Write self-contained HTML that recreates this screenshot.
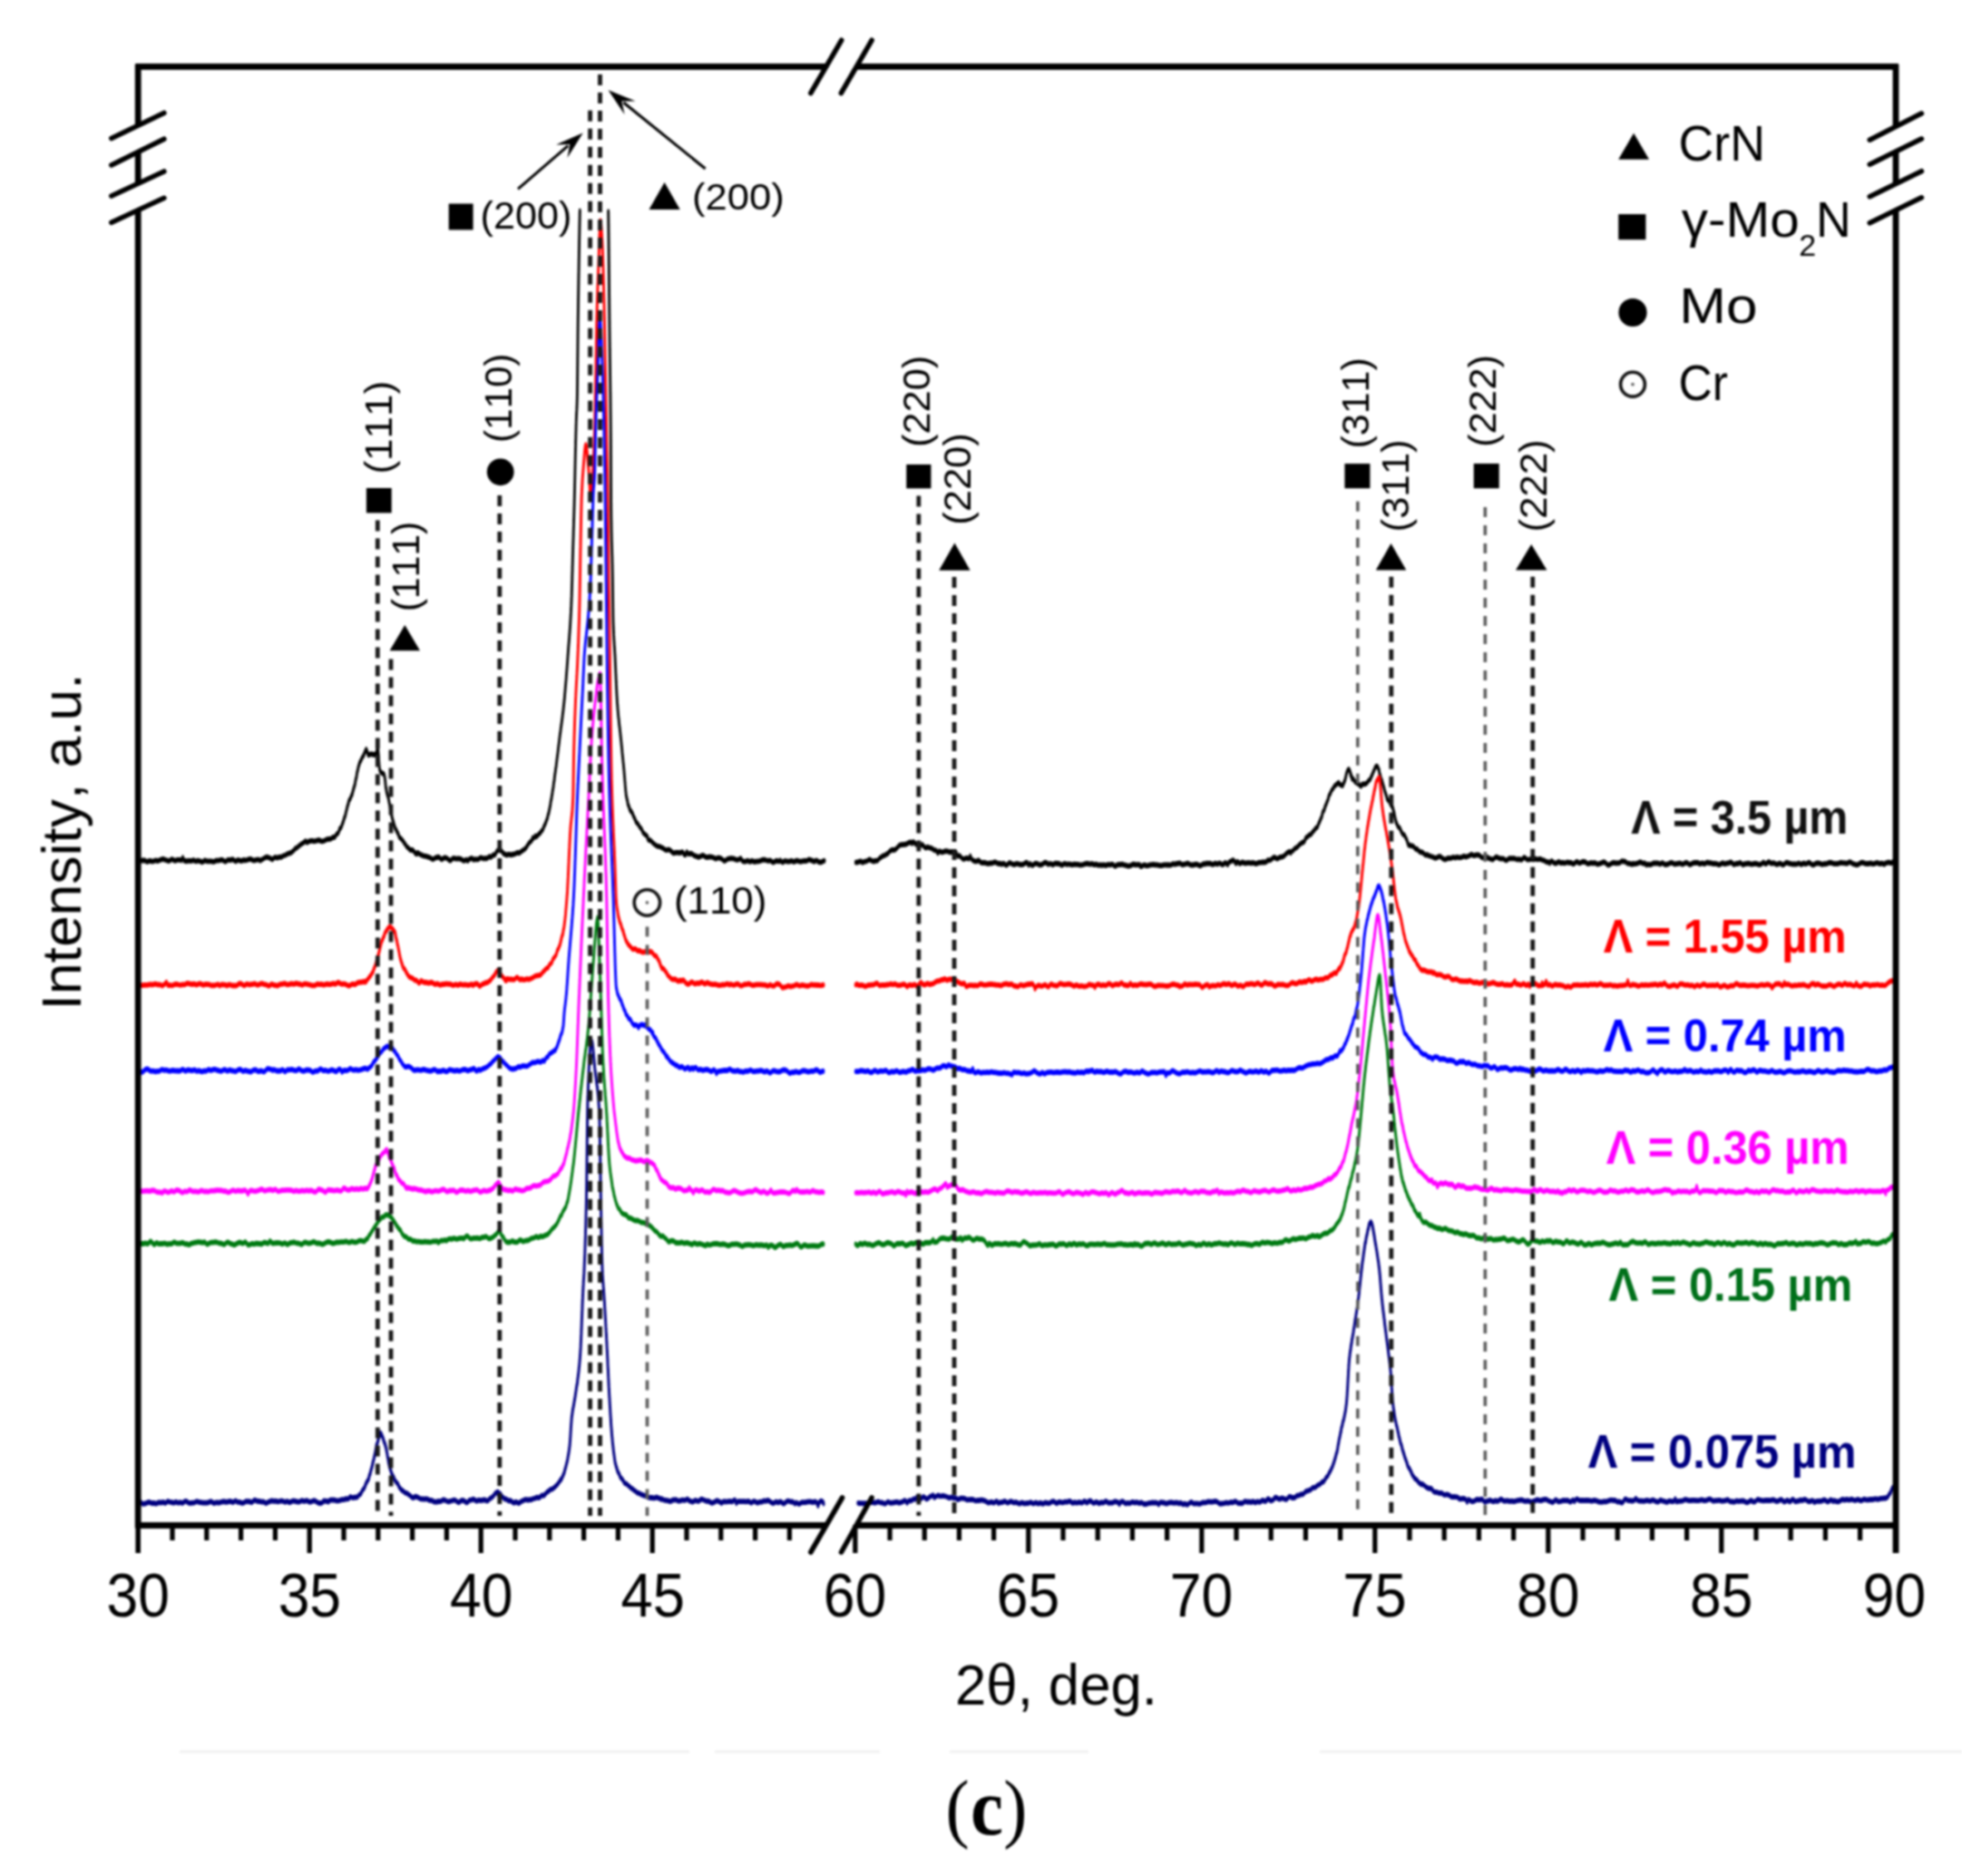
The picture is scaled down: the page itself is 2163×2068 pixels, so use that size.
<!DOCTYPE html>
<html><head><meta charset="utf-8"><title>XRD patterns</title><style>html,body{margin:0;padding:0;background:#fff;width:2163px;height:2068px;overflow:hidden}</style></head><body><svg width="2163" height="2068" viewBox="0 0 2163 2068" style="display:block;font-kerning:none;filter:blur(0.8px)">
<rect width="2163" height="2068" fill="#ffffff"/>
<g stroke="#f1f1f1" stroke-width="3">
<line x1="198" y1="1931" x2="760" y2="1931"/>
<line x1="788" y1="1931" x2="970" y2="1931"/>
<line x1="1047" y1="1931" x2="1200" y2="1931"/>
<line x1="1455" y1="1931" x2="2163" y2="1931"/>
</g>
<path transform="scale(0.48 1)" d="M316.7 949.6L319.8 949.6 322.9 949.0 326.0 948.5 329.2 948.4 332.3 948.5 335.4 949.4 338.5 950.0 341.7 949.1 344.8 948.8 347.9 949.4 351.0 949.6 354.2 949.0 357.3 948.5 360.4 948.9 363.5 949.0 366.7 948.2 369.8 947.6 372.9 947.1 375.0 946.9 376.0 947.2 379.2 947.8 382.3 948.2 385.4 948.8 388.5 949.1 391.7 948.1 394.8 947.1 397.9 947.8 401.0 948.8 404.2 948.5 407.3 947.8 410.4 947.8 413.5 947.9 416.7 948.5 419.8 945.4 422.9 948.8 426.0 949.0 429.2 949.4 432.3 948.9 435.4 948.8 438.5 949.1 441.7 948.7 444.8 948.2 447.9 949.1 451.0 949.4 454.2 948.7 457.3 949.1 458.3 949.2 460.4 949.3 463.5 950.4 466.7 949.8 469.8 948.5 472.9 948.8 476.0 949.3 479.2 949.3 482.3 949.3 485.4 949.3 488.5 949.8 491.7 949.9 494.8 949.0 497.9 948.6 501.0 948.6 504.2 948.4 507.3 947.9 510.4 947.9 513.5 948.7 516.7 949.7 519.8 949.3 522.9 947.9 526.0 947.9 529.2 948.3 532.3 947.3 535.4 947.5 538.5 948.7 541.7 949.5 541.7 949.3 544.8 948.4 547.9 948.0 551.0 948.6 554.1 949.1 557.3 948.4 560.4 948.0 563.5 948.3 566.6 948.1 569.8 947.5 572.9 947.1 576.0 946.8 579.1 947.9 582.2 948.5 585.4 948.4 588.5 947.9 591.6 947.7 594.7 947.7 597.8 948.8 601.0 947.6 604.1 947.0 604.2 946.5 607.2 946.1 610.3 945.1 613.4 944.7 616.5 945.3 619.6 945.7 622.7 946.8 625.9 947.3 629.0 945.8 632.0 945.0 635.1 945.5 638.2 945.5 641.3 944.9 644.4 944.7 645.8 945.0 647.4 944.5 650.4 943.4 653.4 943.0 656.2 942.5 659.0 941.6 661.8 941.0 664.5 940.5 667.2 940.3 669.9 939.5 672.5 938.3 675.2 937.2 677.1 936.2 677.9 935.3 680.4 934.8 682.8 934.3 685.1 933.1 687.4 932.3 689.6 931.4 691.9 930.5 694.3 929.8 696.8 929.2 699.4 928.0 702.4 927.1 704.2 928.3 705.5 928.8 708.6 927.7 711.7 927.1 714.8 926.8 717.9 926.9 721.1 927.4 724.2 927.2 727.3 926.7 730.4 926.3 733.3 925.9 733.6 926.4 736.7 927.2 739.8 927.4 742.9 927.2 746.0 926.5 749.1 925.6 752.1 925.2 755.2 925.0 758.2 924.8 761.2 924.4 762.5 923.8 764.1 923.0 766.7 923.0 769.1 922.8 771.2 921.1 773.2 919.5 775.0 919.1 776.9 918.2 778.6 916.0 779.2 915.4 780.2 913.3 781.7 913.1 783.0 912.4 784.3 911.2 785.4 909.6 786.5 908.1 787.6 906.8 788.6 905.3 789.6 903.7 790.6 902.0 791.5 900.8 792.3 900.2 792.5 899.8 793.3 898.3 794.1 896.8 794.8 895.2 795.5 893.8 796.2 892.5 796.9 891.0 797.6 889.5 798.4 888.2 799.2 887.1 800.0 885.8 800.1 885.4 801.1 883.4 802.2 881.9 803.5 881.3 804.7 880.2 806.0 878.5 807.2 877.2 808.3 876.0 809.0 875.9 809.3 874.4 810.2 872.9 811.1 871.4 812.0 869.7 812.8 868.4 813.6 867.3 814.4 866.0 815.1 864.9 815.8 863.0 816.6 860.6 817.2 859.0 817.7 858.4 817.9 857.9 818.6 856.6 819.1 855.1 819.7 853.1 820.2 851.5 820.8 850.5 821.5 849.3 822.1 847.9 822.2 847.6 823.0 845.8 823.9 844.2 824.8 843.0 825.8 841.4 826.8 839.9 828.0 839.1 829.2 838.2 829.3 837.8 830.9 836.1 832.6 834.6 834.3 833.3 834.4 833.4 835.5 832.5 836.4 831.1 837.3 829.9 838.2 828.9 839.3 827.6 841.0 826.0 841.3 826.1 842.6 827.5 843.4 829.1 844.2 829.8 845.2 831.4 845.8 832.3 848.1 832.0 851.0 831.3 854.0 831.2 854.2 831.7 856.5 831.6 858.4 831.8 860.7 832.2 861.0 831.3 862.6 831.2 863.5 831.0 864.4 830.4 865.2 828.6 866.1 826.6 867.7 825.4 867.8 826.4 868.4 827.6 868.8 829.0 869.0 830.5 869.3 832.1 869.5 833.7 869.7 835.2 869.9 836.5 870.1 838.0 870.4 839.5 870.6 841.0 870.8 842.5 871.0 843.9 871.3 845.3 871.7 846.8 872.1 847.8 872.4 849.0 873.6 850.6 875.3 851.3 877.6 852.4 880.0 852.7 881.7 853.2 883.0 855.2 883.3 856.0 883.8 857.0 884.2 858.3 884.6 860.2 884.9 861.6 885.2 863.2 885.5 864.7 885.8 866.2 886.1 867.8 886.6 869.0 886.7 868.9 887.1 870.2 887.7 872.2 888.5 874.1 889.3 875.4 890.1 876.7 890.9 877.9 891.7 879.2 892.1 879.9 892.4 880.6 893.0 882.3 893.6 884.0 894.2 885.4 894.7 886.5 895.3 887.8 895.8 889.5 896.4 891.4 896.9 892.8 897.5 894.0 898.0 895.2 898.6 896.5 899.2 898.3 899.9 900.0 900.0 900.0 900.6 901.1 901.3 902.6 902.1 904.0 902.9 905.1 903.7 906.6 904.6 908.3 905.0 909.0 905.7 909.9 906.8 911.7 908.0 913.3 909.2 914.2 910.4 915.2 911.7 916.8 913.1 918.0 914.5 919.2 916.0 921.3 917.5 923.1 919.1 923.7 920.9 924.3 922.7 925.4 924.2 926.4 924.6 926.3 926.6 927.7 928.6 929.5 930.7 930.6 932.8 932.3 935.0 933.8 937.2 934.4 939.4 935.6 941.8 936.9 944.2 937.0 946.7 936.9 949.2 937.6 951.9 939.3 954.6 941.2 957.5 941.3 957.5 940.1 960.4 940.2 963.3 941.2 966.3 942.1 969.2 942.7 972.2 943.3 975.2 943.7 978.2 943.9 981.2 944.3 984.2 944.8 987.3 945.3 990.3 946.3 993.4 947.2 996.5 946.9 999.6 945.7 1002.7 945.2 1005.4 945.4 1005.8 944.7 1009.0 945.1 1012.1 946.8 1015.2 947.3 1018.3 946.2 1021.4 945.4 1024.6 945.7 1027.7 946.5 1030.8 947.9 1033.9 948.8 1037.0 947.7 1040.2 946.2 1043.3 946.1 1046.4 946.7 1049.5 946.7 1052.7 946.5 1055.8 946.6 1058.9 947.0 1062.0 948.1 1065.2 948.8 1068.3 948.3 1071.4 947.6 1074.5 949.1 1077.1 947.4 1077.7 947.0 1080.8 946.6 1083.9 945.9 1087.0 947.8 1090.1 947.2 1093.3 947.3 1096.4 947.4 1099.5 947.0 1102.6 945.7 1105.7 945.5 1108.8 946.3 1111.9 946.3 1115.0 946.1 1118.1 946.3 1121.1 945.4 1124.2 944.1 1125.0 944.3 1127.2 945.0 1129.9 943.9 1132.5 942.5 1134.9 942.5 1137.2 942.2 1137.5 941.8 1139.3 940.1 1141.0 938.3 1142.7 937.5 1144.7 937.3 1146.3 937.3 1147.5 936.9 1149.7 937.4 1151.6 938.0 1153.4 938.8 1155.5 940.4 1156.2 941.1 1158.4 941.2 1161.3 942.2 1164.3 942.5 1167.4 941.8 1170.5 941.9 1172.9 942.3 1173.6 942.4 1176.7 942.0 1179.8 941.6 1182.8 941.3 1185.8 940.5 1188.7 939.9 1191.6 940.3 1194.4 939.9 1196.5 938.8 1197.3 938.6 1199.9 937.7 1202.2 936.9 1204.4 936.3 1206.4 935.5 1208.4 934.4 1210.3 932.9 1212.1 931.5 1214.0 930.2 1215.9 928.9 1217.9 928.1 1219.9 927.1 1222.0 926.1 1223.3 923.5 1224.3 924.2 1226.8 923.5 1229.3 921.5 1231.9 922.5 1234.5 921.1 1237.0 919.7 1239.4 918.7 1241.5 918.0 1242.1 917.2 1243.4 916.0 1245.2 915.7 1246.7 914.7 1248.1 912.6 1249.4 911.0 1250.7 909.8 1251.9 908.6 1253.0 907.5 1254.1 905.9 1255.1 904.6 1256.1 903.4 1257.1 902.0 1257.3 901.6 1258.0 900.2 1258.8 898.3 1259.5 897.3 1260.2 896.5 1260.9 895.0 1261.5 893.3 1262.2 891.9 1262.8 890.4 1263.3 889.2 1263.9 887.8 1264.5 885.7 1265.0 883.8 1265.6 882.4 1266.1 881.1 1266.7 880.1 1266.7 880.2 1267.2 878.2 1267.7 876.6 1268.2 875.5 1268.7 874.0 1269.1 872.2 1269.6 870.8 1270.1 869.6 1270.5 868.1 1271.0 867.2 1271.4 864.8 1271.8 863.3 1272.2 862.0 1272.7 861.0 1273.1 859.6 1273.5 857.7 1273.9 855.8 1274.4 854.2 1274.7 853.1 1275.2 851.8 1275.6 850.3 1276.0 848.7 1276.2 847.7 1276.4 847.2 1276.9 846.0 1277.3 844.8 1277.7 843.4 1278.1 841.5 1278.5 839.8 1278.9 838.2 1279.3 836.7 1279.7 835.2 1280.1 833.8 1280.5 832.3 1280.9 831.0 1281.3 829.5 1281.6 828.1 1282.0 826.8 1282.4 824.8 1282.8 823.3 1283.2 821.9 1283.6 820.4 1284.0 819.1 1284.4 817.5 1284.7 815.9 1285.1 814.4 1285.5 812.8 1285.8 811.7 1285.9 811.4 1286.3 809.7 1286.7 808.5 1287.1 807.2 1287.5 805.7 1287.9 804.0 1288.3 802.5 1288.7 801.0 1289.2 799.5 1289.6 798.2 1290.0 796.6 1290.4 795.1 1290.8 793.7 1291.2 792.3 1291.6 790.8 1292.0 789.3 1292.3 787.8 1292.7 786.1 1293.1 784.8 1293.4 783.5 1293.8 782.0 1294.1 780.4 1294.5 778.8 1294.8 777.4 1295.1 776.0 1295.2 775.7 1295.5 774.4 1295.8 772.7 1296.1 771.5 1296.4 770.3 1296.7 768.7 1297.0 767.0 1297.2 765.3 1297.5 764.0 1297.8 762.3 1298.1 760.6 1298.4 759.2 1298.6 757.6 1298.9 756.2 1299.1 754.9 1299.4 753.6 1299.6 752.1 1299.9 750.6 1300.2 749.4 1300.4 747.8 1300.7 746.0 1300.9 744.4 1301.1 742.8 1301.4 741.4 1301.6 740.0 1301.9 738.6 1302.1 737.1 1302.4 735.6 1302.6 734.1 1302.8 732.5 1303.1 731.2 1303.3 729.8 1303.5 728.2 1303.8 726.6 1304.0 725.1 1304.2 723.5 1304.5 721.9 1304.6 721.1 1304.7 720.6 1304.9 719.1 1305.2 717.5 1305.4 715.8 1305.6 714.4 1305.9 712.9 1306.1 711.2 1306.4 709.8 1306.6 708.5 1306.9 707.2 1307.1 705.8 1307.4 704.1 1307.6 702.7 1307.8 701.0 1308.1 699.3 1308.3 697.9 1308.5 696.8 1308.7 695.4 1308.9 694.0 1309.2 692.3 1309.4 690.9 1309.6 689.3 1309.8 687.7 1310.0 686.1 1310.1 684.7 1310.3 683.4 1310.5 681.8 1310.7 680.3 1310.9 678.7 1311.0 677.2 1311.2 675.9 1311.4 674.3 1311.5 672.7 1311.7 671.2 1311.8 669.7 1312.0 668.1 1312.1 667.1 1312.1 666.6 1312.2 665.0 1312.4 663.6 1312.5 662.2 1312.6 660.5 1312.7 659.1 1312.9 657.5 1313.0 656.1 1313.1 654.5 1313.1 653.3 1313.2 651.7 1313.4 650.1 1313.4 648.7 1313.5 647.0 1313.6 645.6 1313.7 644.2 1313.8 642.5 1313.9 641.1 1314.0 639.7 1314.1 638.2 1314.1 636.7 1314.2 634.9 1314.3 633.5 1314.4 632.0 1314.5 630.5 1314.6 629.1 1314.7 627.7 1314.7 626.2 1314.8 624.6 1314.9 623.1 1315.0 621.6 1315.1 620.0 1315.2 618.5 1315.2 617.0 1315.3 615.6 1315.4 614.0 1315.5 612.5 1315.6 611.1 1315.7 609.7 1315.8 607.9 1315.9 606.5 1315.9 605.2 1316.0 603.8 1316.0 603.4 1316.1 602.0 1316.2 600.6 1316.3 598.9 1316.4 597.6 1316.5 596.3 1316.6 594.6 1316.7 593.2 1316.8 591.5 1316.9 590.3 1317.0 588.6 1317.0 587.2 1317.1 585.5 1317.2 584.3 1317.3 582.8 1317.4 581.4 1317.5 579.6 1317.6 578.4 1317.7 576.7 1317.8 575.3 1317.9 573.5 1318.0 572.3 1318.1 570.6 1318.2 569.1 1318.2 567.8 1318.4 566.1 1318.4 564.7 1318.5 563.3 1318.6 561.7 1318.7 560.2 1318.8 558.5 1318.9 557.0 1319.0 555.6 1319.0 554.1 1319.1 552.5 1319.2 551.0 1319.3 549.5 1319.4 547.9 1319.4 546.8 1319.5 545.2 1319.6 543.6 1319.7 541.9 1319.7 540.8 1319.8 540.1 1319.8 539.3 1319.9 537.6 1320.0 536.2 1320.0 534.7 1320.1 532.9 1320.2 531.5 1320.2 530.1 1320.3 528.7 1320.4 527.2 1320.4 525.7 1320.5 524.3 1320.6 522.8 1320.6 521.3 1320.7 519.8 1320.7 518.3 1320.8 516.8 1320.9 515.2 1320.9 513.7 1321.0 512.3 1321.1 510.4 1321.1 509.0 1321.2 507.6 1321.3 506.1 1321.3 504.6 1321.4 503.3 1321.5 501.4 1321.5 500.1 1321.6 498.8 1321.7 497.5 1321.7 497.1 1321.8 495.4 1321.8 494.1 1321.9 492.5 1322.0 491.4 1322.1 489.7 1322.1 488.0 1322.2 487.1 1322.3 485.2 1322.4 483.6 1322.5 482.0 1322.5 480.6 1322.6 479.0 1322.7 477.5 1322.8 476.1 1322.9 474.5 1323.0 473.1 1323.0 471.7 1323.1 470.3 1323.2 468.6 1323.3 466.9 1323.4 465.8 1323.5 464.3 1323.5 464.1 1323.6 462.7 1323.7 461.3 1323.9 459.6 1324.0 458.3 1324.2 456.6 1324.3 455.3 1324.5 453.7 1324.7 452.0 1324.8 450.5 1325.0 449.0 1325.1 447.6 1325.2 446.2 1325.3 444.8 1325.4 443.3 1325.5 441.8 1325.6 439.9 1325.6 439.9 1325.7 438.7 1325.7 437.2 1325.8 435.6 1325.9 433.8 1325.9 432.4 1326.0 431.1 1326.0 429.7 1326.0 428.1 1326.1 426.5 1326.1 424.9 1326.2 423.2 1326.2 422.3 1326.2 420.5 1326.3 418.7 1326.3 417.7 1326.3 415.8 1326.4 414.8 1326.4 412.8 1326.4 411.8 1326.5 409.8 1326.5 408.8 1326.5 406.8 1326.5 405.7 1326.6 403.6 1326.6 402.5 1326.6 400.4 1326.7 399.3 1326.7 398.3 1326.7 396.1 1326.7 395.0 1326.8 392.8 1326.8 391.8 1326.8 390.7 1326.9 388.6 1326.9 387.4 1326.9 386.3 1327.0 384.1 1327.0 383.1 1327.0 380.9 1327.0 379.8 1327.1 378.8 1327.1 376.6 1327.1 375.6 1327.2 373.5 1327.2 372.4 1327.2 370.4 1327.2 369.4 1327.3 367.4 1327.3 366.4 1327.4 364.5 1327.4 363.5 1327.4 361.7 1327.4 360.8 1327.5 358.9 1327.5 357.2 1327.5 356.3 1327.6 354.6 1327.6 353.0 1327.7 351.5 1327.7 350.0 1327.7 350.0 1327.7 348.6 1327.8 347.1 1327.8 345.7 1327.9 344.2 1327.9 342.8 1328.0 340.8 1328.0 339.3 1328.1 337.9 1328.1 336.5 1328.1 335.1 1328.2 333.7 1328.2 332.3 1328.3 330.2 1328.3 328.9 1328.4 327.6 1328.4 326.2 1328.5 324.9 1328.5 322.9 1328.6 321.5 1328.6 320.2 1328.7 318.3 1328.7 317.0 1328.7 315.7 1328.8 314.3 1328.9 312.4 1328.9 311.1 1328.9 309.8 1329.0 307.9 1329.0 306.7 1329.1 304.8 1329.1 303.5 1329.2 302.3 1329.2 300.4 1329.3 299.2 1329.4 297.3 1329.4 296.1 1329.5 294.3 1329.5 293.1 1329.6 291.3 1329.6 290.1 1329.7 288.4 1329.7 287.2 1329.8 285.4 1329.8 284.3 1329.9 282.6 1329.9 281.0 1330.0 279.8 1330.0 278.0 1330.1 276.9 1330.1 275.2 1330.2 273.6 1330.3 271.9 1330.3 270.8 1330.4 269.1 1330.4 267.5 1330.5 265.8 1330.5 264.8 1330.6 263.2 1330.7 261.6 1330.7 260.1 1330.8 258.5 1330.9 256.9 1330.9 255.3 1331.0 254.3 1331.0 252.8 1331.1 251.4 1331.1 249.8 1331.2 248.3 1331.3 246.9 1331.3 245.3 1331.4 243.4 1331.5 242.0 1331.5 240.5 1331.6 239.1 1331.7 237.6 1331.7 236.2 1331.8 234.8 1331.9 233.0 1331.9 233.0 1331.9 232.5M1397.3 233.1L1397.3 233.1 1397.3 234.1 1397.4 235.4 1397.4 237.5 1397.5 238.9 1397.5 240.3 1397.6 241.7 1397.6 243.3 1397.6 244.8 1397.7 246.5 1397.7 248.1 1397.7 248.9 1397.8 250.6 1397.8 252.4 1397.9 254.2 1397.9 255.1 1397.9 256.9 1398.0 257.8 1398.0 259.7 1398.0 261.6 1398.1 262.6 1398.1 264.6 1398.1 265.6 1398.2 267.6 1398.2 268.6 1398.2 270.6 1398.2 271.7 1398.3 273.7 1398.3 274.8 1398.3 275.9 1398.4 278.0 1398.4 279.0 1398.4 281.2 1398.5 282.3 1398.5 283.3 1398.5 285.5 1398.5 286.6 1398.6 288.8 1398.6 289.9 1398.6 291.1 1398.7 293.3 1398.7 294.4 1398.7 295.6 1398.7 297.8 1398.8 299.0 1398.8 300.1 1398.8 302.3 1398.9 303.4 1398.9 304.6 1398.9 306.9 1398.9 308.0 1399.0 309.1 1399.0 311.4 1399.0 312.5 1399.0 313.6 1399.1 314.8 1399.1 317.1 1399.1 318.2 1399.1 319.4 1399.2 321.6 1399.2 322.7 1399.2 323.8 1399.3 326.1 1399.3 327.2 1399.3 328.4 1399.4 330.6 1399.4 331.7 1399.4 332.8 1399.4 335.0 1399.5 336.2 1399.5 338.4 1399.5 339.4 1399.5 340.6 1399.6 342.7 1399.6 343.8 1399.6 344.8 1399.7 346.9 1399.7 348.0 1399.7 350.1 1399.7 351.1 1399.8 353.2 1399.8 354.2 1399.9 356.2 1399.9 357.2 1399.9 359.2 1399.9 360.1 1400.0 362.0 1400.0 363.0 1400.0 363.0 1400.0 364.9 1400.1 365.9 1400.1 367.7 1400.1 369.4 1400.2 370.3 1400.2 372.1 1400.2 373.8 1400.3 375.5 1400.3 376.4 1400.4 378.1 1400.4 379.8 1400.4 381.4 1400.5 382.9 1400.5 383.7 1400.5 385.3 1400.6 386.9 1400.6 388.5 1400.7 390.1 1400.7 391.7 1400.7 393.3 1400.8 394.8 1400.8 396.2 1400.9 397.8 1400.9 399.3 1401.0 400.8 1401.0 402.2 1401.0 403.8 1401.1 405.3 1401.1 406.8 1401.2 408.3 1401.2 409.8 1401.2 411.4 1401.3 412.9 1401.3 414.5 1401.4 415.3 1401.4 416.9 1401.4 418.4 1401.5 420.0 1401.5 421.6 1401.6 423.2 1401.6 424.9 1401.6 426.6 1401.7 427.4 1401.7 429.1 1401.7 430.8 1401.8 432.6 1401.8 433.5 1401.9 435.3 1401.9 437.1 1401.9 438.0 1402.0 439.9 1402.0 440.9 1402.0 442.7 1402.1 444.6 1402.1 445.6 1402.1 447.6 1402.1 448.6 1402.2 450.7 1402.2 451.7 1402.2 453.8 1402.3 454.9 1402.3 455.9 1402.3 458.1 1402.4 459.2 1402.4 460.4 1402.4 462.7 1402.4 463.8 1402.5 465.0 1402.5 467.4 1402.5 468.6 1402.5 469.8 1402.6 471.0 1402.6 473.5 1402.6 474.8 1402.6 476.1 1402.7 477.4 1402.7 478.7 1402.7 480.0 1402.7 480.0 1402.7 481.4 1402.7 482.9 1402.8 484.5 1402.8 486.2 1402.8 488.0 1402.8 489.9 1402.9 491.9 1402.9 494.0 1402.9 496.2 1402.9 498.4 1402.9 500.6 1403.0 502.9 1403.0 505.3 1403.0 507.7 1403.0 510.1 1403.0 512.5 1403.1 515.0 1403.1 517.4 1403.1 519.9 1403.1 522.3 1403.1 524.8 1403.2 527.2 1403.2 529.6 1403.2 531.9 1403.2 534.3 1403.2 536.6 1403.3 538.8 1403.3 541.0 1403.3 543.1 1403.3 545.1 1403.4 547.1 1403.4 549.0 1403.4 550.7 1403.4 552.4 1403.4 553.9 1403.5 555.4 1403.5 558.0 1403.5 559.1 1403.5 560.0 1403.5 560.0 1403.6 561.7 1403.6 563.4 1403.7 565.0 1403.7 566.5 1403.7 568.0 1403.8 569.5 1403.8 571.0 1403.9 572.4 1403.9 573.7 1404.0 575.1 1404.0 576.4 1404.1 578.3 1404.1 579.5 1404.2 581.2 1404.2 582.4 1404.3 584.0 1404.3 585.5 1404.4 587.0 1404.5 588.5 1404.5 589.9 1404.6 591.7 1404.7 593.0 1404.7 594.6 1404.8 596.2 1404.9 597.7 1405.0 599.3 1405.1 600.7 1405.2 602.0 1405.3 603.7 1405.4 605.0 1405.5 606.6 1405.5 607.9 1405.6 609.6 1405.7 611.0 1405.8 612.3 1405.9 613.7 1406.0 615.3 1406.1 617.2 1406.1 618.6 1406.2 620.3 1406.3 621.6 1406.4 622.9 1406.4 624.8 1406.5 626.3 1406.5 627.3 1406.6 629.0 1406.7 630.7 1406.7 630.6 1406.7 632.3 1406.8 633.5 1406.8 634.8 1406.9 636.9 1406.9 638.3 1407.0 639.8 1407.0 641.2 1407.0 642.8 1407.1 644.3 1407.1 645.8 1407.2 647.4 1407.2 649.0 1407.2 650.6 1407.3 651.4 1407.3 653.0 1407.4 654.7 1407.4 656.3 1407.4 657.9 1407.5 659.5 1407.5 661.0 1407.6 662.6 1407.6 663.4 1407.6 665.0 1407.7 666.5 1407.7 668.0 1407.7 669.5 1407.8 670.9 1407.9 673.0 1407.9 674.4 1407.9 675.7 1408.0 676.9 1408.0 678.6 1408.1 680.2 1408.2 681.7 1408.2 683.1 1408.3 684.6 1408.3 685.0 1408.4 686.0 1408.5 687.5 1408.6 688.9 1408.7 690.5 1408.8 692.0 1409.0 693.4 1409.1 695.0 1409.2 696.4 1409.4 697.9 1409.5 699.3 1409.7 700.8 1409.8 702.2 1410.0 703.9 1410.2 705.4 1410.4 706.9 1410.6 708.3 1410.8 710.0 1411.0 711.7 1411.2 713.1 1411.5 714.5 1411.6 715.9 1411.8 717.3 1412.0 719.0 1412.2 720.5 1412.3 721.5 1412.4 722.0 1412.5 723.2 1412.7 724.9 1412.8 726.4 1413.0 728.0 1413.1 729.5 1413.2 730.9 1413.4 732.5 1413.5 734.0 1413.7 735.4 1413.8 736.7 1414.0 738.2 1414.1 739.7 1414.2 741.4 1414.4 743.0 1414.5 744.4 1414.7 746.0 1414.8 747.6 1415.0 749.1 1415.1 750.5 1415.2 751.7 1415.4 753.3 1415.5 754.8 1415.7 756.2 1415.8 758.0 1416.0 759.4 1416.1 760.7 1416.3 762.3 1416.4 763.7 1416.6 765.3 1416.8 766.8 1417.0 768.4 1417.1 769.7 1417.3 771.2 1417.5 772.8 1417.7 774.4 1417.9 775.7 1417.9 775.6 1418.2 776.8 1418.4 778.5 1418.7 780.4 1418.9 782.0 1419.2 783.4 1419.5 784.7 1419.7 786.2 1420.0 788.0 1420.3 789.6 1420.6 790.8 1421.0 792.0 1421.3 793.5 1421.6 795.4 1422.0 797.3 1422.3 798.7 1422.6 800.0 1423.0 801.2 1423.4 802.6 1423.7 804.2 1424.0 805.5 1424.4 807.0 1424.7 808.7 1425.0 810.3 1425.4 811.8 1425.4 811.9 1425.7 812.9 1426.0 814.3 1426.3 815.8 1426.6 817.0 1426.9 818.6 1427.2 820.1 1427.5 821.7 1427.9 823.1 1428.2 824.5 1428.5 826.2 1428.8 827.9 1429.1 829.8 1429.4 831.2 1429.7 832.4 1430.0 833.8 1430.4 835.6 1430.7 837.0 1431.0 838.5 1431.3 840.1 1431.6 841.4 1431.9 842.6 1432.2 844.1 1432.5 845.9 1432.8 847.3 1432.9 847.7 1433.1 848.6 1433.4 850.4 1433.6 851.9 1433.9 853.4 1434.2 854.9 1434.4 856.4 1434.7 857.7 1434.9 859.3 1435.2 861.2 1435.4 862.2 1435.7 863.5 1435.9 865.2 1436.2 867.0 1436.5 868.4 1436.7 869.8 1437.0 871.5 1437.4 873.0 1437.7 874.5 1438.0 876.2 1438.5 877.6 1438.8 878.0 1439.0 878.5 1439.6 880.1 1440.3 881.2 1441.0 882.7 1441.8 885.2 1442.6 887.0 1443.6 888.1 1444.6 889.1 1445.7 891.0 1446.8 892.8 1447.9 893.7 1448.0 893.1 1449.1 893.9 1450.4 895.0 1451.7 895.9 1453.1 897.3 1454.6 899.3 1456.1 900.7 1457.7 902.1 1459.3 904.1 1460.9 906.2 1461.2 906.3 1462.5 906.8 1464.1 907.9 1465.7 908.7 1467.4 910.0 1469.0 911.5 1470.7 912.3 1472.4 913.2 1474.1 914.6 1475.8 916.6 1477.6 918.3 1479.5 919.0 1481.4 919.8 1483.3 920.6 1485.4 921.2 1487.5 922.8 1487.6 924.5 1489.8 926.2 1492.1 926.2 1494.4 926.5 1496.7 927.7 1499.0 928.8 1501.4 930.0 1503.8 930.9 1506.2 931.8 1508.8 932.6 1511.4 932.9 1514.0 933.1 1516.7 933.5 1519.5 934.2 1522.3 934.9 1525.3 935.7 1525.4 935.9 1528.3 936.8 1531.3 937.2 1534.3 936.7 1537.4 936.7 1540.4 937.7 1543.5 939.3 1546.6 940.5 1549.6 940.1 1552.7 939.9 1555.8 939.9 1558.9 939.8 1562.0 940.3 1565.1 939.4 1568.2 939.3 1571.3 942.0 1574.4 942.4 1577.5 939.1 1580.5 941.1 1581.9 941.4 1583.6 941.2 1586.7 940.8 1589.8 941.4 1592.8 942.6 1595.9 943.4 1599.0 943.9 1602.0 944.5 1605.1 944.9 1608.2 944.2 1611.3 943.4 1614.4 942.8 1617.5 943.5 1620.6 944.9 1623.7 944.9 1625.0 945.0 1626.8 944.9 1629.9 944.4 1633.0 944.7 1636.1 944.9 1639.2 945.5 1642.3 946.4 1645.4 946.5 1648.5 945.7 1651.6 945.6 1654.7 946.2 1657.9 946.9 1661.0 948.2 1664.1 949.1 1667.2 948.3 1670.3 947.2 1673.5 946.7 1676.6 946.3 1679.7 946.1 1682.8 946.3 1685.9 946.7 1689.0 947.4 1692.2 947.9 1695.3 947.6 1698.4 947.1 1701.5 946.1 1704.6 948.8 1707.8 949.5 1708.3 949.8 1710.9 949.7 1714.0 949.3 1717.1 948.7 1720.3 949.5 1723.4 949.9 1726.5 948.8 1729.6 949.3 1732.7 950.1 1735.9 949.6 1739.0 949.6 1742.1 949.4 1745.2 949.2 1748.4 948.4 1751.5 948.0 1754.6 947.7 1757.7 948.0 1760.9 948.5 1764.0 949.0 1767.1 948.7 1770.2 948.7 1773.4 950.2 1776.5 950.6 1779.6 949.7 1782.7 948.9 1785.9 949.0 1789.0 949.5 1791.7 948.9 1792.1 948.2 1795.2 950.0 1798.4 950.7 1801.5 949.1 1804.6 949.2 1807.7 949.6 1810.9 949.6 1814.0 949.6 1817.1 948.8 1820.2 949.3 1823.4 950.1 1826.5 949.4 1829.6 948.7 1832.7 949.0 1835.9 949.5 1839.0 949.8 1842.1 949.4 1845.2 949.1 1848.4 948.9 1851.5 949.2 1854.6 948.5 1857.7 947.4 1860.9 948.0 1864.0 948.4 1867.1 949.1 1870.2 949.8 1873.4 948.7 1876.5 948.7 1879.6 950.0 1882.7 950.4 1885.9 950.5 1889.0 949.8 1892.1 948.8 1893.8 948.9M1965.2 950.6L1968.3 950.7 1971.5 950.1 1974.6 949.6 1977.7 949.5 1980.8 950.8 1984.0 950.1 1987.1 949.7 1990.2 949.3 1993.3 948.5 1996.4 947.5 1999.5 947.9 2002.6 948.9 2005.7 949.5 2007.7 949.5 2008.9 949.0 2011.9 948.8 2014.8 948.8 2017.7 947.6 2020.5 946.0 2023.1 945.1 2025.8 944.3 2028.4 943.3 2030.9 943.1 2033.5 942.5 2036.0 941.6 2038.6 941.1 2041.1 939.7 2043.7 938.3 2046.4 937.4 2049.2 936.7 2050.2 936.8 2052.0 937.0 2054.8 936.9 2057.5 936.0 2060.3 934.7 2063.0 933.2 2065.7 931.9 2068.5 931.4 2071.3 931.2 2074.1 931.1 2076.9 930.9 2079.8 930.8 2082.7 930.2 2085.7 929.4 2088.7 928.7 2091.8 928.4 2094.9 930.0 2095.4 928.5 2098.0 928.0 2101.0 929.4 2103.9 930.8 2106.6 930.4 2109.5 930.1 2112.4 930.0 2112.5 930.3 2115.4 931.7 2118.4 931.0 2121.5 932.8 2124.5 934.4 2127.6 934.6 2129.8 933.6 2130.6 933.7 2133.6 934.4 2136.5 934.7 2139.4 935.1 2142.2 935.9 2145.1 937.0 2148.1 937.3 2151.0 937.6 2151.1 938.0 2154.1 940.5 2157.1 938.2 2160.2 938.8 2163.2 939.5 2166.3 939.2 2169.4 938.5 2172.5 938.2 2175.6 938.4 2178.6 938.7 2181.7 939.6 2184.7 938.9 2187.7 939.4 2188.3 940.3 2190.6 941.6 2193.4 941.8 2196.1 939.8 2198.9 943.5 2201.6 943.6 2204.2 943.2 2204.5 943.5 2207.5 945.0 2210.4 946.5 2213.4 947.1 2216.4 946.5 2219.4 945.9 2222.4 946.1 2225.4 946.8 2228.5 943.7 2231.5 947.1 2234.6 948.3 2237.6 949.3 2240.7 949.4 2243.8 949.3 2246.7 948.7 2246.9 948.2 2250.0 949.3 2253.1 950.9 2256.2 951.1 2259.3 950.9 2262.4 951.2 2265.5 951.5 2268.6 952.0 2271.7 951.8 2274.8 951.4 2277.9 951.6 2281.0 951.0 2284.1 950.4 2287.2 950.6 2290.4 951.6 2293.5 952.0 2296.6 951.9 2299.7 952.3 2299.8 952.8 2302.9 952.1 2306.0 951.9 2309.1 953.3 2312.2 953.7 2315.4 952.3 2318.5 951.0 2321.6 951.5 2324.7 952.5 2327.9 953.0 2331.0 952.9 2334.1 952.2 2337.2 952.1 2340.4 952.6 2343.5 953.0 2346.6 953.1 2349.7 952.9 2352.9 951.9 2356.0 950.9 2359.1 951.0 2362.2 953.6 2365.4 952.0 2368.5 953.4 2371.6 953.9 2374.7 952.8 2377.9 951.9 2381.0 951.9 2384.1 952.5 2387.2 953.4 2390.3 953.4 2393.5 952.9 2396.6 951.8 2399.7 950.8 2402.8 951.0 2405.8 951.7 2406.0 952.5 2409.1 952.5 2412.2 952.0 2415.3 952.6 2418.5 953.3 2421.6 952.2 2424.7 951.7 2427.8 952.0 2431.0 952.0 2434.1 952.4 2437.2 953.5 2440.3 953.5 2443.5 952.2 2446.6 952.2 2449.7 952.8 2452.8 952.7 2456.0 952.6 2459.1 952.9 2462.2 953.3 2465.3 952.9 2468.5 952.7 2471.6 952.9 2474.7 952.9 2477.8 953.2 2481.0 953.6 2484.1 953.4 2487.2 953.1 2490.3 952.7 2493.5 952.1 2496.6 951.8 2499.7 952.1 2502.8 952.6 2506.0 952.3 2509.1 952.2 2512.2 953.1 2515.3 953.0 2518.5 952.7 2521.6 953.7 2524.7 953.7 2527.8 953.5 2531.0 953.9 2534.1 953.4 2537.2 953.6 2540.3 954.1 2543.5 953.2 2546.6 953.1 2549.7 953.4 2552.8 952.8 2556.0 952.9 2559.1 954.3 2562.2 954.8 2565.3 953.5 2568.5 953.2 2571.6 952.8 2574.7 953.2 2577.8 952.7 2581.0 953.3 2584.1 953.7 2587.2 954.1 2590.3 954.6 2593.5 954.6 2596.6 954.1 2599.7 953.4 2602.8 952.7 2606.0 953.0 2609.1 953.4 2612.2 953.2 2615.3 953.1 2618.3 953.4 2618.5 954.9 2621.6 955.2 2624.7 954.0 2627.8 953.5 2631.0 953.8 2634.1 954.3 2637.2 954.1 2640.3 953.5 2643.5 953.3 2646.6 953.1 2649.7 953.0 2652.8 953.3 2656.0 953.3 2659.1 953.5 2662.2 954.0 2665.3 954.1 2668.5 954.1 2671.6 953.7 2674.7 953.3 2677.8 953.4 2681.0 953.5 2684.1 953.4 2687.2 953.7 2690.3 953.3 2693.5 952.4 2696.6 952.3 2699.7 952.8 2702.8 951.8 2706.0 952.0 2709.1 951.3 2712.2 952.3 2715.3 953.3 2718.5 952.9 2721.6 952.6 2724.7 952.2 2727.8 951.6 2731.0 952.5 2734.1 953.4 2737.2 953.5 2740.3 953.5 2743.5 953.1 2746.6 952.7 2749.7 952.8 2752.8 953.7 2756.0 954.4 2759.1 953.8 2762.2 952.9 2765.3 952.2 2768.5 952.6 2771.6 951.5 2774.7 952.1 2777.8 951.6 2780.9 952.1 2784.1 952.9 2787.2 952.9 2790.3 951.7 2793.4 952.1 2796.6 952.6 2799.7 951.6 2802.8 951.6 2805.9 952.9 2809.1 953.1 2812.2 951.5 2815.3 951.1 2818.4 952.7 2820.0 953.2 2821.5 951.4 2823.8 950.0 2825.9 949.8 2828.0 949.2 2830.6 948.7 2830.8 948.2 2833.5 948.4 2835.7 949.8 2838.1 951.9 2839.6 951.7 2841.1 949.8 2844.2 950.5 2847.4 952.0 2850.5 951.3 2853.6 950.4 2856.7 951.1 2859.8 951.5 2863.0 951.4 2866.1 951.2 2869.2 951.2 2872.3 951.4 2875.0 951.5 2875.5 951.2 2878.6 951.1 2881.7 951.7 2884.8 952.2 2887.9 951.6 2890.9 950.9 2893.9 950.8 2897.0 950.7 2900.0 950.5 2903.0 950.4 2906.0 950.5 2909.1 949.8 2911.0 948.5 2912.1 948.1 2915.2 948.4 2918.2 948.0 2921.3 946.8 2924.4 945.3 2927.4 945.0 2930.5 946.1 2933.5 946.7 2936.5 945.9 2939.5 944.9 2942.5 944.8 2945.5 944.3 2947.3 944.1 2948.4 943.8 2951.3 942.5 2954.0 941.2 2956.7 940.0 2959.3 939.2 2961.9 938.8 2964.4 940.4 2966.9 938.5 2969.4 937.8 2971.9 936.6 2972.5 935.9 2974.4 935.3 2976.9 934.6 2979.3 933.9 2981.7 932.7 2984.1 931.2 2986.5 930.4 2988.8 929.6 2991.1 928.8 2993.4 928.5 2995.7 927.7 2997.7 925.9 2998.0 924.7 3000.2 923.2 3002.5 922.7 3004.8 921.7 3007.1 920.3 3009.3 920.2 3011.5 919.5 3013.7 918.0 3015.8 916.6 3017.8 915.6 3019.8 914.6 3021.7 913.0 3023.5 912.4 3025.2 912.0 3026.7 910.7 3026.9 910.1 3028.4 908.4 3029.7 906.7 3030.9 905.7 3032.1 904.4 3033.1 902.8 3034.2 901.8 3035.3 900.9 3036.3 899.2 3037.4 896.8 3038.5 895.0 3039.6 894.0 3040.7 893.4 3041.0 893.4 3041.9 892.0 3043.0 890.0 3044.1 888.4 3045.2 887.4 3046.3 886.1 3047.4 884.5 3048.4 883.4 3049.5 882.2 3050.6 880.6 3051.7 878.4 3052.8 876.7 3054.0 875.9 3055.2 874.9 3056.4 873.5 3057.8 871.9 3059.2 870.7 3060.9 869.8 3062.7 868.7 3062.7 868.3 3064.9 866.7 3067.0 865.7 3069.3 864.9 3071.9 863.5 3074.9 862.7 3075.0 863.8 3077.9 864.9 3080.9 865.6 3084.0 866.0 3084.4 865.3 3086.1 863.6 3087.3 862.0 3088.2 861.1 3089.0 860.2 3089.7 858.8 3090.5 857.2 3091.2 855.7 3091.9 854.0 3092.7 852.5 3093.5 851.2 3094.4 850.0 3095.7 848.7 3097.1 848.2 3098.1 848.0 3099.5 849.0 3100.6 850.3 3101.5 852.0 3102.4 854.8 3103.3 854.3 3104.3 856.4 3105.6 858.8 3106.0 858.2 3107.7 858.3 3109.8 860.1 3112.0 861.7 3114.4 862.5 3116.9 863.3 3119.5 863.9 3122.3 865.2 3125.3 866.8 3127.7 865.9 3128.4 864.5 3131.5 864.4 3134.3 864.3 3137.0 863.9 3139.6 863.0 3142.0 861.4 3144.3 860.0 3145.8 859.7 3146.6 859.4 3148.3 857.7 3149.6 856.1 3150.8 854.9 3152.0 853.7 3153.1 852.3 3154.2 850.8 3155.4 849.7 3156.6 848.4 3157.9 846.6 3159.6 845.1 3162.1 844.6 3162.1 844.6 3164.2 845.2 3165.4 846.6 3166.4 848.2 3167.3 848.3 3168.2 851.9 3169.0 853.2 3169.9 854.5 3170.9 856.2 3171.0 857.1 3171.9 858.4 3172.8 859.3 3173.7 860.0 3174.6 861.5 3175.5 863.4 3176.3 864.8 3177.2 866.1 3178.0 867.5 3178.9 868.8 3179.7 870.6 3180.6 872.2 3181.5 873.4 3182.4 874.8 3183.4 876.2 3184.4 877.7 3185.4 879.4 3185.5 880.6 3186.8 881.1 3188.2 882.3 3189.6 882.9 3191.2 883.5 3192.8 885.4 3194.4 887.1 3195.9 888.2 3197.3 889.2 3198.6 890.3 3199.7 892.1 3200.0 893.2 3200.7 894.3 3201.5 895.2 3202.2 896.6 3202.8 898.4 3203.5 899.9 3204.1 901.6 3204.7 902.8 3205.5 904.0 3206.2 906.0 3207.1 907.3 3207.3 907.0 3208.5 908.6 3209.9 910.2 3211.4 911.5 3213.1 912.0 3214.9 912.8 3216.7 914.8 3218.6 916.9 3220.5 918.7 3222.3 919.7 3224.0 920.2 3225.2 920.4 3225.6 920.5 3227.0 921.8 3228.2 923.1 3229.5 924.2 3230.7 925.3 3232.0 927.2 3233.4 929.6 3235.0 931.7 3236.0 931.8 3237.1 931.5 3239.6 932.2 3242.2 932.4 3244.9 932.6 3247.7 933.7 3250.5 935.6 3253.3 936.3 3254.2 935.6 3256.0 936.5 3258.6 938.1 3261.2 939.0 3263.7 939.3 3266.3 939.5 3268.9 940.3 3271.6 941.7 3274.4 942.6 3277.4 942.2 3279.4 942.4 3280.4 943.2 3283.5 943.4 3286.6 944.0 3289.7 944.5 3292.8 945.2 3295.9 945.8 3299.0 945.6 3302.1 944.9 3305.2 944.1 3308.3 944.2 3311.4 945.6 3314.5 946.7 3317.6 947.3 3320.8 947.3 3323.9 946.4 3327.0 946.0 3330.1 946.2 3333.2 945.8 3336.4 945.2 3339.5 945.2 3342.6 945.6 3344.4 945.4 3345.7 944.6 3348.9 945.1 3352.0 945.3 3355.1 945.2 3358.2 944.8 3361.3 943.9 3364.4 944.2 3367.5 944.7 3370.5 944.0 3373.6 943.5 3376.7 942.6 3379.8 941.8 3382.9 942.8 3386.0 943.1 3389.1 942.6 3391.2 942.7 3392.2 942.3 3395.4 942.3 3398.4 943.1 3401.3 944.4 3404.2 945.4 3407.1 945.3 3410.0 946.1 3413.0 946.5 3416.1 944.9 3416.7 944.9 3419.2 946.2 3422.3 946.6 3425.4 947.1 3428.6 947.5 3431.7 946.5 3434.8 945.0 3437.9 944.7 3441.1 945.7 3444.2 946.4 3447.3 946.5 3450.4 946.7 3453.6 946.6 3456.7 948.0 3459.8 948.5 3462.9 947.5 3466.1 946.3 3469.2 946.1 3472.3 946.4 3475.4 946.2 3478.6 946.3 3481.7 947.0 3484.8 947.5 3487.9 947.2 3491.1 947.3 3494.2 947.9 3497.3 946.8 3500.4 945.1 3503.6 945.8 3506.7 947.3 3509.8 947.7 3512.9 947.3 3516.0 946.8 3519.2 947.0 3522.3 947.4 3525.0 947.1 3525.4 946.6 3528.5 947.0 3531.7 947.5 3534.8 947.0 3537.9 946.9 3541.0 947.8 3544.1 948.2 3547.1 948.7 3550.2 949.6 3553.3 950.3 3556.4 950.2 3559.5 951.7 3562.6 949.1 3565.6 949.7 3568.7 951.1 3571.9 951.7 3575.0 951.5 3578.1 950.3 3581.2 949.8 3583.3 951.2 3584.3 951.4 3587.4 951.0 3590.6 951.2 3593.7 951.5 3596.8 951.0 3599.9 950.4 3603.1 951.0 3606.2 950.8 3609.3 951.1 3612.4 952.3 3615.6 952.1 3618.7 950.5 3621.8 949.8 3624.9 950.8 3628.1 951.5 3631.2 950.8 3634.3 950.0 3637.4 949.8 3640.6 950.1 3643.7 951.2 3646.8 952.2 3649.9 951.9 3653.1 951.2 3656.2 951.3 3659.3 951.5 3662.4 951.1 3665.6 951.7 3668.7 952.7 3671.8 952.4 3674.9 951.8 3678.1 951.3 3681.2 950.6 3684.3 950.2 3687.4 951.1 3690.6 952.8 3693.7 953.6 3696.8 953.1 3699.9 952.3 3703.1 951.4 3706.2 950.9 3709.3 951.3 3712.4 951.5 3715.6 951.4 3718.7 951.4 3721.8 950.5 3724.9 949.2 3728.1 949.6 3731.2 949.5 3734.3 950.4 3737.4 951.7 3740.6 951.8 3743.7 952.0 3746.8 952.8 3749.9 952.6 3750.0 952.0 3753.1 952.4 3756.2 952.2 3759.3 951.8 3762.4 951.4 3765.6 950.5 3768.7 950.5 3771.8 951.4 3774.9 951.8 3778.1 951.5 3781.2 953.5 3784.3 952.7 3787.4 953.2 3790.6 953.1 3793.7 952.6 3796.8 951.7 3799.9 951.4 3803.1 951.7 3806.2 951.4 3809.3 951.8 3812.4 952.6 3815.6 951.8 3818.7 951.2 3821.8 952.4 3824.9 953.2 3828.1 952.8 3831.2 952.5 3834.3 951.7 3837.4 951.1 3840.6 951.1 3843.7 952.1 3846.8 952.6 3849.9 952.2 3853.1 952.2 3856.2 951.6 3859.3 951.6 3862.4 952.6 3865.6 952.7 3868.7 951.7 3871.8 951.0 3874.9 951.2 3878.1 952.2 3881.2 953.2 3884.3 952.7 3887.4 951.6 3890.6 951.1 3893.7 950.8 3896.8 951.2 3899.9 951.0 3903.1 952.3 3906.2 952.0 3909.3 951.5 3912.4 951.8 3915.6 952.3 3918.7 951.1 3921.8 950.6 3924.9 951.3 3928.1 951.2 3931.2 951.6 3934.3 952.2 3937.4 952.0 3940.6 952.1 3943.7 952.3 3946.8 953.2 3949.9 953.2 3953.1 952.1 3956.2 951.4 3958.3 951.4 3959.3 952.2 3962.4 952.4 3965.6 951.7 3968.7 951.7 3971.8 951.1 3974.9 950.4 3978.1 951.2 3981.2 952.8 3984.3 952.8 3987.4 952.0 3990.6 952.0 3993.7 951.8 3996.8 950.9 3999.9 952.1 4003.1 953.4 4006.2 952.5 4009.3 952.1 4012.4 952.2 4015.6 951.7 4018.7 952.1 4021.8 952.7 4024.9 952.6 4028.1 952.2 4031.2 952.0 4034.3 952.1 4037.4 952.6 4040.6 953.2 4043.7 952.9 4046.8 952.0 4049.9 950.5 4053.1 951.9 4056.2 952.4 4059.3 951.0 4062.4 950.0 4065.6 950.9 4068.7 951.9 4071.8 951.4 4074.9 951.4 4078.1 952.4 4081.2 952.9 4084.3 952.4 4087.4 951.7 4090.6 952.1 4093.7 953.3 4096.8 953.2 4099.9 951.8 4103.1 950.8 4106.2 951.2 4109.3 951.9 4112.4 952.0 4115.6 952.5 4118.7 952.6 4121.8 952.5 4124.9 952.7 4128.1 952.3 4131.2 951.5 4134.3 952.3 4137.4 953.1 4140.6 951.8 4143.7 951.6 4146.8 952.5 4149.9 952.0 4153.1 951.0 4156.2 951.0 4159.3 952.3 4162.4 953.3 4165.6 953.3 4166.7 952.9 4168.7 952.4 4171.8 951.7 4174.9 951.5 4178.1 951.7 4181.2 952.1 4184.3 952.9 4187.4 952.6 4190.6 952.1 4193.7 952.4 4196.8 951.8 4199.9 951.1 4203.1 951.0 4206.2 951.0 4209.3 951.6 4212.4 952.1 4215.6 952.1 4218.7 952.2 4221.8 952.0 4224.9 951.4 4228.1 951.0 4231.2 951.2 4234.3 951.3 4237.4 951.4 4240.6 951.8 4243.7 951.5 4246.8 950.4 4249.9 950.3 4253.1 951.4 4256.2 952.3 4259.3 952.7 4262.4 953.1 4265.6 953.3 4268.7 952.7 4271.8 951.7 4274.9 950.9 4278.1 950.8 4281.2 951.4 4284.3 952.0 4287.4 952.1 4290.6 951.9 4293.7 952.0 4296.8 951.4 4299.9 952.3 4303.1 952.2 4306.2 952.0 4309.3 951.2 4312.4 951.1 4315.6 952.0 4318.7 952.2 4321.8 951.7 4324.9 952.2 4328.1 952.9 4329.2 952.0 4331.2 951.4 4334.2 951.2 4337.2 950.5 4340.2 950.9 4343.2 951.5 4346.1 950.9 4346.9 950.2" fill="none" stroke="#000000" stroke-width="5.8" stroke-linejoin="round" stroke-linecap="round"/>
<path transform="scale(0.50 1)" d="M304.0 1086.7L307.0 1086.6 310.0 1086.1 313.0 1086.1 316.0 1086.0 319.0 1085.8 322.0 1085.9 325.0 1085.8 328.0 1085.5 331.0 1085.1 334.0 1085.3 337.0 1085.5 340.0 1084.9 343.0 1084.7 346.0 1085.2 349.0 1085.5 352.0 1085.3 355.0 1086.0 358.0 1086.7 361.0 1085.6 364.0 1084.5 367.0 1082.7 370.0 1086.0 373.0 1085.9 376.0 1086.2 379.0 1086.3 382.0 1085.8 385.0 1085.2 388.0 1084.8 391.0 1085.0 394.0 1085.5 397.0 1085.9 400.0 1085.7 403.0 1085.3 406.0 1085.4 409.0 1085.1 412.0 1084.1 415.0 1084.0 418.0 1084.5 421.0 1084.8 424.0 1085.0 427.0 1084.7 430.0 1084.9 433.0 1085.6 436.0 1085.2 439.0 1084.3 442.0 1084.4 445.0 1085.1 448.0 1085.9 451.0 1085.4 454.0 1084.9 457.0 1085.1 460.0 1085.1 463.0 1085.7 466.0 1086.4 469.0 1086.2 472.0 1086.3 475.0 1086.0 478.0 1085.5 481.0 1085.0 484.0 1086.6 487.0 1085.8 490.0 1085.2 493.0 1085.6 496.0 1085.6 499.0 1085.8 500.0 1086.8 502.0 1086.3 505.0 1085.3 508.0 1085.6 511.0 1086.3 514.0 1086.5 517.0 1086.4 520.0 1086.7 523.0 1086.2 526.0 1084.7 529.0 1084.1 532.0 1084.4 535.0 1085.4 538.0 1086.4 541.0 1085.8 544.0 1084.6 547.0 1085.0 550.0 1085.6 553.0 1085.1 556.0 1085.0 559.0 1084.7 562.0 1084.3 565.0 1085.2 568.0 1085.9 571.0 1085.4 574.0 1084.5 577.0 1084.1 580.0 1084.6 583.0 1085.2 586.0 1085.4 589.0 1085.9 592.0 1086.9 595.0 1086.4 598.0 1084.9 601.0 1085.1 604.0 1086.0 607.0 1086.0 610.0 1086.5 613.0 1086.5 616.0 1085.3 619.0 1084.8 622.0 1084.8 625.0 1084.3 628.0 1084.1 631.0 1084.9 634.0 1085.5 637.0 1085.1 640.0 1084.7 643.0 1084.3 646.0 1084.6 649.0 1084.9 652.0 1083.9 655.0 1084.1 658.0 1084.8 661.0 1084.6 664.0 1085.5 667.0 1085.9 670.0 1084.6 673.0 1084.6 676.0 1084.6 679.0 1085.1 682.0 1085.4 685.0 1085.8 688.0 1086.3 691.0 1086.4 694.0 1086.4 697.0 1085.6 700.0 1084.6 703.0 1085.1 706.0 1085.1 709.0 1084.8 712.0 1085.6 715.0 1085.7 718.0 1085.1 721.0 1084.7 724.0 1085.0 727.0 1085.2 730.0 1085.0 733.0 1084.3 736.0 1084.2 739.0 1084.9 742.0 1084.1 745.0 1082.9 748.0 1083.4 751.0 1084.4 754.0 1084.8 757.0 1084.7 760.0 1084.6 763.0 1085.3 766.0 1086.1 769.0 1086.8 772.0 1086.2 775.0 1085.2 778.0 1084.8 781.0 1084.8 781.6 1085.3 784.0 1085.1 787.0 1083.7 790.0 1083.1 792.9 1082.9 795.9 1082.7 798.8 1082.6 801.7 1082.2 804.6 1081.9 804.6 1082.8 807.1 1082.2 809.1 1080.5 810.9 1079.4 812.6 1078.5 814.2 1077.1 815.8 1076.0 816.0 1076.4 817.4 1075.6 818.9 1074.0 820.3 1072.7 821.7 1072.1 823.0 1070.6 824.2 1068.4 825.4 1066.9 826.5 1065.7 827.6 1064.0 827.6 1064.0 828.6 1062.6 829.5 1060.9 830.3 1059.3 831.1 1057.7 831.9 1056.1 832.6 1055.0 833.3 1054.5 834.0 1052.6 834.8 1051.6 835.5 1050.0 836.2 1048.6 836.9 1047.3 837.6 1045.8 838.4 1044.0 839.2 1042.2 840.0 1040.7 840.9 1039.1 841.2 1037.6 841.9 1036.8 842.9 1036.7 843.9 1035.4 844.9 1033.7 845.9 1033.0 847.0 1031.8 848.1 1029.6 849.4 1027.9 850.8 1026.9 852.0 1026.4 852.6 1025.4 854.5 1023.9 856.5 1022.8 858.7 1021.4 861.5 1021.6 862.0 1022.7 864.2 1023.0 866.1 1024.0 867.7 1025.3 869.1 1026.5 870.0 1027.0 870.4 1027.1 871.3 1028.6 872.0 1030.4 872.6 1032.4 873.2 1033.9 873.8 1034.9 874.4 1036.0 875.0 1037.3 875.6 1039.0 875.7 1039.6 876.3 1040.9 877.0 1042.0 877.6 1043.4 878.2 1045.2 878.8 1046.7 879.4 1048.0 880.0 1049.6 880.6 1051.3 881.2 1052.8 881.8 1054.5 882.4 1055.9 883.0 1057.0 883.7 1058.4 884.5 1059.6 885.2 1060.8 886.1 1062.1 887.1 1063.6 887.2 1064.0 888.3 1065.5 889.6 1067.1 890.9 1067.8 892.3 1068.3 893.7 1069.7 895.2 1071.3 896.8 1072.7 898.5 1074.1 900.4 1075.8 902.5 1077.0 904.7 1077.2 905.6 1077.6 907.2 1078.0 909.8 1078.3 912.5 1079.8 915.2 1080.7 918.0 1080.6 920.8 1082.0 923.7 1083.7 926.6 1082.6 928.4 1081.0 929.6 1081.4 932.5 1082.3 935.5 1082.8 938.4 1083.0 941.4 1083.2 944.4 1083.7 947.4 1083.5 950.4 1082.9 953.3 1083.2 956.3 1084.2 959.3 1085.1 960.0 1085.0 962.3 1084.5 965.3 1084.5 968.3 1085.4 971.3 1085.9 974.3 1085.1 977.3 1085.0 980.3 1085.0 983.3 1084.4 986.3 1084.6 989.3 1084.8 992.3 1084.7 995.3 1085.4 998.3 1086.1 1001.3 1085.9 1004.3 1085.2 1007.3 1085.7 1010.3 1086.2 1013.3 1085.0 1016.3 1085.0 1019.3 1085.7 1022.3 1085.6 1025.3 1085.5 1028.3 1085.6 1031.3 1086.0 1034.3 1086.0 1037.3 1085.3 1040.3 1085.0 1043.3 1086.4 1046.3 1084.7 1049.3 1084.5 1052.3 1084.5 1055.3 1085.7 1056.8 1087.0 1058.3 1087.1 1061.3 1085.9 1064.2 1084.7 1067.1 1084.4 1069.9 1083.5 1072.6 1083.2 1075.3 1083.0 1078.0 1081.7 1080.0 1081.3 1080.6 1081.2 1082.8 1079.6 1084.7 1078.3 1086.4 1077.3 1088.0 1076.3 1089.7 1075.5 1091.4 1074.1 1093.3 1072.0 1095.5 1070.7 1098.0 1070.2 1098.3 1069.8 1100.6 1071.1 1102.2 1072.9 1103.8 1074.0 1105.5 1074.7 1106.0 1075.4 1107.5 1076.6 1109.5 1077.2 1111.6 1078.6 1114.0 1080.9 1116.6 1081.2 1116.8 1079.2 1119.8 1079.0 1122.8 1079.7 1125.8 1079.5 1128.8 1079.5 1131.8 1080.0 1134.8 1079.6 1137.8 1077.9 1140.8 1077.4 1143.8 1078.9 1146.8 1080.2 1148.6 1079.7 1149.8 1079.0 1152.8 1079.9 1155.8 1080.2 1158.8 1079.5 1161.7 1079.1 1164.7 1079.5 1167.6 1079.5 1170.5 1078.8 1173.3 1078.1 1176.2 1077.3 1179.1 1076.3 1181.9 1075.7 1184.7 1075.6 1185.2 1075.5 1187.5 1075.2 1190.1 1075.1 1192.6 1074.4 1195.0 1072.9 1197.3 1071.3 1199.5 1070.5 1201.6 1069.4 1203.7 1067.9 1205.8 1067.2 1207.8 1067.0 1209.7 1065.8 1210.6 1064.4 1211.7 1063.4 1213.5 1062.6 1215.2 1061.9 1216.8 1060.8 1218.4 1058.5 1219.9 1056.7 1221.3 1056.1 1222.7 1055.2 1224.0 1054.1 1225.3 1053.3 1226.5 1052.1 1227.7 1049.9 1228.8 1047.9 1228.9 1047.7 1230.0 1046.9 1231.1 1045.9 1232.2 1044.5 1233.2 1043.2 1234.2 1041.9 1235.1 1040.6 1236.0 1038.7 1236.9 1036.7 1237.7 1035.0 1238.4 1033.3 1239.1 1032.0 1239.8 1031.2 1240.5 1030.4 1241.1 1029.0 1241.7 1027.1 1242.3 1025.2 1242.9 1023.7 1243.2 1023.2 1243.4 1022.6 1243.9 1020.9 1244.3 1019.6 1244.7 1018.0 1245.1 1016.2 1245.4 1015.0 1245.8 1013.6 1246.1 1011.9 1246.4 1010.6 1246.7 1009.4 1247.0 1008.0 1247.3 1006.3 1247.5 1004.5 1247.8 1002.9 1248.1 1001.5 1248.3 999.9 1248.6 998.2 1248.8 996.9 1249.0 995.8 1249.3 994.4 1249.5 992.8 1249.8 991.1 1250.0 989.5 1250.2 988.0 1250.4 986.9 1250.4 986.7 1250.7 985.3 1250.9 983.6 1251.1 982.0 1251.2 980.7 1251.4 979.1 1251.6 977.6 1251.7 976.0 1251.9 974.4 1252.1 973.0 1252.2 971.5 1252.4 970.1 1252.5 968.4 1252.7 966.8 1252.8 965.6 1252.9 964.2 1253.1 962.6 1253.2 961.1 1253.4 959.6 1253.5 958.0 1253.6 956.4 1253.8 954.9 1253.9 953.6 1254.0 952.1 1254.2 950.5 1254.3 949.3 1254.4 947.6 1254.6 945.9 1254.7 944.3 1254.8 943.1 1255.0 941.6 1255.1 940.0 1255.3 938.4 1255.4 937.0 1255.5 935.6 1255.7 934.0 1255.8 932.4 1256.0 931.0 1256.1 929.6 1256.3 928.1 1256.4 926.7 1256.6 925.1 1256.7 923.6 1256.9 922.1 1257.0 920.4 1257.2 919.0 1257.4 917.6 1257.6 916.0 1257.8 914.6 1257.8 914.3 1258.0 913.1 1258.2 911.6 1258.4 910.1 1258.7 908.7 1259.0 907.2 1259.3 905.8 1259.6 904.6 1259.9 902.9 1260.3 901.2 1260.6 899.9 1260.9 898.6 1261.2 897.2 1261.5 895.6 1261.8 893.9 1262.0 892.5 1262.2 891.0 1262.4 889.3 1262.6 887.7 1262.8 885.9 1262.9 884.7 1263.1 883.3 1263.2 881.6 1263.4 880.1 1263.4 880.0 1263.5 878.8 1263.6 877.3 1263.7 875.6 1263.7 874.3 1263.8 872.9 1263.8 871.3 1263.9 869.7 1264.0 868.0 1264.0 866.8 1264.1 864.9 1264.1 863.5 1264.1 862.3 1264.2 860.4 1264.2 859.0 1264.3 857.7 1264.3 856.4 1264.4 854.3 1264.4 852.9 1264.5 851.6 1264.5 850.2 1264.5 848.8 1264.6 846.9 1264.6 845.6 1264.7 844.2 1264.7 842.3 1264.8 841.0 1264.8 839.8 1264.9 838.0 1264.9 836.9 1265.0 835.3 1265.0 833.6 1265.1 832.2 1265.2 831.0 1265.2 830.1 1265.2 829.3 1265.3 827.6 1265.4 826.0 1265.5 824.8 1265.5 823.3 1265.6 821.9 1265.7 820.4 1265.8 818.6 1265.9 817.1 1266.0 815.7 1266.0 814.4 1266.1 812.7 1266.2 811.4 1266.3 809.7 1266.4 808.3 1266.5 806.7 1266.6 805.3 1266.7 803.8 1266.8 802.2 1266.9 800.6 1267.0 799.1 1267.1 797.8 1267.2 796.3 1267.3 794.6 1267.4 793.3 1267.5 791.7 1267.6 790.3 1267.8 788.7 1267.9 787.3 1268.0 785.8 1268.1 784.4 1268.2 782.8 1268.3 781.2 1268.5 779.9 1268.6 778.4 1268.7 776.9 1268.8 775.7 1268.8 775.4 1268.9 773.9 1269.1 772.2 1269.2 770.8 1269.3 769.3 1269.5 767.8 1269.6 766.2 1269.8 764.7 1269.9 763.3 1270.1 761.7 1270.2 760.3 1270.4 758.7 1270.5 757.3 1270.7 755.9 1270.8 754.3 1271.0 752.5 1271.2 751.2 1271.3 749.9 1271.5 748.6 1271.7 746.9 1271.8 745.4 1272.0 743.9 1272.2 742.3 1272.3 740.9 1272.5 739.4 1272.7 737.7 1272.8 736.3 1273.0 735.0 1273.1 733.5 1273.3 731.9 1273.4 730.4 1273.5 728.8 1273.7 727.2 1273.8 725.7 1273.9 724.3 1274.1 722.6 1274.2 721.1 1274.2 721.2 1274.3 719.8 1274.4 718.3 1274.6 716.8 1274.7 715.2 1274.8 713.8 1274.9 712.3 1275.0 710.7 1275.2 709.1 1275.3 707.9 1275.4 706.4 1275.5 704.8 1275.6 703.4 1275.7 701.8 1275.8 700.3 1275.9 698.8 1276.0 697.2 1276.1 695.8 1276.2 694.3 1276.3 692.7 1276.4 691.2 1276.5 690.0 1276.6 688.5 1276.7 686.9 1276.8 685.5 1276.9 683.8 1277.0 682.5 1277.1 681.1 1277.2 679.3 1277.2 677.8 1277.3 676.4 1277.4 675.0 1277.5 673.4 1277.6 671.7 1277.6 670.2 1277.7 668.6 1277.8 667.4 1277.8 666.9 1277.9 665.6 1277.9 664.4 1278.0 662.5 1278.1 661.1 1278.1 659.6 1278.2 658.1 1278.2 657.0 1278.3 655.3 1278.3 653.6 1278.4 652.4 1278.4 650.6 1278.5 649.5 1278.5 647.6 1278.6 646.4 1278.6 644.6 1278.7 643.4 1278.7 641.5 1278.8 640.2 1278.8 638.9 1278.9 636.9 1278.9 635.7 1279.0 634.4 1279.0 632.5 1279.1 631.2 1279.1 629.9 1279.2 628.0 1279.2 626.7 1279.2 625.4 1279.3 623.5 1279.3 622.2 1279.4 620.8 1279.4 619.1 1279.5 617.8 1279.5 616.0 1279.6 614.8 1279.6 613.0 1279.7 611.8 1279.7 610.0 1279.8 608.9 1279.8 607.2 1279.9 605.6 1280.0 603.9 1280.0 602.9 1280.0 603.0 1280.1 601.5 1280.1 600.0 1280.2 598.4 1280.2 596.8 1280.3 595.2 1280.4 593.6 1280.4 592.1 1280.5 590.5 1280.5 588.9 1280.6 588.0 1280.6 586.4 1280.7 584.9 1280.8 583.3 1280.8 581.9 1280.9 580.3 1280.9 578.7 1281.0 577.3 1281.1 575.7 1281.1 574.2 1281.2 572.7 1281.2 571.3 1281.3 569.8 1281.4 568.4 1281.4 566.9 1281.5 565.1 1281.6 563.7 1281.6 562.3 1281.7 560.6 1281.8 559.4 1281.8 557.7 1281.9 556.5 1282.0 555.0 1282.1 553.4 1282.1 551.9 1282.2 550.3 1282.3 549.1 1282.4 547.6 1282.5 546.2 1282.6 545.1 1282.6 544.6 1282.8 543.0 1282.9 541.6 1283.0 540.1 1283.2 538.6 1283.3 537.2 1283.5 535.8 1283.6 534.1 1283.8 532.6 1284.0 531.1 1284.1 529.6 1284.3 528.1 1284.5 526.6 1284.7 525.2 1284.9 523.6 1285.2 522.0 1285.4 520.6 1285.6 519.1 1285.9 517.5 1286.0 516.6 1286.1 516.0 1286.4 514.4 1286.6 513.2 1286.8 511.9 1287.1 510.4 1287.3 508.9 1287.5 507.4 1287.8 505.9 1288.0 504.4 1288.3 502.6 1288.5 501.2 1288.8 499.6 1289.0 498.1 1289.3 496.5 1289.7 495.0 1290.0 493.4 1290.4 491.9 1291.0 490.7 1291.8 490.1 1292.4 490.5 1293.0 492.0 1293.4 493.5 1293.8 494.8 1294.1 496.1 1294.4 497.4 1294.7 498.7 1295.0 500.5 1295.2 502.2 1295.5 503.7 1295.8 505.3 1296.0 507.0 1296.3 508.5 1296.6 510.1 1296.9 511.8 1297.0 512.5 1297.1 513.2 1297.4 514.5 1297.7 515.8 1297.9 517.3 1298.1 518.7 1298.3 520.0 1298.5 521.7 1298.7 523.4 1298.9 524.9 1299.1 526.1 1299.3 527.8 1299.4 529.2 1299.6 530.7 1299.8 532.2 1300.0 533.5 1300.2 535.0 1300.4 536.6 1300.6 538.3 1300.8 540.1 1301.1 541.7 1301.3 543.1 1301.6 544.4 1301.9 545.5 1302.3 546.8 1303.0 546.9 1303.4 546.9 1303.8 545.9 1304.1 544.7 1304.4 543.2 1304.6 541.6 1304.8 539.9 1305.0 538.3 1305.2 536.8 1305.3 535.5 1305.5 534.1 1305.7 532.7 1305.8 530.9 1306.0 529.3 1306.1 528.0 1306.3 526.5 1306.4 524.9 1306.6 523.5 1306.8 522.0 1306.9 520.6 1307.0 519.9 1307.1 518.8 1307.3 517.4 1307.5 515.9 1307.6 514.5 1307.8 513.0 1307.9 511.5 1308.1 509.9 1308.3 508.3 1308.4 506.9 1308.6 505.5 1308.7 504.1 1308.8 502.6 1309.0 501.2 1309.1 499.7 1309.2 498.1 1309.4 496.7 1309.5 495.0 1309.6 493.6 1309.7 492.0 1309.9 490.4 1310.0 489.1 1310.1 487.5 1310.2 486.0 1310.3 484.3 1310.4 482.9 1310.5 481.4 1310.6 479.9 1310.6 480.0 1310.7 478.4 1310.8 477.1 1310.9 475.3 1311.0 473.9 1311.0 472.4 1311.1 470.8 1311.2 469.3 1311.3 468.1 1311.3 466.5 1311.4 464.8 1311.5 463.5 1311.6 461.8 1311.6 460.4 1311.7 459.0 1311.7 457.6 1311.8 455.7 1311.9 454.3 1311.9 452.9 1312.0 451.5 1312.1 450.3 1312.1 448.6 1312.2 447.1 1312.2 445.6 1312.3 444.1 1312.4 442.7 1312.4 441.2 1312.5 439.6 1312.5 438.0 1312.6 436.6 1312.7 435.2 1312.7 433.7 1312.8 432.1 1312.8 430.5 1312.9 429.0 1313.0 427.5 1313.0 425.9 1313.1 424.5 1313.1 423.1 1313.2 421.7 1313.3 420.1 1313.3 418.7 1313.4 416.8 1313.4 416.7 1313.5 415.2 1313.5 413.7 1313.6 412.3 1313.6 410.8 1313.7 409.2 1313.7 408.2 1313.8 406.6 1313.9 404.9 1313.9 403.3 1314.0 401.8 1314.0 400.7 1314.1 399.0 1314.1 397.4 1314.2 395.8 1314.2 394.7 1314.3 393.0 1314.4 391.3 1314.4 390.1 1314.5 388.4 1314.5 386.8 1314.6 385.1 1314.6 384.0 1314.7 382.4 1314.7 380.7 1314.8 379.6 1314.8 378.0 1314.9 376.4 1315.0 374.7 1315.0 373.6 1315.1 371.9 1315.1 370.4 1315.2 368.9 1315.2 367.3 1315.3 365.8 1315.4 364.3 1315.4 362.9 1315.5 361.4 1315.5 359.9 1315.6 358.5 1315.7 357.2 1315.7 355.4 1315.8 354.1 1315.9 352.5 1316.0 350.9 1316.0 350.0 1316.0 349.5 1316.1 348.0 1316.2 346.6 1316.3 345.2 1316.3 343.7 1316.4 341.9 1316.5 340.5 1316.6 339.0 1316.7 337.6 1316.8 335.9 1316.9 334.5 1317.0 333.0 1317.0 331.6 1317.1 329.9 1317.2 328.3 1317.3 327.1 1317.4 325.6 1317.5 324.0 1317.6 322.4 1317.7 321.1 1317.8 319.4 1317.9 317.9 1318.0 316.5 1318.1 314.9 1318.2 313.5 1318.3 312.1 1318.5 310.5 1318.6 309.1 1318.7 307.4 1318.8 306.1 1318.9 304.6 1319.0 303.3 1319.1 301.7 1319.2 299.9 1319.3 298.4 1319.5 296.9 1319.6 295.5 1319.7 294.1 1319.8 292.6 1319.9 291.1 1320.0 290.1 1320.0 289.5 1320.1 288.1 1320.3 286.4 1320.4 285.0 1320.5 283.6 1320.6 282.0 1320.7 280.4 1320.8 279.0 1320.9 277.4 1321.0 275.9 1321.0 274.7 1321.1 273.2 1321.2 271.7 1321.3 270.1 1321.4 268.4 1321.5 267.2 1321.6 265.9 1321.7 264.2 1321.8 262.6 1321.9 261.0 1322.0 259.6 1322.1 258.1 1322.3 256.5 1322.4 255.2 1322.5 253.7 1322.6 252.0 1322.7 250.7 1322.9 249.4 1323.1 247.7 1323.2 246.2 1323.5 244.8 1324.0 243.3 1324.0 243.4 1324.8 245.0 1325.1 246.5 1325.4 248.0 1325.6 249.5 1325.9 251.0 1326.1 252.5 1326.2 254.0 1326.4 255.5 1326.6 257.0 1326.8 258.4 1326.9 259.9 1327.1 261.2 1327.2 262.7 1327.4 264.2 1327.6 265.6 1327.7 267.2 1327.9 268.8 1328.0 270.0 1328.0 270.3 1328.2 271.9 1328.3 273.3 1328.4 274.7 1328.6 276.4 1328.7 277.9 1328.8 279.2 1328.9 280.8 1329.0 282.4 1329.1 283.8 1329.2 285.6 1329.3 287.0 1329.4 288.2 1329.5 289.7 1329.6 291.4 1329.7 292.8 1329.8 294.5 1329.9 295.9 1330.0 297.3 1330.1 299.0 1330.1 300.4 1330.2 301.8 1330.3 303.1 1330.4 304.6 1330.5 306.2 1330.5 307.7 1330.6 309.2 1330.7 310.7 1330.8 312.2 1330.9 313.8 1330.9 315.4 1331.0 317.0 1331.1 318.6 1331.2 319.7 1331.2 321.3 1331.3 322.9 1331.4 324.5 1331.5 325.7 1331.5 327.2 1331.6 328.9 1331.7 330.2 1331.8 331.8 1331.8 333.4 1331.9 334.7 1332.0 336.3 1332.0 336.7 1332.1 337.8 1332.1 339.1 1332.2 340.9 1332.3 342.3 1332.3 344.1 1332.4 345.5 1332.5 346.9 1332.5 348.2 1332.6 349.6 1332.7 351.6 1332.7 353.1 1332.8 354.7 1332.8 356.1 1332.9 357.6 1333.0 359.1 1333.0 360.2 1333.1 361.8 1333.1 363.3 1333.2 364.9 1333.2 366.5 1333.3 368.0 1333.4 369.6 1333.4 370.7 1333.5 372.4 1333.5 374.0 1333.6 375.6 1333.6 376.6 1333.7 378.4 1333.7 380.0 1333.8 381.6 1333.8 382.7 1333.9 384.4 1334.0 386.0 1334.0 387.6 1334.1 388.7 1334.1 390.4 1334.2 392.0 1334.2 393.6 1334.3 394.7 1334.3 396.3 1334.4 397.9 1334.5 399.6 1334.5 400.6 1334.6 402.2 1334.6 403.3 1334.6 403.9 1334.7 405.4 1334.7 407.0 1334.8 408.5 1334.8 409.6 1334.9 411.3 1335.0 412.9 1335.0 414.6 1335.1 416.2 1335.1 417.2 1335.2 418.9 1335.2 420.5 1335.3 422.1 1335.3 423.3 1335.4 424.9 1335.5 426.4 1335.5 428.0 1335.6 429.2 1335.6 430.8 1335.7 432.4 1335.7 434.1 1335.8 435.3 1335.8 436.9 1335.9 438.6 1335.9 439.8 1336.0 441.4 1336.1 443.0 1336.1 444.7 1336.2 445.8 1336.2 447.5 1336.3 449.2 1336.3 450.2 1336.4 451.8 1336.4 453.5 1336.5 454.6 1336.5 456.2 1336.6 458.0 1336.7 459.7 1336.7 460.8 1336.8 462.4 1336.8 464.1 1336.9 465.2 1336.9 466.8 1337.0 468.5 1337.0 470.1 1337.1 471.2 1337.1 472.9 1337.2 474.5 1337.3 476.1 1337.3 477.2 1337.4 478.9 1337.4 480.0 1337.4 480.4 1337.5 481.6 1337.5 483.2 1337.6 484.8 1337.6 486.4 1337.7 488.0 1337.8 489.4 1337.8 491.1 1337.9 492.0 1337.9 493.5 1338.0 495.1 1338.0 496.7 1338.1 498.2 1338.2 499.7 1338.2 501.3 1338.3 502.8 1338.3 504.3 1338.4 505.8 1338.5 507.3 1338.5 508.9 1338.6 510.4 1338.6 512.1 1338.7 513.7 1338.7 514.7 1338.8 516.3 1338.9 517.8 1338.9 519.4 1339.0 521.0 1339.0 522.1 1339.1 523.8 1339.1 525.5 1339.2 527.1 1339.2 528.3 1339.3 530.0 1339.3 531.1 1339.4 532.9 1339.4 534.1 1339.5 535.9 1339.5 537.1 1339.6 539.0 1339.6 540.3 1339.7 542.2 1339.7 543.5 1339.8 544.8 1339.8 545.5 1339.8 546.2 1339.9 548.2 1339.9 549.7 1340.0 551.1 1340.0 552.5 1340.0 554.0 1340.1 555.6 1340.1 557.2 1340.2 558.8 1340.2 560.4 1340.2 561.2 1340.3 562.8 1340.3 564.4 1340.3 566.1 1340.4 567.8 1340.4 568.7 1340.4 570.4 1340.5 572.1 1340.5 573.9 1340.5 574.8 1340.6 576.5 1340.6 578.4 1340.6 579.2 1340.7 581.0 1340.7 582.8 1340.7 583.7 1340.8 585.4 1340.8 587.2 1340.8 588.1 1340.9 589.9 1340.9 591.7 1341.0 593.5 1341.0 594.3 1341.0 596.1 1341.1 597.9 1341.1 598.8 1341.1 600.5 1341.2 602.2 1341.2 604.0 1341.2 604.8 1341.3 606.5 1341.3 608.2 1341.3 609.8 1341.4 610.6 1341.4 612.2 1341.4 613.8 1341.5 615.4 1341.5 616.9 1341.6 618.5 1341.6 620.0 1341.6 620.0 1341.6 621.5 1341.7 623.0 1341.7 624.5 1341.8 625.8 1341.8 627.3 1341.8 628.7 1341.9 630.2 1341.9 632.2 1342.0 633.6 1342.0 635.0 1342.1 636.4 1342.1 637.7 1342.1 639.0 1342.2 641.1 1342.2 642.5 1342.3 643.8 1342.3 645.1 1342.4 647.1 1342.4 648.5 1342.5 649.7 1342.5 651.7 1342.6 653.0 1342.6 654.3 1342.7 656.2 1342.7 657.5 1342.7 658.8 1342.8 660.1 1342.8 662.0 1342.9 663.3 1342.9 665.2 1343.0 666.5 1343.0 667.8 1343.1 669.7 1343.1 671.0 1343.2 672.3 1343.2 674.1 1343.3 675.5 1343.3 676.8 1343.4 678.7 1343.4 680.0 1343.4 681.3 1343.5 683.3 1343.5 684.6 1343.6 685.9 1343.6 687.2 1343.7 689.1 1343.7 690.5 1343.8 691.7 1343.8 693.2 1343.9 695.2 1343.9 696.6 1343.9 697.9 1344.0 699.3 1344.0 700.0 1344.0 700.6 1344.1 702.1 1344.1 704.2 1344.2 705.7 1344.2 707.1 1344.2 708.5 1344.3 710.0 1344.3 711.5 1344.4 713.0 1344.4 714.5 1344.4 716.0 1344.5 717.6 1344.5 719.1 1344.6 720.7 1344.6 722.3 1344.6 723.8 1344.7 724.6 1344.7 726.2 1344.7 727.8 1344.8 729.4 1344.8 731.0 1344.9 732.6 1344.9 734.2 1344.9 735.8 1345.0 736.6 1345.0 738.3 1345.0 740.0 1345.1 741.6 1345.1 743.2 1345.2 744.9 1345.2 745.7 1345.2 747.3 1345.3 749.0 1345.3 750.8 1345.3 752.5 1345.4 753.3 1345.4 754.9 1345.4 756.6 1345.5 758.2 1345.5 759.1 1345.5 760.8 1345.6 762.5 1345.6 764.1 1345.7 765.8 1345.7 766.7 1345.7 768.4 1345.8 770.0 1345.8 771.7 1345.8 773.4 1345.9 774.2 1345.9 775.9 1345.9 777.6 1346.0 779.2 1346.0 780.9 1346.0 781.7 1346.1 783.4 1346.1 785.1 1346.2 786.7 1346.2 788.4 1346.2 789.2 1346.3 790.8 1346.3 792.4 1346.3 794.0 1346.4 795.7 1346.4 797.4 1346.5 798.9 1346.5 799.6 1346.5 801.3 1346.6 802.9 1346.6 804.4 1346.6 805.9 1346.7 807.5 1346.7 809.1 1346.8 810.7 1346.8 812.2 1346.8 813.7 1346.9 815.1 1346.9 816.7 1347.0 818.1 1347.0 819.6 1347.0 821.0 1347.1 822.5 1347.1 823.9 1347.2 825.3 1347.2 826.6 1347.3 828.7 1347.3 830.1 1347.3 831.4 1347.4 832.8 1347.4 834.7 1347.5 836.0 1347.5 837.2 1347.6 839.1 1347.6 840.3 1347.7 842.2 1347.7 843.3 1347.8 845.0 1347.8 846.1 1347.9 847.8 1347.9 849.5 1348.0 851.0 1348.1 852.5 1348.1 854.0 1348.2 855.3 1348.2 856.7 1348.3 858.5 1348.4 859.7 1348.4 860.1 1348.5 861.3 1348.5 862.8 1348.6 864.2 1348.7 865.6 1348.8 867.1 1348.9 869.0 1349.0 870.4 1349.0 871.7 1349.1 873.3 1349.2 874.7 1349.3 876.4 1349.4 877.8 1349.5 879.3 1349.6 880.9 1349.7 882.4 1349.8 883.8 1349.9 885.2 1350.0 886.7 1350.1 888.3 1350.2 889.6 1350.3 891.2 1350.4 892.4 1350.5 894.1 1350.7 895.9 1350.8 897.3 1350.9 898.7 1351.0 900.2 1351.1 901.6 1351.3 903.1 1351.4 904.8 1351.5 906.1 1351.7 907.6 1351.8 909.0 1351.9 910.6 1352.1 912.1 1352.2 913.6 1352.3 915.1 1352.5 916.5 1352.6 918.0 1352.8 919.8 1352.9 921.3 1353.1 922.7 1353.2 924.1 1353.4 925.8 1353.5 927.2 1353.6 928.6 1353.8 930.1 1353.9 931.9 1354.1 933.3 1354.2 934.7 1354.4 936.2 1354.5 937.7 1354.6 939.1 1354.8 940.7 1354.9 942.3 1355.0 943.5 1355.2 945.2 1355.3 946.6 1355.4 948.2 1355.5 949.6 1355.6 950.6 1355.6 951.1 1355.8 952.8 1355.9 954.2 1356.0 955.7 1356.1 957.1 1356.2 958.7 1356.3 960.0 1356.4 961.4 1356.5 963.0 1356.6 964.6 1356.7 966.2 1356.8 967.7 1356.9 969.2 1357.0 970.7 1357.1 972.2 1357.2 973.7 1357.3 975.0 1357.4 976.9 1357.5 978.3 1357.6 979.7 1357.7 981.0 1357.8 982.7 1357.9 984.1 1358.0 985.6 1358.1 987.3 1358.3 988.8 1358.4 990.3 1358.6 991.5 1358.7 992.7 1358.9 994.3 1359.2 995.7 1359.2 995.9 1359.6 997.4 1359.9 998.9 1360.3 1000.6 1360.8 1002.1 1361.2 1003.3 1361.7 1004.6 1362.1 1006.0 1362.7 1007.9 1363.2 1009.8 1363.8 1010.9 1364.5 1012.2 1365.2 1013.7 1366.0 1015.4 1366.8 1016.8 1367.7 1017.7 1368.7 1018.7 1369.7 1020.6 1370.8 1022.6 1371.8 1023.9 1372.8 1025.2 1373.7 1026.1 1373.8 1026.0 1374.6 1027.8 1375.4 1029.5 1376.3 1030.6 1377.2 1032.1 1378.1 1033.6 1379.0 1035.0 1380.0 1036.5 1381.0 1037.5 1382.2 1038.3 1383.7 1039.8 1384.6 1040.6 1385.7 1041.2 1387.9 1042.6 1390.1 1043.7 1392.5 1045.1 1395.0 1046.3 1397.6 1046.1 1400.3 1045.8 1403.1 1046.8 1405.9 1048.2 1408.8 1048.2 1410.0 1047.6 1411.7 1048.5 1414.7 1049.3 1417.7 1049.6 1420.6 1049.5 1423.6 1049.0 1426.6 1049.1 1429.6 1049.5 1432.6 1049.2 1435.4 1048.9 1435.5 1049.1 1438.4 1050.2 1441.2 1052.1 1443.8 1053.7 1444.0 1053.6 1446.0 1053.6 1447.7 1054.4 1449.1 1055.8 1450.5 1057.1 1451.7 1058.2 1453.0 1059.2 1454.2 1060.6 1455.5 1062.8 1456.8 1064.5 1458.3 1066.3 1458.6 1066.8 1460.0 1067.7 1461.7 1067.5 1463.5 1068.1 1465.3 1069.3 1467.1 1070.6 1469.0 1071.9 1470.9 1073.4 1471.6 1074.5 1472.8 1075.3 1474.5 1076.1 1476.3 1077.0 1478.4 1078.1 1480.0 1078.9 1480.9 1079.2 1483.8 1079.6 1486.7 1079.5 1489.6 1079.5 1492.6 1080.8 1495.5 1081.8 1498.5 1080.9 1500.6 1080.6 1501.4 1081.4 1504.2 1080.9 1507.0 1080.3 1509.7 1082.0 1512.5 1083.8 1515.4 1084.6 1517.2 1085.0 1518.4 1084.8 1521.4 1083.7 1524.4 1082.5 1527.3 1082.9 1530.3 1084.2 1533.3 1084.5 1536.3 1083.7 1539.3 1083.8 1542.3 1084.0 1545.3 1082.8 1548.3 1082.6 1551.3 1083.9 1554.3 1084.6 1557.3 1083.7 1560.0 1083.0 1560.3 1083.5 1563.3 1084.1 1566.3 1084.7 1569.3 1085.0 1572.3 1085.2 1575.3 1085.2 1578.3 1085.0 1581.3 1085.7 1584.3 1086.2 1587.3 1086.1 1590.3 1085.8 1593.3 1085.4 1596.3 1085.6 1599.3 1085.3 1602.3 1084.6 1605.3 1084.6 1608.3 1085.8 1611.3 1084.8 1614.3 1085.5 1617.3 1086.0 1620.3 1085.6 1623.3 1084.9 1626.3 1084.5 1629.3 1085.4 1632.3 1086.6 1635.3 1086.6 1638.3 1086.0 1641.3 1085.1 1644.3 1085.1 1647.3 1084.8 1650.3 1084.3 1653.3 1084.8 1656.3 1085.6 1659.3 1086.1 1662.3 1086.2 1665.3 1085.6 1668.3 1085.3 1671.3 1085.3 1674.3 1085.3 1677.3 1085.3 1680.3 1085.6 1683.3 1085.7 1686.3 1085.8 1689.3 1086.1 1692.3 1087.0 1695.3 1086.5 1698.3 1085.4 1701.3 1086.5 1704.3 1086.9 1707.3 1086.9 1710.3 1085.2 1713.3 1084.4 1716.3 1084.7 1719.3 1085.4 1722.3 1087.3 1725.3 1088.9 1728.3 1088.4 1731.3 1088.1 1734.3 1087.7 1737.3 1086.7 1740.3 1087.1 1743.3 1087.7 1746.3 1087.1 1749.3 1086.8 1752.3 1086.3 1755.3 1085.3 1758.3 1085.5 1761.3 1086.6 1764.3 1086.7 1767.3 1086.0 1770.3 1085.9 1773.3 1086.3 1776.3 1086.6 1779.3 1087.0 1782.3 1086.9 1785.3 1086.2 1788.3 1085.3 1791.3 1085.5 1794.3 1085.9 1797.3 1085.7 1800.3 1086.0 1803.3 1086.0 1806.3 1086.0 1809.3 1086.5 1812.3 1086.1 1815.3 1085.6 1816.0 1085.8M1886.4 1085.6L1889.4 1084.7 1892.4 1086.0 1895.4 1086.1 1898.4 1086.0 1901.4 1086.0 1904.4 1086.6 1907.4 1087.4 1910.4 1087.1 1913.4 1086.1 1916.4 1086.0 1919.4 1085.9 1922.4 1085.7 1925.4 1085.6 1928.4 1085.1 1931.4 1084.1 1934.4 1084.0 1937.4 1085.7 1940.4 1086.5 1943.4 1085.9 1946.4 1085.9 1949.4 1086.0 1952.4 1085.8 1955.4 1085.5 1958.4 1085.5 1961.4 1085.1 1964.4 1084.5 1967.4 1085.3 1970.4 1085.1 1973.4 1084.5 1976.4 1085.6 1979.4 1086.2 1982.4 1086.2 1985.4 1086.1 1988.4 1085.5 1991.4 1085.0 1994.4 1085.2 1997.4 1086.3 2000.0 1087.9 2000.4 1087.7 2003.4 1086.1 2006.4 1085.6 2009.4 1086.2 2012.4 1086.2 2015.4 1085.3 2018.4 1085.6 2021.4 1087.1 2024.4 1086.5 2027.4 1084.4 2030.4 1082.7 2033.4 1084.5 2036.4 1085.5 2039.4 1085.7 2042.4 1084.7 2045.4 1084.1 2048.4 1084.9 2051.2 1085.4 2051.4 1085.0 2054.3 1084.6 2057.2 1084.4 2060.0 1083.5 2062.7 1082.4 2065.4 1081.8 2068.0 1081.3 2070.8 1081.4 2073.6 1080.8 2076.5 1079.8 2079.4 1080.2 2080.0 1080.1 2082.4 1078.9 2085.4 1079.8 2088.4 1080.6 2091.4 1079.7 2094.4 1079.3 2097.4 1079.6 2100.4 1079.5 2103.3 1078.9 2104.0 1079.0 2106.3 1080.4 2109.2 1081.6 2112.1 1082.4 2114.9 1083.2 2117.7 1084.0 2120.5 1084.5 2123.4 1084.3 2126.3 1083.9 2128.0 1085.1 2129.3 1087.2 2132.2 1087.5 2135.2 1086.4 2138.2 1086.2 2141.2 1086.1 2144.1 1086.2 2147.1 1086.7 2150.1 1086.1 2153.1 1086.4 2156.1 1086.6 2159.1 1085.4 2160.0 1084.9 2162.1 1084.7 2165.1 1084.9 2168.1 1085.6 2171.1 1085.8 2174.1 1085.7 2177.1 1085.5 2180.1 1085.2 2183.1 1085.0 2186.1 1084.8 2189.1 1085.1 2192.1 1085.5 2195.1 1085.5 2198.1 1085.9 2201.1 1085.8 2204.1 1086.0 2207.1 1086.7 2210.1 1085.8 2213.1 1084.9 2216.1 1084.7 2219.1 1084.3 2222.1 1085.0 2225.1 1085.3 2228.1 1084.9 2231.1 1084.8 2234.1 1086.4 2237.1 1087.0 2240.1 1087.0 2243.1 1087.6 2246.1 1087.3 2249.1 1085.7 2252.1 1085.7 2255.1 1086.5 2258.1 1086.4 2261.1 1085.9 2264.1 1085.4 2267.1 1084.9 2270.1 1085.0 2273.1 1084.7 2276.1 1084.5 2279.1 1085.8 2282.1 1090.1 2285.1 1087.6 2288.1 1086.5 2291.1 1086.2 2294.1 1086.8 2297.1 1087.1 2300.1 1086.5 2303.1 1085.6 2306.1 1085.9 2309.1 1087.5 2312.1 1087.9 2315.1 1085.7 2318.1 1084.6 2321.1 1085.8 2324.1 1086.2 2327.1 1086.4 2330.1 1086.9 2333.1 1086.0 2336.1 1084.4 2339.1 1084.2 2342.1 1084.9 2345.1 1085.3 2348.1 1085.3 2351.1 1085.1 2354.1 1084.8 2357.1 1084.7 2360.1 1085.1 2363.1 1085.7 2366.1 1086.7 2369.1 1087.0 2372.1 1086.0 2375.1 1086.0 2378.1 1087.1 2381.1 1087.1 2384.1 1086.7 2387.1 1087.1 2390.1 1087.5 2393.1 1087.4 2396.1 1087.0 2399.1 1086.4 2400.0 1085.4 2402.1 1085.2 2405.1 1085.7 2408.1 1086.0 2411.1 1086.1 2414.1 1088.6 2417.1 1085.9 2420.1 1085.1 2423.1 1085.0 2426.1 1086.2 2429.1 1086.3 2432.1 1085.7 2435.1 1086.1 2438.1 1086.4 2441.1 1085.5 2444.1 1084.3 2447.1 1084.3 2450.1 1085.7 2453.1 1086.6 2456.1 1085.8 2459.1 1085.1 2462.1 1084.9 2465.1 1085.4 2468.1 1085.3 2471.1 1083.7 2474.1 1083.6 2477.1 1085.5 2480.1 1086.0 2483.1 1085.9 2486.1 1086.7 2489.1 1086.2 2492.1 1083.9 2495.1 1085.5 2498.1 1086.4 2501.1 1085.8 2504.1 1085.8 2507.1 1086.4 2510.1 1085.7 2513.1 1084.8 2516.1 1084.7 2519.1 1085.0 2522.1 1085.3 2525.1 1085.3 2528.1 1085.5 2531.1 1085.2 2534.1 1084.9 2537.1 1084.9 2540.1 1085.6 2543.1 1086.9 2546.1 1087.5 2549.1 1087.2 2552.1 1086.4 2555.1 1086.1 2558.1 1086.4 2561.1 1086.3 2564.1 1086.3 2567.1 1086.7 2570.1 1086.9 2573.1 1087.0 2576.1 1086.9 2579.1 1086.3 2582.1 1085.6 2585.1 1085.0 2588.1 1084.9 2591.1 1085.3 2594.1 1086.0 2597.1 1086.0 2600.0 1086.5 2600.1 1087.7 2603.1 1087.4 2606.1 1087.1 2609.1 1086.2 2612.1 1084.5 2615.1 1085.4 2618.1 1086.0 2621.1 1085.1 2624.1 1085.3 2627.1 1085.4 2630.1 1085.4 2633.1 1085.3 2636.1 1084.8 2639.1 1085.2 2642.1 1085.3 2645.1 1085.4 2648.1 1087.3 2651.1 1088.6 2654.1 1087.4 2657.1 1086.3 2660.1 1085.7 2663.1 1085.4 2666.1 1088.1 2669.1 1087.0 2672.1 1086.7 2675.1 1086.4 2678.1 1086.7 2681.1 1086.8 2684.1 1085.7 2687.1 1085.7 2690.1 1086.4 2693.1 1085.7 2696.1 1084.6 2699.1 1084.4 2702.1 1085.1 2705.1 1085.2 2708.1 1084.5 2711.1 1084.7 2714.1 1086.0 2717.1 1086.3 2720.1 1085.3 2723.1 1084.7 2726.1 1085.7 2729.1 1087.1 2732.1 1086.7 2735.1 1086.0 2738.1 1086.9 2741.1 1087.8 2744.1 1086.6 2747.1 1084.9 2750.1 1084.8 2753.1 1085.0 2756.1 1084.7 2759.1 1084.4 2760.0 1084.4 2762.1 1084.7 2765.1 1085.3 2768.1 1085.1 2771.1 1083.9 2774.1 1083.6 2777.1 1084.7 2780.1 1085.9 2783.1 1086.0 2786.1 1084.4 2789.1 1083.0 2792.1 1083.7 2795.1 1084.6 2798.1 1084.5 2801.1 1084.3 2804.1 1084.5 2807.1 1085.7 2810.1 1087.2 2813.1 1086.7 2816.1 1085.5 2819.1 1085.2 2822.1 1085.4 2825.1 1085.3 2828.1 1085.2 2831.1 1085.6 2834.1 1086.3 2837.1 1086.4 2840.0 1086.3 2840.1 1086.4 2843.1 1085.5 2846.1 1084.0 2849.0 1083.2 2852.0 1083.6 2854.9 1084.1 2857.8 1084.5 2860.7 1083.9 2863.6 1082.8 2866.5 1082.3 2869.4 1082.9 2872.3 1082.8 2875.3 1081.9 2878.2 1082.0 2878.4 1082.6 2881.2 1081.9 2884.2 1080.5 2887.2 1080.0 2890.2 1081.3 2893.2 1081.6 2896.1 1080.8 2899.1 1079.8 2902.1 1079.3 2904.0 1079.6 2905.1 1080.3 2908.0 1080.1 2911.0 1079.6 2913.9 1079.7 2916.8 1079.7 2919.7 1078.9 2922.6 1077.8 2925.4 1077.8 2928.2 1077.9 2931.0 1076.4 2933.8 1074.9 2936.5 1074.7 2937.2 1074.9 2939.2 1073.5 2941.7 1072.6 2944.2 1072.4 2946.5 1073.0 2948.6 1070.7 2950.7 1068.9 2952.6 1067.3 2952.6 1068.2 2954.3 1067.7 2955.8 1066.0 2957.1 1064.6 2958.3 1063.3 2959.4 1061.9 2960.5 1060.8 2961.5 1059.5 2962.5 1057.7 2963.5 1055.5 2964.4 1053.5 2965.4 1052.2 2966.3 1051.5 2967.2 1050.7 2968.0 1049.9 2968.2 1049.8 2969.0 1047.9 2969.8 1046.3 2970.6 1045.0 2971.3 1043.8 2972.0 1042.1 2972.7 1040.5 2973.4 1039.0 2974.1 1037.6 2974.8 1036.2 2975.5 1034.4 2976.3 1032.8 2977.1 1031.8 2978.0 1031.2 2978.0 1030.2 2978.9 1028.9 2980.1 1027.6 2981.3 1026.3 2982.6 1025.1 2983.9 1024.1 2985.1 1023.0 2986.3 1021.6 2987.3 1019.8 2988.2 1018.0 2988.4 1017.5 2989.1 1016.7 2989.8 1015.7 2990.5 1014.0 2991.2 1012.4 2991.8 1010.8 2992.4 1008.8 2992.9 1007.2 2993.5 1005.8 2994.0 1004.2 2994.5 1002.7 2995.0 1001.6 2995.4 1000.6 2995.9 999.1 2996.0 998.5 2996.3 997.1 2996.7 995.6 2997.1 994.4 2997.5 992.9 2997.8 991.2 2998.1 989.8 2998.5 988.3 2998.8 986.7 2999.1 985.1 2999.4 983.6 2999.7 982.2 3000.0 980.9 3000.3 979.5 3000.5 978.0 3000.8 976.3 3001.1 975.0 3001.4 973.5 3001.7 971.9 3002.0 970.5 3002.2 969.1 3002.5 967.5 3002.8 965.8 3003.1 964.3 3003.4 962.6 3003.7 961.1 3004.0 959.7 3004.0 959.8 3004.3 958.6 3004.6 957.0 3004.9 954.9 3005.2 953.4 3005.5 952.4 3005.8 951.1 3006.1 949.6 3006.3 948.2 3006.6 946.7 3006.9 945.4 3007.2 943.9 3007.5 942.2 3007.8 940.5 3008.1 938.9 3008.4 937.3 3008.8 936.0 3009.1 935.0 3009.5 933.8 3009.6 932.8 3009.8 931.4 3010.2 930.0 3010.6 928.6 3011.0 927.3 3011.4 926.0 3011.8 924.2 3012.2 922.4 3012.6 921.2 3013.0 919.7 3013.5 918.3 3013.9 917.0 3014.3 915.2 3014.8 913.3 3015.2 911.9 3015.7 910.8 3016.1 909.8 3016.6 908.3 3017.1 906.3 3017.6 905.0 3018.1 903.7 3018.6 902.3 3019.1 900.8 3019.6 899.3 3020.2 897.6 3020.7 896.1 3021.3 894.6 3021.8 893.0 3022.4 891.4 3023.0 889.9 3023.4 889.1 3023.6 888.7 3024.2 887.3 3024.8 885.7 3025.4 884.2 3026.0 883.0 3026.6 881.8 3027.1 880.0 3027.7 878.2 3028.3 876.9 3028.9 875.6 3029.4 874.0 3030.0 872.4 3030.6 871.0 3031.3 869.6 3031.9 868.3 3032.6 866.6 3033.2 864.6 3034.0 862.8 3034.7 861.4 3035.6 860.9 3036.6 860.2 3037.7 858.9 3039.3 857.5 3040.8 857.2 3041.4 857.1 3042.0 858.2 3042.4 859.5 3042.7 861.1 3043.0 862.8 3043.3 864.6 3043.6 866.2 3043.8 867.4 3044.1 868.9 3044.3 870.4 3044.6 871.7 3044.8 873.0 3045.0 874.6 3045.2 876.0 3045.5 877.7 3045.7 879.3 3046.0 880.8 3046.2 882.3 3046.5 883.8 3046.7 885.3 3047.0 886.8 3047.4 888.1 3047.6 889.2 3047.7 889.8 3048.1 891.0 3048.5 892.4 3048.9 894.2 3049.4 895.7 3049.8 897.4 3050.2 898.9 3050.7 900.2 3051.2 901.7 3051.6 903.4 3052.1 904.7 3052.6 905.9 3053.1 907.5 3053.6 909.2 3054.2 910.7 3054.7 912.0 3055.2 913.4 3055.8 914.8 3056.3 915.9 3056.9 917.6 3057.4 919.4 3058.0 920.9 3058.5 922.1 3059.1 923.5 3059.6 925.0 3060.1 926.9 3060.7 928.7 3061.2 929.7 3061.7 930.9 3062.2 932.9 3062.7 934.3 3063.2 935.3 3063.7 937.0 3064.2 938.6 3064.6 939.9 3065.0 941.2 3065.1 941.4 3065.5 942.7 3066.0 944.3 3066.4 945.7 3066.8 947.4 3067.2 949.2 3067.6 950.5 3068.0 951.8 3068.5 953.5 3068.9 955.1 3069.3 956.7 3069.6 958.0 3070.0 959.4 3070.2 960.1 3070.4 960.9 3070.8 962.3 3071.2 964.0 3071.5 965.6 3071.8 966.8 3072.2 968.1 3072.5 969.7 3072.8 971.5 3073.2 973.0 3073.5 974.4 3073.8 975.6 3074.1 977.2 3074.5 978.7 3074.8 980.2 3075.1 981.5 3075.5 982.9 3075.9 984.6 3076.2 986.1 3076.6 987.4 3077.1 989.1 3077.5 990.9 3078.0 992.2 3078.0 992.2 3078.6 993.5 3079.2 994.6 3079.9 996.1 3080.6 997.9 3081.4 999.9 3082.2 1001.2 3083.1 1002.4 3083.9 1003.9 3084.8 1005.2 3085.6 1006.4 3086.4 1007.9 3087.2 1009.0 3087.9 1010.6 3088.0 1011.1 3088.6 1012.2 3089.2 1013.6 3089.8 1015.0 3090.3 1016.6 3090.9 1018.2 3091.4 1019.4 3092.0 1020.6 3092.6 1022.4 3093.1 1024.0 3093.7 1025.4 3094.3 1027.1 3095.0 1028.8 3095.7 1030.0 3095.8 1030.1 3096.5 1031.3 3097.2 1033.0 3098.0 1035.1 3098.9 1036.9 3099.7 1038.1 3100.6 1039.2 3101.5 1040.5 3102.4 1041.7 3103.4 1043.1 3104.4 1044.3 3105.5 1045.7 3106.6 1047.6 3107.8 1049.1 3108.6 1049.8 3109.0 1049.7 3110.4 1051.0 3111.9 1052.3 3113.4 1053.2 3115.0 1054.4 3116.7 1056.4 3118.4 1057.7 3120.1 1058.1 3121.4 1058.7 3121.8 1059.7 3123.4 1061.7 3124.9 1062.8 3126.5 1063.9 3128.1 1065.3 3129.7 1066.6 3131.6 1067.9 3133.9 1069.2 3134.2 1069.3 3136.5 1069.5 3139.3 1069.4 3142.1 1069.9 3145.0 1070.6 3147.9 1071.1 3150.8 1071.3 3153.8 1071.3 3156.7 1071.3 3159.6 1072.9 3159.8 1072.2 3162.5 1072.2 3165.3 1073.7 3168.2 1074.5 3171.1 1074.4 3174.0 1074.3 3176.9 1074.5 3179.8 1075.3 3182.7 1076.6 3185.6 1077.0 3188.5 1076.8 3191.4 1076.3 3194.3 1076.3 3197.3 1077.4 3198.2 1078.4 3200.2 1079.3 3203.1 1079.9 3206.0 1079.7 3209.0 1079.3 3211.9 1079.2 3214.8 1080.2 3217.8 1081.2 3220.7 1081.5 3223.7 1081.4 3226.6 1081.6 3229.6 1081.8 3232.5 1081.4 3235.5 1082.0 3236.6 1082.1 3238.5 1081.1 3241.4 1081.0 3244.4 1082.0 3247.4 1082.7 3250.3 1083.1 3253.3 1083.1 3256.3 1082.7 3259.3 1083.4 3262.2 1084.0 3265.2 1083.5 3268.2 1082.9 3271.2 1083.2 3274.2 1084.6 3277.2 1085.0 3280.0 1084.0 3280.2 1084.4 3283.2 1084.7 3286.2 1084.0 3289.2 1083.5 3292.2 1083.2 3295.2 1083.5 3298.2 1084.5 3301.1 1085.0 3304.1 1085.1 3307.1 1085.2 3310.1 1084.6 3313.1 1084.4 3316.1 1085.7 3319.1 1085.8 3322.1 1085.3 3325.1 1085.9 3328.1 1085.8 3331.1 1085.8 3334.1 1085.5 3337.1 1083.5 3340.1 1081.4 3343.1 1084.9 3346.1 1084.9 3349.1 1085.0 3352.1 1086.0 3355.1 1085.6 3358.1 1084.4 3361.1 1084.7 3364.1 1086.2 3367.1 1086.1 3370.1 1084.7 3373.1 1087.4 3376.1 1084.7 3379.1 1084.1 3382.1 1083.7 3385.1 1084.2 3388.1 1085.1 3391.1 1086.5 3394.1 1086.6 3397.1 1086.4 3400.0 1086.3 3400.1 1083.5 3403.1 1085.9 3406.1 1085.0 3409.1 1081.8 3412.1 1085.8 3415.1 1085.3 3418.1 1085.5 3421.1 1086.8 3424.1 1086.9 3427.1 1085.5 3430.1 1085.1 3433.1 1085.9 3436.1 1085.8 3439.1 1085.6 3442.1 1086.1 3445.1 1086.3 3448.1 1086.9 3451.1 1088.2 3454.1 1087.9 3457.1 1087.1 3460.1 1087.7 3463.1 1088.4 3466.1 1087.3 3469.1 1085.8 3472.1 1085.8 3475.1 1085.8 3478.1 1085.6 3481.1 1085.9 3484.1 1086.1 3487.1 1085.8 3490.1 1085.8 3493.1 1085.8 3496.1 1085.4 3499.1 1085.9 3502.1 1086.3 3505.1 1085.3 3508.1 1085.0 3511.1 1085.7 3514.1 1085.1 3517.1 1085.0 3520.1 1085.9 3523.1 1085.7 3526.1 1084.8 3529.1 1084.2 3532.1 1085.0 3535.1 1086.2 3538.1 1086.4 3541.1 1086.1 3544.1 1086.2 3547.1 1086.2 3550.1 1085.5 3553.1 1086.0 3556.1 1086.8 3559.1 1086.5 3562.1 1086.6 3565.1 1087.0 3568.1 1086.8 3571.1 1086.3 3574.1 1086.3 3577.1 1086.4 3580.1 1086.1 3583.1 1085.9 3586.1 1085.6 3589.1 1081.4 3592.1 1086.0 3595.1 1086.4 3598.1 1085.8 3600.0 1085.0 3601.1 1085.3 3604.1 1085.6 3607.1 1085.9 3610.1 1086.8 3613.1 1087.0 3616.1 1086.5 3619.1 1085.7 3622.1 1085.9 3625.1 1086.1 3628.1 1085.6 3631.1 1085.9 3634.1 1086.1 3637.1 1085.8 3640.1 1085.6 3643.1 1085.5 3646.1 1085.5 3649.1 1084.9 3652.1 1085.3 3655.1 1086.3 3658.1 1085.4 3661.1 1084.8 3664.1 1085.8 3667.1 1084.7 3670.1 1083.5 3673.1 1085.2 3676.1 1086.8 3679.1 1087.2 3682.1 1087.3 3685.1 1086.7 3688.1 1086.1 3691.1 1085.6 3694.1 1086.3 3697.1 1087.3 3700.1 1087.0 3703.1 1084.8 3706.1 1084.7 3709.1 1084.7 3712.1 1085.3 3715.1 1085.9 3718.1 1085.9 3721.1 1085.7 3724.1 1086.1 3727.1 1086.6 3730.1 1086.0 3733.1 1086.6 3736.1 1087.9 3739.1 1086.8 3742.1 1085.8 3745.1 1086.5 3748.1 1087.2 3751.1 1086.3 3754.1 1085.1 3757.1 1084.8 3760.1 1085.4 3763.1 1086.6 3766.1 1086.6 3769.1 1086.0 3772.1 1086.5 3775.1 1086.2 3778.1 1086.0 3781.1 1086.7 3784.1 1085.9 3787.1 1085.3 3790.1 1086.9 3793.1 1088.0 3796.1 1087.6 3799.1 1086.6 3802.1 1086.0 3805.1 1087.0 3808.1 1087.9 3811.1 1087.8 3814.1 1087.1 3817.1 1086.4 3820.1 1086.8 3823.1 1086.5 3826.1 1084.8 3829.1 1084.2 3832.1 1085.1 3835.1 1086.0 3838.1 1086.3 3841.1 1086.0 3844.1 1085.9 3847.1 1086.0 3850.1 1086.3 3853.1 1086.7 3856.1 1086.6 3859.1 1086.3 3862.1 1086.1 3865.1 1086.1 3868.1 1086.3 3871.1 1086.5 3874.1 1087.0 3877.1 1086.7 3880.1 1086.0 3883.1 1085.5 3886.1 1085.6 3889.1 1086.1 3892.1 1085.9 3895.1 1085.3 3898.1 1085.1 3901.1 1085.8 3904.1 1086.4 3907.1 1089.1 3910.1 1087.0 3913.1 1085.6 3916.1 1084.6 3919.1 1084.7 3922.1 1084.4 3925.1 1084.9 3928.1 1086.5 3931.1 1086.6 3934.1 1083.2 3937.1 1085.4 3940.1 1085.2 3943.1 1085.0 3946.1 1085.7 3949.1 1086.6 3952.1 1086.8 3955.1 1086.3 3958.1 1086.2 3961.1 1086.3 3964.1 1086.2 3967.1 1085.6 3970.1 1086.1 3973.1 1085.7 3976.1 1085.3 3979.1 1085.9 3982.1 1086.5 3985.1 1087.0 3988.1 1087.5 3991.1 1086.3 3994.1 1084.4 3997.1 1084.3 4000.0 1084.5 4000.1 1085.4 4003.1 1085.9 4006.1 1085.0 4009.1 1084.9 4012.1 1085.7 4015.1 1086.5 4018.1 1087.1 4021.1 1087.0 4024.1 1087.1 4027.1 1087.2 4030.1 1086.3 4033.1 1085.6 4036.1 1085.5 4039.1 1086.2 4042.1 1087.3 4045.1 1087.3 4048.1 1086.2 4051.1 1085.3 4054.1 1084.8 4057.1 1084.9 4060.1 1086.1 4063.1 1086.1 4066.1 1084.1 4069.1 1084.2 4072.1 1085.6 4075.1 1085.4 4078.1 1085.2 4081.1 1085.4 4084.1 1086.3 4087.1 1086.7 4090.1 1086.5 4093.1 1083.7 4096.1 1086.3 4099.1 1086.8 4102.1 1087.5 4105.1 1086.9 4108.1 1085.4 4111.1 1084.9 4114.1 1085.2 4117.1 1085.4 4120.1 1085.4 4123.1 1087.1 4126.1 1085.8 4129.1 1085.9 4132.1 1085.7 4135.1 1085.8 4138.1 1085.4 4141.1 1085.3 4144.1 1086.1 4147.1 1086.2 4150.1 1085.8 4153.1 1086.1 4156.1 1086.3 4158.0 1086.0 4159.1 1085.4 4161.9 1084.0 4164.4 1082.8 4166.7 1082.3 4169.0 1081.5 4171.3 1081.1 4173.0 1081.3" fill="none" stroke="#ff0000" stroke-width="5.8" stroke-linejoin="round" stroke-linecap="round"/>
<path transform="scale(0.50 1)" d="M304.0 1180.4L307.0 1180.9 310.0 1181.7 313.0 1182.0 316.0 1181.1 319.0 1179.5 322.0 1178.6 325.0 1178.3 328.0 1179.1 331.0 1180.6 334.0 1180.6 337.0 1180.6 340.0 1180.9 343.0 1181.3 346.0 1180.8 349.0 1180.8 352.0 1180.6 355.0 1179.4 358.0 1179.0 361.0 1179.8 364.0 1179.7 367.0 1179.6 370.0 1180.1 373.0 1180.6 376.0 1180.6 379.0 1180.0 382.0 1180.0 385.0 1180.3 388.0 1180.4 391.0 1180.5 394.0 1180.5 397.0 1180.6 400.0 1179.5 403.0 1178.8 406.0 1179.9 409.0 1180.7 412.0 1179.9 415.0 1179.3 418.0 1179.7 421.0 1180.0 424.0 1180.1 427.0 1179.6 430.0 1179.5 433.0 1180.7 436.0 1180.7 439.0 1180.1 442.0 1180.9 445.0 1181.4 448.0 1180.8 451.0 1180.3 454.0 1180.8 457.0 1180.0 460.0 1178.9 463.0 1179.8 466.0 1179.8 469.0 1179.2 472.0 1178.9 475.0 1178.8 478.0 1179.7 481.0 1180.0 484.0 1180.3 487.0 1181.0 490.0 1180.3 493.0 1179.3 496.0 1179.1 499.0 1180.1 502.0 1180.6 505.0 1179.7 508.0 1179.5 511.0 1180.4 514.0 1180.4 517.0 1180.8 520.0 1181.1 523.0 1180.0 526.0 1179.2 529.0 1178.8 532.0 1179.4 535.0 1180.8 538.0 1180.6 541.0 1179.9 544.0 1180.5 547.0 1180.8 550.0 1181.1 553.0 1181.7 556.0 1180.6 559.0 1179.6 562.0 1179.4 565.0 1179.5 568.0 1180.8 571.0 1181.1 574.0 1180.3 577.0 1180.5 580.0 1181.3 583.0 1181.4 586.0 1179.9 589.0 1178.2 592.0 1178.1 595.0 1178.6 598.0 1178.8 600.0 1179.5 601.0 1180.1 604.0 1179.1 607.0 1179.7 610.0 1180.5 613.0 1180.4 616.0 1180.5 619.0 1180.3 622.0 1179.2 625.0 1179.8 628.0 1181.4 631.0 1180.4 634.0 1179.2 637.0 1179.3 640.0 1179.1 643.0 1178.8 646.0 1179.3 649.0 1179.9 652.0 1180.2 655.0 1179.8 658.0 1178.5 661.0 1178.7 664.0 1180.1 667.0 1180.4 670.0 1180.8 673.0 1180.1 676.0 1179.3 679.0 1179.5 682.0 1179.6 685.0 1180.2 688.0 1181.6 691.0 1181.8 694.0 1180.9 697.0 1180.5 700.0 1180.6 703.0 1179.7 706.0 1178.3 709.0 1178.8 712.0 1180.1 715.0 1180.0 718.0 1179.8 721.0 1180.5 724.0 1180.9 727.0 1180.2 730.0 1179.5 733.0 1179.5 736.0 1180.1 739.0 1181.1 742.0 1181.0 745.0 1179.6 748.0 1178.6 751.0 1179.1 754.0 1181.9 757.0 1180.2 760.0 1180.0 763.0 1180.1 766.0 1179.9 769.0 1179.2 772.0 1177.9 775.0 1178.7 778.0 1179.4 781.0 1179.6 784.0 1179.1 787.0 1179.4 790.0 1179.9 793.0 1179.5 796.0 1179.1 799.0 1178.7 802.0 1177.9 805.0 1177.6 808.0 1177.9 809.2 1178.6 810.9 1178.7 813.3 1177.4 815.4 1176.5 817.3 1175.9 819.2 1174.8 820.0 1174.5 821.1 1173.5 822.9 1171.5 824.5 1170.1 826.1 1169.9 827.7 1168.7 829.3 1167.5 830.9 1166.4 832.0 1165.9 832.6 1164.8 834.3 1163.4 835.9 1162.2 837.5 1161.1 839.2 1160.3 841.1 1159.4 843.2 1158.1 844.0 1157.3 845.7 1156.2 848.2 1155.3 850.8 1154.2 853.6 1153.4 856.4 1153.9 859.4 1154.4 859.6 1153.9 862.2 1153.9 864.5 1155.1 866.6 1156.5 868.0 1157.7 868.6 1158.2 870.4 1158.7 871.9 1160.0 873.4 1161.6 874.9 1162.6 876.4 1163.5 878.0 1164.3 878.0 1164.7 879.7 1166.8 881.3 1168.2 883.0 1168.9 884.6 1170.2 886.2 1171.9 888.0 1173.2 889.8 1174.2 891.7 1175.4 893.9 1176.2 896.4 1176.2 896.5 1175.8 899.3 1175.6 902.1 1175.7 904.9 1176.6 907.8 1177.6 910.7 1179.1 913.7 1180.0 916.6 1179.5 919.6 1179.3 920.0 1179.3 922.6 1179.4 925.6 1179.7 928.6 1179.8 931.6 1179.2 934.6 1178.8 937.6 1179.3 940.6 1179.9 943.6 1180.2 946.6 1180.5 949.6 1180.6 952.6 1180.2 955.6 1179.2 958.6 1179.1 961.6 1180.1 964.6 1181.4 967.6 1180.6 970.6 1181.2 973.6 1180.7 976.6 1179.9 979.6 1180.2 982.6 1181.2 985.6 1181.2 988.6 1180.0 991.6 1179.1 994.6 1179.5 997.6 1179.9 1000.6 1180.4 1003.6 1180.5 1006.6 1179.9 1009.6 1180.2 1012.6 1180.7 1015.6 1180.3 1018.6 1179.5 1021.6 1179.0 1024.6 1178.8 1027.6 1179.3 1030.6 1180.3 1033.6 1180.0 1036.6 1179.2 1039.6 1179.2 1042.6 1178.1 1045.6 1177.8 1048.6 1180.1 1051.6 1180.7 1054.6 1179.2 1056.8 1179.1 1057.6 1179.8 1060.6 1179.3 1063.4 1178.5 1066.1 1177.8 1068.7 1177.5 1071.3 1176.8 1073.7 1176.2 1076.2 1175.1 1078.6 1174.0 1080.0 1173.4 1081.0 1173.1 1083.1 1172.4 1085.0 1170.9 1086.9 1169.8 1088.6 1169.2 1090.5 1168.2 1092.4 1167.2 1094.7 1166.1 1097.4 1164.7 1098.0 1164.7 1100.2 1165.3 1102.5 1166.0 1104.5 1167.4 1106.3 1169.0 1108.1 1169.7 1110.0 1170.5 1112.0 1171.7 1112.1 1171.9 1114.4 1173.0 1116.7 1174.1 1119.0 1175.2 1121.3 1176.3 1123.8 1177.5 1126.5 1178.2 1129.4 1178.3 1130.0 1178.5 1132.4 1178.3 1135.3 1178.0 1138.3 1177.6 1141.2 1176.3 1144.1 1175.9 1147.0 1176.4 1149.8 1175.5 1152.6 1174.9 1155.5 1175.1 1158.3 1175.1 1161.1 1175.4 1163.9 1175.0 1166.8 1173.7 1169.6 1172.9 1171.6 1172.2 1172.6 1171.4 1175.5 1171.3 1178.4 1171.3 1181.4 1170.9 1184.4 1170.4 1187.3 1170.0 1190.3 1170.8 1193.2 1170.7 1196.1 1169.2 1198.9 1169.2 1200.0 1169.9 1201.5 1168.7 1203.6 1166.6 1205.4 1165.5 1207.1 1165.4 1208.9 1164.5 1210.0 1162.9 1211.0 1162.1 1213.3 1161.4 1215.7 1160.4 1218.1 1159.9 1220.4 1158.7 1222.6 1158.0 1224.6 1157.8 1225.6 1156.4 1226.3 1155.6 1227.6 1154.5 1228.8 1152.9 1229.8 1151.4 1230.8 1150.0 1231.7 1148.4 1232.7 1147.3 1233.6 1146.2 1234.0 1145.4 1234.6 1144.3 1235.6 1142.4 1236.7 1140.7 1237.7 1139.7 1238.6 1138.8 1239.5 1137.4 1240.2 1135.8 1240.8 1134.0 1241.4 1132.4 1241.6 1131.9 1241.8 1131.3 1242.2 1129.9 1242.4 1128.2 1242.7 1126.6 1242.9 1125.1 1243.1 1123.7 1243.3 1121.9 1243.5 1120.3 1243.7 1118.8 1243.9 1117.5 1244.2 1116.1 1244.4 1114.8 1244.6 1113.8 1244.7 1113.4 1245.0 1111.8 1245.4 1110.5 1245.8 1108.9 1246.2 1107.4 1246.6 1105.9 1247.0 1104.1 1247.4 1102.4 1247.7 1101.2 1248.0 1100.0 1248.0 1099.6 1248.3 1098.0 1248.6 1096.6 1248.9 1095.5 1249.1 1094.3 1249.3 1092.8 1249.6 1090.9 1249.8 1089.3 1250.0 1087.8 1250.2 1086.3 1250.5 1084.8 1250.7 1083.5 1250.9 1081.8 1251.1 1080.4 1251.3 1078.9 1251.5 1077.5 1251.7 1076.0 1251.9 1074.5 1252.1 1072.8 1252.3 1071.3 1252.5 1069.9 1252.7 1068.6 1252.9 1067.1 1253.1 1065.7 1253.3 1064.1 1253.5 1062.5 1253.8 1061.2 1254.0 1059.8 1254.0 1059.6 1254.2 1058.1 1254.4 1056.3 1254.7 1054.8 1254.9 1053.4 1255.1 1052.0 1255.4 1050.4 1255.6 1049.0 1255.9 1047.7 1256.1 1046.2 1256.4 1044.6 1256.6 1043.2 1256.9 1041.5 1257.1 1040.0 1257.4 1038.5 1257.7 1037.0 1257.9 1035.4 1258.2 1034.0 1258.4 1032.5 1258.7 1030.9 1258.9 1029.5 1259.2 1028.1 1259.4 1026.7 1259.7 1025.0 1259.9 1023.5 1260.2 1022.1 1260.4 1020.6 1260.7 1018.9 1260.9 1017.4 1261.1 1016.1 1261.4 1014.3 1261.6 1012.9 1261.8 1011.6 1262.0 1010.0 1262.3 1008.6 1262.5 1007.3 1262.7 1005.5 1262.9 1003.8 1263.1 1002.2 1263.3 1000.8 1263.5 999.5 1263.7 998.4 1263.9 996.8 1264.0 995.2 1264.2 993.8 1264.4 992.3 1264.6 990.7 1264.7 989.3 1264.9 987.7 1265.0 986.8 1265.1 985.9 1265.2 984.5 1265.4 983.0 1265.5 981.6 1265.7 980.2 1265.8 978.7 1266.0 977.1 1266.1 975.6 1266.2 974.2 1266.4 972.4 1266.5 971.0 1266.6 969.5 1266.7 967.9 1266.8 966.4 1266.9 965.2 1267.1 963.7 1267.2 962.1 1267.3 960.7 1267.4 959.0 1267.5 957.6 1267.6 955.8 1267.7 954.5 1267.8 953.1 1267.9 951.7 1268.0 950.3 1268.1 948.8 1268.3 947.0 1268.4 945.5 1268.5 943.9 1268.6 942.5 1268.7 941.2 1268.8 939.8 1268.9 938.2 1269.0 936.6 1269.1 935.1 1269.2 933.6 1269.3 932.0 1269.4 930.5 1269.5 929.1 1269.6 927.7 1269.7 926.2 1269.8 924.8 1269.9 923.3 1270.0 921.7 1270.1 920.2 1270.2 918.7 1270.3 917.3 1270.4 915.8 1270.5 914.3 1270.6 912.6 1270.7 911.1 1270.8 909.6 1270.9 908.1 1271.0 906.8 1271.1 905.4 1271.2 903.6 1271.3 902.1 1271.4 900.7 1271.5 899.0 1271.6 897.6 1271.7 896.2 1271.8 894.6 1272.0 893.1 1272.1 891.7 1272.2 890.0 1272.3 888.4 1272.4 886.9 1272.5 885.6 1272.7 883.9 1272.8 882.5 1272.9 881.1 1273.0 879.9 1273.0 879.6 1273.2 878.1 1273.3 876.8 1273.4 875.1 1273.6 873.6 1273.7 872.3 1273.8 870.7 1274.0 869.2 1274.1 867.6 1274.2 866.0 1274.4 864.5 1274.5 863.2 1274.7 861.8 1274.8 860.2 1274.9 858.7 1275.1 857.1 1275.2 855.6 1275.4 854.1 1275.5 852.8 1275.7 851.3 1275.8 849.6 1276.0 848.1 1276.1 846.7 1276.3 845.2 1276.4 843.7 1276.6 841.9 1276.7 840.7 1276.9 839.4 1277.0 838.0 1277.2 836.2 1277.3 834.7 1277.5 833.2 1277.6 831.7 1277.8 830.3 1277.9 828.7 1278.1 827.3 1278.2 825.8 1278.4 824.4 1278.5 822.8 1278.7 821.4 1278.8 819.9 1279.0 818.4 1279.1 816.7 1279.3 815.3 1279.4 813.6 1279.6 812.1 1279.6 811.7 1279.7 810.6 1279.9 809.1 1280.0 807.5 1280.2 805.9 1280.3 804.7 1280.4 803.4 1280.6 801.7 1280.7 800.3 1280.9 798.7 1281.0 797.3 1281.2 795.6 1281.3 794.3 1281.5 793.0 1281.6 791.4 1281.8 789.9 1281.9 788.2 1282.1 787.2 1282.2 785.1 1282.4 783.7 1282.5 782.1 1282.7 780.8 1282.8 779.3 1283.0 777.9 1283.1 776.5 1283.3 774.9 1283.4 773.5 1283.6 771.9 1283.7 770.5 1283.9 768.9 1284.0 767.5 1284.2 765.7 1284.3 764.2 1284.5 762.6 1284.6 761.5 1284.8 760.1 1284.9 758.4 1285.0 757.5 1285.1 757.0 1285.2 755.6 1285.4 753.8 1285.5 752.2 1285.6 750.9 1285.8 749.2 1285.9 747.6 1286.0 746.1 1286.2 744.8 1286.3 743.3 1286.4 741.8 1286.6 740.4 1286.7 738.9 1286.8 737.5 1287.0 735.9 1287.1 734.1 1287.3 732.6 1287.4 731.4 1287.6 729.9 1287.7 728.5 1287.9 727.1 1288.0 725.4 1288.2 723.8 1288.4 722.3 1288.6 720.9 1288.6 720.8 1288.8 719.4 1289.1 718.1 1289.3 716.5 1289.6 714.8 1289.8 713.5 1290.1 712.1 1290.4 710.4 1290.7 708.7 1291.0 707.4 1291.3 706.0 1291.6 704.6 1292.0 703.1 1292.3 701.7 1292.7 700.3 1293.0 698.5 1293.3 697.0 1293.7 696.1 1294.0 694.7 1294.0 694.2 1294.3 692.4 1294.7 691.0 1295.0 689.8 1295.3 688.2 1295.7 686.5 1296.0 685.2 1296.0 685.3 1296.3 684.0 1296.5 682.7 1296.8 681.1 1297.1 679.3 1297.4 677.7 1297.6 676.3 1297.9 675.0 1298.2 673.4 1298.4 671.9 1298.6 670.3 1298.9 668.9 1299.1 667.4 1299.3 665.7 1299.5 664.1 1299.7 662.9 1299.9 661.4 1300.1 659.7 1300.3 658.2 1300.5 656.5 1300.7 654.9 1300.9 653.5 1301.0 652.0 1301.2 650.6 1301.4 649.2 1301.4 648.9 1301.5 647.7 1301.7 646.1 1301.8 644.7 1301.9 643.0 1302.0 641.5 1302.1 640.3 1302.3 638.6 1302.4 637.1 1302.5 635.7 1302.6 634.2 1302.7 632.7 1302.8 631.2 1302.9 629.7 1303.0 628.0 1303.0 626.6 1303.1 625.1 1303.2 623.8 1303.3 622.2 1303.4 620.8 1303.5 619.1 1303.6 617.8 1303.7 616.0 1303.8 614.6 1303.9 613.0 1303.9 611.8 1304.0 610.4 1304.1 608.6 1304.2 607.3 1304.3 605.6 1304.4 604.3 1304.5 602.7 1304.6 601.1 1304.7 599.8 1304.8 598.1 1304.9 596.5 1304.9 595.1 1305.0 594.3 1305.0 593.7 1305.1 592.2 1305.2 590.7 1305.3 589.1 1305.4 587.7 1305.5 586.0 1305.6 584.7 1305.7 583.1 1305.8 581.7 1305.9 580.0 1306.0 578.5 1306.0 577.4 1306.1 575.8 1306.2 574.0 1306.3 572.5 1306.4 571.1 1306.5 569.5 1306.6 568.2 1306.6 566.9 1306.7 565.3 1306.8 563.9 1306.9 562.2 1307.0 560.9 1307.1 559.2 1307.2 557.6 1307.3 556.4 1307.4 554.7 1307.5 553.2 1307.6 551.8 1307.7 550.2 1307.8 548.8 1307.9 547.2 1308.0 545.6 1308.2 544.2 1308.3 542.8 1308.5 541.2 1308.6 539.8 1308.6 539.6 1308.8 538.1 1309.1 537.0 1309.4 535.5 1309.7 533.9 1310.0 532.4 1310.3 530.8 1310.6 529.4 1310.8 527.7 1311.0 526.1 1311.0 526.1 1311.1 524.7 1311.2 523.2 1311.3 521.7 1311.4 520.3 1311.5 518.5 1311.6 517.4 1311.7 515.7 1311.7 514.0 1311.8 512.7 1311.9 511.3 1311.9 509.5 1312.0 508.1 1312.1 506.6 1312.1 505.1 1312.2 503.5 1312.2 502.0 1312.3 500.5 1312.4 498.9 1312.4 497.4 1312.5 496.3 1312.5 494.8 1312.6 493.3 1312.6 491.7 1312.7 490.1 1312.8 488.5 1312.8 487.0 1312.9 485.5 1312.9 484.1 1313.0 482.6 1313.1 481.1 1313.1 479.7 1313.2 478.4 1313.3 476.6 1313.3 475.3 1313.4 473.7 1313.5 472.2 1313.6 470.7 1313.6 470.0 1313.6 469.4 1313.7 467.7 1313.8 466.4 1313.9 464.8 1314.0 463.2 1314.1 461.9 1314.2 460.3 1314.3 458.8 1314.4 457.4 1314.5 455.9 1314.6 454.4 1314.7 452.6 1314.8 451.2 1314.9 450.0 1315.0 448.3 1315.1 446.9 1315.3 445.2 1315.4 443.8 1315.5 442.4 1315.6 440.9 1315.7 439.3 1315.8 437.8 1315.9 436.5 1316.1 435.0 1316.2 433.4 1316.3 431.6 1316.4 430.2 1316.6 428.8 1316.7 427.3 1316.8 425.8 1316.9 424.3 1317.0 422.8 1317.2 421.0 1317.3 419.6 1317.4 418.2 1317.5 416.9 1317.7 415.5 1317.8 413.5 1317.9 412.3 1318.0 410.8 1318.1 409.3 1318.3 407.7 1318.4 406.3 1318.5 404.9 1318.6 403.3 1318.6 403.3 1318.7 402.0 1318.8 400.2 1318.9 398.7 1319.0 397.1 1319.1 395.8 1319.2 394.3 1319.3 393.0 1319.4 391.3 1319.5 389.9 1319.6 388.0 1319.6 386.6 1319.7 385.3 1319.8 384.0 1319.9 382.2 1320.0 380.8 1320.1 379.3 1320.1 377.9 1320.2 376.2 1320.3 374.7 1320.4 373.3 1320.5 371.7 1320.6 370.4 1320.7 368.7 1320.8 367.4 1320.9 365.8 1321.0 364.2 1321.1 362.6 1321.2 361.2 1321.3 360.1 1321.4 358.6 1321.5 357.0 1321.6 355.3 1321.8 353.8 1322.0 352.4 1322.2 351.0 1322.6 349.9 1323.0 350.2 1323.4 351.7 1323.7 353.3 1323.9 354.8 1324.2 356.5 1324.3 357.9 1324.5 359.3 1324.7 360.9 1324.8 362.5 1325.0 364.1 1325.1 365.5 1325.2 367.0 1325.4 368.3 1325.5 370.0 1325.6 371.5 1325.7 372.9 1325.9 374.4 1326.0 376.0 1326.1 377.6 1326.2 378.9 1326.3 380.4 1326.4 382.1 1326.5 383.5 1326.7 385.2 1326.8 386.5 1326.9 388.1 1327.0 389.4 1327.1 391.0 1327.2 392.4 1327.3 394.0 1327.4 395.5 1327.5 397.1 1327.6 398.5 1327.8 400.1 1327.9 401.4 1328.0 402.9 1328.0 403.1 1328.1 404.2 1328.2 405.8 1328.3 407.3 1328.4 408.8 1328.5 410.2 1328.6 411.8 1328.7 413.4 1328.8 415.0 1328.9 416.6 1329.0 417.9 1329.1 419.6 1329.2 421.0 1329.3 422.7 1329.3 424.0 1329.4 425.4 1329.5 426.8 1329.6 428.3 1329.7 430.2 1329.8 431.7 1329.8 433.3 1329.9 434.5 1330.0 436.0 1330.1 437.5 1330.1 439.1 1330.2 440.8 1330.3 442.0 1330.4 443.6 1330.4 445.2 1330.5 446.4 1330.6 448.1 1330.7 449.7 1330.7 451.0 1330.8 452.7 1330.9 454.0 1330.9 455.7 1331.0 457.2 1331.1 458.3 1331.1 460.0 1331.2 461.4 1331.3 463.3 1331.3 464.5 1331.4 465.9 1331.5 467.3 1331.5 469.1 1331.6 470.5 1331.7 472.0 1331.7 473.4 1331.8 475.2 1331.9 476.6 1331.9 478.1 1332.0 479.6 1332.0 480.1 1332.0 481.1 1332.1 482.4 1332.2 483.9 1332.2 485.4 1332.3 487.1 1332.3 488.6 1332.4 490.1 1332.5 491.7 1332.5 492.9 1332.6 494.6 1332.6 496.3 1332.7 497.4 1332.7 499.2 1332.8 500.9 1332.8 502.0 1332.9 503.7 1332.9 504.9 1333.0 506.8 1333.0 508.0 1333.1 509.9 1333.1 511.1 1333.2 512.3 1333.2 514.2 1333.3 515.5 1333.3 517.4 1333.4 518.7 1333.4 520.0 1333.5 521.9 1333.5 523.2 1333.5 524.5 1333.6 525.8 1333.6 527.8 1333.7 529.2 1333.7 530.6 1333.8 531.9 1333.8 533.9 1333.9 535.2 1333.9 536.6 1333.9 537.9 1334.0 539.3 1334.0 540.0 1334.0 541.3 1334.1 542.7 1334.1 544.2 1334.2 545.6 1334.2 547.0 1334.2 548.5 1334.3 550.0 1334.3 551.5 1334.4 552.9 1334.4 554.4 1334.4 556.0 1334.5 557.6 1334.5 559.1 1334.6 560.6 1334.6 562.2 1334.6 563.8 1334.7 565.4 1334.7 567.0 1334.7 567.8 1334.8 569.4 1334.8 571.1 1334.9 572.7 1334.9 574.3 1334.9 575.9 1335.0 577.6 1335.0 578.4 1335.0 580.1 1335.1 581.7 1335.1 583.4 1335.2 585.1 1335.2 585.9 1335.2 587.6 1335.3 589.3 1335.3 591.0 1335.3 592.6 1335.4 593.4 1335.4 595.1 1335.4 596.7 1335.5 598.4 1335.5 599.3 1335.5 601.0 1335.6 602.7 1335.6 604.4 1335.7 606.0 1335.7 606.8 1335.7 608.5 1335.8 610.1 1335.8 611.8 1335.8 613.4 1335.9 615.1 1335.9 616.0 1335.9 617.6 1336.0 619.2 1336.0 620.0 1336.0 620.8 1336.1 622.5 1336.1 624.1 1336.1 624.9 1336.2 626.5 1336.2 628.2 1336.2 629.8 1336.3 631.6 1336.3 632.4 1336.3 634.1 1336.4 635.8 1336.4 637.5 1336.5 639.2 1336.5 640.0 1336.5 641.6 1336.6 643.3 1336.6 645.1 1336.6 646.0 1336.7 647.7 1336.7 649.4 1336.7 650.3 1336.8 652.0 1336.8 653.8 1336.8 655.5 1336.9 656.4 1336.9 658.1 1336.9 659.8 1337.0 661.6 1337.0 662.4 1337.0 664.2 1337.1 666.0 1337.1 666.9 1337.1 668.6 1337.2 670.3 1337.2 672.1 1337.2 673.0 1337.3 674.8 1337.3 676.6 1337.3 677.4 1337.4 679.1 1337.4 680.9 1337.5 682.6 1337.5 683.5 1337.5 685.2 1337.6 687.0 1337.6 687.9 1337.6 689.6 1337.7 691.4 1337.7 693.1 1337.7 693.9 1337.8 695.6 1337.8 697.4 1337.8 699.1 1337.9 700.0 1337.9 701.7 1337.9 703.4 1338.0 705.1 1338.0 705.9 1338.0 707.6 1338.1 709.3 1338.1 711.0 1338.1 711.9 1338.2 713.6 1338.2 715.2 1338.3 716.9 1338.3 718.6 1338.3 719.4 1338.4 721.0 1338.4 722.6 1338.4 724.3 1338.5 725.9 1338.5 727.5 1338.5 728.3 1338.6 729.9 1338.6 731.5 1338.7 733.0 1338.7 734.7 1338.7 736.2 1338.8 737.7 1338.8 739.3 1338.9 740.8 1338.9 742.3 1338.9 743.8 1339.0 745.2 1339.0 746.7 1339.1 748.2 1339.1 749.7 1339.1 751.1 1339.2 752.5 1339.2 753.9 1339.3 756.0 1339.3 757.3 1339.4 758.7 1339.4 760.0 1339.4 760.0 1339.4 761.3 1339.5 763.3 1339.5 764.7 1339.6 766.0 1339.6 767.9 1339.7 769.2 1339.7 770.5 1339.8 771.9 1339.8 773.9 1339.9 775.1 1339.9 776.4 1340.0 778.4 1340.0 779.7 1340.0 780.9 1340.1 782.8 1340.1 784.1 1340.2 785.3 1340.2 787.2 1340.3 788.5 1340.3 790.3 1340.4 791.5 1340.4 792.8 1340.5 794.7 1340.5 796.0 1340.6 797.9 1340.6 798.9 1340.7 800.8 1340.7 802.0 1340.8 803.8 1340.8 805.0 1340.9 806.8 1340.9 807.9 1341.0 809.7 1341.0 810.9 1341.1 812.6 1341.1 813.8 1341.2 815.6 1341.2 817.3 1341.3 818.4 1341.3 820.1 1341.4 821.7 1341.4 822.8 1341.5 824.5 1341.6 826.2 1341.6 827.7 1341.7 828.7 1341.7 830.4 1341.8 832.0 1341.8 833.6 1341.9 835.1 1342.0 836.6 1342.0 838.0 1342.1 839.5 1342.1 841.0 1342.2 842.5 1342.3 843.9 1342.3 845.3 1342.4 847.1 1342.5 848.6 1342.5 849.9 1342.6 851.6 1342.7 852.9 1342.7 854.7 1342.8 856.0 1342.9 857.6 1342.9 858.8 1343.0 860.0 1343.0 860.4 1343.1 861.9 1343.2 863.5 1343.3 865.1 1343.3 866.5 1343.4 867.9 1343.5 869.5 1343.6 871.0 1343.7 872.5 1343.7 873.9 1343.8 875.3 1343.9 877.1 1344.0 878.5 1344.1 879.9 1344.2 881.6 1344.3 883.0 1344.4 884.5 1344.4 885.8 1344.5 887.5 1344.6 888.9 1344.7 890.5 1344.8 892.2 1344.9 893.3 1345.0 894.8 1345.1 896.2 1345.2 898.0 1345.3 899.5 1345.4 901.0 1345.5 902.4 1345.6 903.9 1345.7 905.2 1345.8 906.9 1345.9 908.3 1346.0 909.8 1346.1 911.2 1346.2 912.8 1346.3 914.3 1346.5 916.0 1346.6 917.4 1346.7 919.0 1346.8 920.6 1346.9 921.8 1347.0 923.3 1347.1 924.7 1347.3 926.3 1347.4 927.8 1347.5 929.2 1347.6 930.8 1347.7 932.2 1347.8 933.8 1348.0 935.3 1348.1 936.9 1348.2 938.5 1348.3 939.8 1348.4 941.2 1348.6 943.0 1348.7 944.4 1348.8 945.7 1348.9 947.2 1349.1 948.8 1349.2 950.3 1349.3 951.8 1349.4 953.2 1349.5 954.8 1349.7 956.4 1349.8 957.7 1349.9 959.4 1350.0 961.1 1350.2 962.6 1350.3 963.7 1350.4 965.1 1350.5 966.7 1350.6 968.4 1350.7 969.9 1350.9 971.2 1351.0 972.4 1351.1 974.1 1351.2 975.7 1351.3 977.2 1351.4 979.0 1351.5 980.4 1351.6 982.0 1351.7 983.3 1351.9 985.0 1352.0 986.3 1352.0 986.8 1352.1 987.7 1352.2 989.2 1352.3 990.7 1352.4 992.3 1352.5 993.8 1352.6 995.4 1352.7 996.9 1352.7 998.2 1352.8 999.9 1352.9 1001.3 1353.0 1002.8 1353.1 1004.3 1353.2 1006.1 1353.3 1007.4 1353.4 1008.6 1353.4 1010.0 1353.5 1011.9 1353.6 1013.3 1353.7 1014.7 1353.8 1016.1 1353.9 1017.6 1354.0 1019.4 1354.0 1020.9 1354.1 1022.4 1354.2 1023.8 1354.3 1025.3 1354.4 1026.8 1354.4 1028.2 1354.5 1029.8 1354.6 1031.2 1354.7 1033.0 1354.8 1034.5 1354.9 1036.0 1354.9 1037.4 1355.0 1038.8 1355.1 1040.2 1355.2 1041.7 1355.3 1043.5 1355.4 1044.9 1355.4 1046.2 1355.5 1047.6 1355.6 1049.5 1355.7 1050.9 1355.8 1052.3 1355.9 1054.0 1356.0 1055.2 1356.1 1056.9 1356.1 1058.3 1356.2 1059.9 1356.3 1061.5 1356.4 1062.7 1356.5 1064.2 1356.6 1065.8 1356.7 1067.4 1356.8 1069.0 1356.9 1070.5 1357.0 1071.9 1357.2 1073.4 1357.3 1074.9 1357.4 1076.4 1357.5 1077.9 1357.7 1079.5 1357.8 1080.8 1357.9 1082.4 1358.1 1083.7 1358.3 1085.4 1358.5 1086.8 1358.7 1088.0 1359.0 1089.2 1359.2 1089.5 1359.6 1090.4 1360.3 1092.2 1361.1 1094.3 1362.2 1096.0 1363.4 1097.3 1364.7 1098.8 1366.0 1100.6 1366.4 1101.0 1367.1 1101.3 1368.1 1102.2 1369.1 1103.0 1370.2 1104.4 1371.2 1106.2 1372.2 1107.6 1373.3 1108.8 1374.4 1110.4 1375.5 1112.2 1376.7 1113.4 1378.0 1114.5 1379.2 1115.9 1379.4 1117.0 1380.9 1118.6 1382.4 1119.3 1383.9 1120.4 1385.4 1122.2 1387.0 1123.1 1388.6 1123.4 1390.4 1124.1 1392.3 1126.2 1394.3 1128.2 1396.6 1129.4 1398.4 1130.4 1399.3 1129.8 1402.1 1129.8 1405.0 1130.6 1408.0 1133.0 1410.9 1130.2 1413.9 1129.7 1416.9 1129.5 1419.8 1130.5 1422.6 1129.7 1424.0 1131.1 1425.4 1131.1 1427.8 1132.9 1430.1 1134.1 1432.2 1134.9 1434.2 1135.4 1436.1 1136.6 1437.9 1138.8 1439.8 1138.5 1440.0 1140.5 1441.6 1142.2 1443.3 1143.2 1444.9 1144.0 1446.4 1145.0 1447.8 1146.6 1449.3 1148.1 1450.7 1149.2 1452.1 1151.3 1453.5 1151.7 1455.0 1153.2 1456.5 1154.6 1458.0 1156.0 1458.6 1156.6 1459.6 1157.3 1461.1 1158.4 1462.7 1159.3 1464.3 1160.0 1465.9 1161.2 1467.5 1162.9 1469.3 1164.8 1471.1 1164.5 1472.0 1166.1 1473.0 1166.2 1475.0 1167.7 1477.0 1169.4 1479.0 1170.2 1481.0 1171.0 1483.2 1172.0 1485.5 1172.3 1488.0 1173.6 1490.6 1174.5 1490.7 1174.1 1493.6 1174.5 1496.4 1176.2 1499.4 1176.7 1502.3 1175.8 1505.2 1176.2 1508.2 1177.8 1511.1 1178.4 1514.1 1177.2 1517.1 1176.5 1520.0 1177.8 1520.1 1178.9 1523.0 1178.5 1526.0 1176.9 1529.0 1178.7 1531.9 1176.9 1534.9 1176.8 1537.9 1179.0 1540.8 1179.4 1543.8 1178.7 1546.8 1179.3 1549.8 1179.8 1552.8 1179.5 1555.8 1179.1 1558.8 1178.9 1560.0 1179.1 1561.8 1179.5 1564.8 1180.3 1567.8 1181.2 1570.8 1180.4 1573.8 1179.2 1576.8 1180.2 1579.8 1183.4 1582.8 1181.1 1585.8 1180.9 1588.8 1180.7 1591.8 1180.3 1594.8 1180.1 1597.8 1180.0 1600.8 1180.0 1603.8 1180.2 1606.8 1179.0 1609.8 1178.5 1612.7 1179.9 1615.7 1180.5 1618.7 1180.6 1621.7 1180.8 1624.7 1180.3 1627.7 1180.0 1630.7 1181.5 1633.7 1181.0 1636.7 1181.7 1639.7 1181.9 1642.7 1180.8 1645.7 1180.6 1648.7 1180.9 1651.7 1180.2 1654.7 1179.5 1657.7 1180.3 1660.7 1181.2 1663.7 1181.2 1666.7 1180.9 1669.7 1180.7 1672.7 1180.6 1675.7 1180.2 1678.7 1180.1 1681.7 1180.7 1684.7 1181.5 1687.7 1181.4 1690.7 1180.5 1693.7 1181.3 1696.7 1182.7 1699.7 1182.3 1702.7 1180.9 1705.7 1180.2 1708.7 1180.5 1711.7 1181.1 1714.7 1181.4 1717.7 1181.5 1720.7 1181.2 1723.7 1180.1 1726.7 1179.5 1729.7 1179.4 1732.7 1179.7 1735.7 1180.7 1738.7 1182.2 1741.7 1183.1 1744.7 1182.4 1747.7 1181.8 1750.7 1182.3 1753.7 1181.2 1756.7 1181.5 1759.7 1182.2 1762.7 1182.2 1765.7 1181.6 1768.7 1180.6 1771.7 1180.1 1774.7 1180.4 1777.7 1180.9 1780.7 1181.4 1783.7 1181.5 1786.7 1181.0 1789.7 1180.6 1792.7 1181.0 1795.7 1180.4 1798.7 1179.3 1801.7 1179.5 1804.7 1180.7 1807.7 1182.0 1810.7 1181.7 1813.7 1180.7 1815.8 1180.9M1886.4 1181.2L1889.4 1181.2 1892.4 1181.1 1895.4 1180.7 1898.4 1180.2 1901.4 1180.3 1904.4 1180.7 1907.4 1181.1 1910.4 1180.9 1913.4 1180.4 1916.4 1181.2 1919.4 1182.2 1922.4 1182.2 1925.4 1181.0 1928.4 1179.9 1931.4 1180.5 1934.4 1181.6 1937.4 1181.3 1940.4 1180.7 1943.4 1180.7 1946.4 1180.9 1949.4 1180.5 1952.4 1179.9 1955.4 1180.6 1958.4 1182.1 1961.4 1182.4 1964.4 1181.4 1967.4 1181.2 1970.4 1181.8 1973.4 1181.1 1976.4 1180.3 1979.4 1180.9 1982.4 1182.0 1985.4 1182.2 1988.4 1181.4 1991.4 1181.1 1994.4 1181.4 1997.4 1181.8 2000.0 1181.6 2000.4 1180.9 2003.4 1180.3 2006.4 1180.3 2009.4 1179.4 2012.4 1178.7 2015.4 1180.1 2018.4 1180.9 2021.4 1180.3 2024.4 1180.2 2027.4 1180.3 2030.4 1180.0 2033.3 1179.3 2036.3 1179.6 2039.3 1179.9 2042.3 1179.2 2045.3 1178.4 2048.2 1178.2 2051.2 1178.3 2054.2 1179.0 2057.2 1179.8 2060.1 1179.2 2063.1 1178.0 2066.1 1177.3 2069.0 1177.3 2072.0 1177.3 2074.9 1176.7 2076.8 1175.7 2077.9 1174.9 2080.7 1174.9 2083.5 1175.0 2086.3 1176.1 2089.2 1175.2 2090.0 1174.1 2092.2 1174.0 2095.2 1174.9 2098.2 1175.1 2101.1 1175.5 2102.6 1176.1 2104.0 1176.0 2107.0 1176.3 2109.8 1177.7 2112.7 1178.2 2115.6 1177.6 2118.4 1178.1 2121.3 1179.2 2124.1 1179.1 2127.0 1178.9 2129.9 1179.8 2132.8 1180.5 2135.7 1180.4 2138.7 1180.9 2140.0 1181.1 2141.7 1181.0 2144.7 1178.0 2147.6 1182.2 2150.6 1182.6 2153.6 1182.0 2156.6 1181.3 2159.6 1182.0 2162.6 1182.8 2165.6 1182.5 2168.6 1182.0 2171.6 1182.5 2174.6 1182.0 2177.6 1182.0 2180.6 1182.4 2183.6 1181.9 2186.6 1181.5 2189.6 1182.1 2192.6 1182.2 2195.6 1182.4 2198.6 1182.5 2200.0 1182.8 2201.6 1183.0 2204.6 1182.9 2207.6 1183.2 2210.6 1183.0 2213.6 1182.4 2216.6 1182.9 2219.6 1183.1 2222.6 1183.1 2225.6 1183.7 2228.6 1184.1 2231.6 1184.9 2234.6 1181.8 2237.6 1182.1 2240.6 1182.3 2243.6 1182.3 2246.6 1182.4 2249.6 1182.8 2252.6 1183.4 2255.6 1183.1 2258.6 1182.7 2261.6 1183.9 2264.6 1183.5 2267.6 1183.6 2270.6 1183.1 2273.6 1182.5 2276.6 1181.7 2279.6 1180.4 2282.6 1180.9 2285.6 1182.4 2288.6 1183.0 2291.6 1183.9 2294.6 1183.6 2297.6 1182.1 2300.6 1183.0 2303.6 1183.9 2306.6 1182.8 2309.6 1182.1 2312.6 1182.1 2315.6 1181.9 2318.6 1181.9 2321.6 1182.3 2324.6 1182.4 2327.6 1182.0 2330.6 1182.0 2333.6 1182.0 2336.6 1182.3 2339.6 1182.2 2342.6 1181.7 2345.6 1181.7 2348.6 1181.4 2351.6 1181.7 2354.6 1182.0 2357.6 1181.4 2360.6 1182.1 2363.6 1182.5 2366.6 1182.3 2369.6 1182.9 2372.6 1182.6 2375.6 1181.7 2378.6 1182.1 2381.6 1182.3 2384.6 1181.9 2387.6 1182.4 2390.6 1182.5 2393.6 1181.1 2396.6 1180.6 2399.6 1181.4 2400.0 1181.1 2402.6 1180.5 2405.6 1180.4 2408.6 1179.7 2411.6 1181.5 2414.6 1182.0 2417.6 1180.8 2420.6 1181.1 2423.6 1181.4 2426.6 1181.2 2429.6 1181.5 2432.6 1182.1 2435.6 1182.0 2438.6 1181.1 2441.6 1180.8 2444.6 1181.7 2447.6 1182.2 2450.6 1181.7 2453.6 1182.0 2456.6 1181.7 2459.6 1181.2 2462.6 1182.1 2465.6 1183.1 2468.6 1183.7 2471.6 1183.8 2474.6 1182.4 2477.6 1181.5 2480.6 1180.9 2483.6 1181.1 2486.6 1182.0 2489.6 1182.0 2492.6 1181.6 2495.6 1182.0 2498.6 1182.7 2501.6 1182.9 2504.6 1182.3 2507.6 1181.9 2510.6 1182.7 2513.6 1182.7 2516.6 1181.0 2519.6 1180.7 2522.6 1182.0 2525.6 1182.7 2528.6 1183.3 2531.6 1183.9 2534.6 1183.5 2537.6 1182.4 2540.6 1182.1 2543.6 1182.4 2546.6 1182.0 2549.6 1182.8 2552.6 1182.4 2555.6 1181.9 2558.6 1181.7 2561.6 1181.7 2564.6 1181.5 2567.6 1181.3 2570.6 1185.7 2573.6 1182.5 2576.6 1183.0 2579.6 1182.5 2582.6 1181.1 2585.6 1180.2 2588.6 1180.9 2591.6 1182.0 2594.6 1182.9 2597.6 1183.4 2600.0 1183.7 2600.6 1183.7 2603.6 1183.1 2606.6 1182.1 2609.6 1181.8 2612.6 1182.1 2615.6 1181.6 2618.6 1181.5 2621.6 1182.2 2624.6 1182.6 2627.6 1182.4 2630.6 1182.2 2633.6 1182.6 2636.6 1182.5 2639.6 1181.7 2642.6 1181.0 2645.6 1180.5 2648.6 1181.1 2651.6 1181.9 2654.6 1181.6 2657.6 1181.7 2660.6 1181.7 2663.6 1181.2 2666.6 1181.3 2669.6 1181.9 2672.6 1182.5 2675.6 1182.4 2678.6 1181.5 2681.6 1180.2 2684.6 1180.7 2687.6 1182.0 2690.6 1181.1 2693.6 1180.6 2696.6 1181.3 2699.6 1181.2 2702.6 1181.8 2705.6 1182.4 2708.6 1182.3 2711.6 1181.7 2714.6 1180.4 2717.6 1180.1 2720.6 1180.8 2723.6 1181.3 2726.6 1181.4 2729.6 1181.3 2732.6 1180.2 2735.6 1179.7 2738.6 1180.7 2741.6 1181.4 2744.6 1182.3 2747.6 1182.8 2750.6 1182.0 2753.6 1181.2 2756.6 1181.0 2759.6 1181.4 2760.0 1181.6 2762.6 1181.6 2765.6 1181.3 2768.6 1180.7 2771.6 1181.1 2774.6 1181.9 2777.6 1181.5 2780.6 1180.2 2783.6 1180.9 2786.6 1182.1 2789.6 1181.1 2792.6 1180.9 2795.6 1182.6 2798.6 1183.0 2801.6 1181.3 2804.6 1180.0 2807.6 1179.8 2810.6 1179.8 2813.6 1179.6 2816.6 1179.6 2819.6 1180.3 2822.6 1180.6 2825.6 1180.7 2828.6 1180.1 2831.6 1179.7 2834.6 1180.3 2837.5 1180.3 2840.0 1179.6 2840.5 1179.8 2843.5 1180.0 2846.5 1179.8 2849.5 1179.7 2852.4 1180.0 2855.4 1179.7 2858.3 1178.6 2861.2 1177.7 2864.1 1177.0 2866.9 1177.0 2869.8 1177.4 2872.7 1177.1 2875.5 1176.3 2878.4 1175.3 2881.2 1174.7 2884.1 1174.2 2887.0 1173.6 2889.9 1173.5 2891.2 1173.4 2892.8 1173.0 2895.7 1172.9 2898.6 1172.9 2901.6 1172.6 2904.5 1172.1 2907.4 1172.4 2910.3 1172.6 2913.3 1171.9 2916.2 1171.0 2919.1 1170.0 2921.9 1168.9 2924.8 1168.1 2927.6 1167.9 2929.6 1167.8 2930.4 1167.5 2933.1 1166.3 2935.8 1166.0 2938.4 1166.3 2941.0 1165.3 2943.5 1163.8 2945.9 1163.8 2948.2 1164.3 2950.4 1163.0 2952.6 1160.4 2954.7 1158.2 2955.2 1158.5 2956.7 1158.7 2958.5 1157.7 2960.1 1156.6 2961.6 1155.4 2963.0 1153.9 2964.3 1152.2 2965.6 1150.8 2966.9 1150.1 2968.1 1148.4 2969.3 1146.7 2970.4 1145.4 2970.5 1146.1 2971.7 1143.9 2972.8 1142.6 2973.8 1141.3 2974.8 1139.9 2975.8 1138.0 2976.7 1136.6 2977.6 1135.3 2978.5 1133.8 2979.4 1132.1 2980.3 1130.7 2981.2 1129.7 2982.0 1128.6 2982.9 1127.3 2983.2 1126.4 2983.7 1124.9 2984.6 1123.4 2985.5 1122.3 2986.4 1121.4 2987.3 1120.7 2988.1 1120.0 2988.9 1117.5 2989.7 1115.1 2990.4 1113.3 2991.2 1112.0 2991.8 1110.9 2992.4 1109.8 2993.0 1108.2 2993.4 1107.0 2993.6 1106.7 2994.1 1105.3 2994.6 1103.6 2995.0 1102.0 2995.5 1100.4 2995.9 1098.9 2996.2 1097.5 2996.6 1096.1 2997.0 1094.8 2997.3 1093.5 2997.7 1091.9 2998.0 1090.0 2998.3 1088.3 2998.7 1086.9 2999.0 1085.6 2999.3 1084.1 2999.6 1082.6 2999.9 1081.5 3000.2 1080.0 3000.5 1078.3 3000.9 1076.6 3001.2 1075.2 3001.2 1075.1 3001.5 1073.7 3001.8 1071.9 3002.0 1070.4 3002.3 1069.0 3002.5 1067.8 3002.8 1066.3 3003.0 1064.8 3003.2 1063.0 3003.5 1061.6 3003.7 1060.3 3003.9 1059.1 3004.1 1057.6 3004.4 1055.9 3004.6 1054.3 3004.8 1052.9 3005.0 1051.4 3005.2 1049.9 3005.5 1048.2 3005.7 1046.8 3005.9 1045.1 3006.2 1043.8 3006.4 1042.6 3006.7 1041.0 3006.9 1039.2 3007.2 1037.6 3007.4 1036.1 3007.7 1034.6 3008.0 1033.1 3008.4 1031.5 3008.8 1030.1 3008.8 1030.3 3009.2 1028.8 3009.6 1027.1 3010.1 1025.7 3010.5 1024.2 3011.0 1022.6 3011.5 1021.2 3012.1 1020.0 3012.6 1018.8 3013.2 1017.4 3013.8 1015.6 3014.4 1014.2 3015.1 1013.4 3015.7 1012.1 3016.4 1010.2 3017.1 1008.5 3017.9 1007.4 3018.7 1006.0 3019.0 1005.1 3019.4 1004.5 3020.2 1003.0 3021.0 1001.4 3021.9 999.7 3022.8 998.1 3023.7 996.7 3024.6 995.5 3025.6 994.2 3026.6 992.4 3027.6 991.0 3028.7 989.8 3029.8 988.7 3030.9 987.4 3032.0 985.9 3032.0 986.1 3033.1 984.6 3034.2 982.6 3035.2 982.2 3036.3 980.2 3037.4 978.1 3038.9 976.8 3040.8 976.7 3041.3 977.3 3042.9 978.7 3044.0 980.2 3044.8 981.3 3045.5 982.4 3046.2 983.6 3046.9 984.9 3047.5 986.3 3048.1 987.6 3048.7 989.1 3049.4 991.1 3049.8 992.3 3050.0 992.6 3050.7 993.5 3051.3 994.9 3051.8 996.7 3052.4 998.3 3052.9 999.7 3053.4 1000.9 3053.9 1002.6 3054.4 1004.2 3054.9 1005.9 3055.4 1007.2 3055.8 1008.5 3056.3 1010.4 3056.7 1011.8 3057.1 1013.3 3057.5 1014.7 3057.9 1016.1 3058.3 1017.4 3058.7 1018.5 3059.1 1020.1 3059.5 1021.8 3059.9 1023.7 3060.0 1024.3 3060.3 1025.2 3060.6 1026.7 3061.0 1028.3 3061.3 1029.7 3061.6 1031.2 3061.9 1032.6 3062.2 1033.9 3062.5 1035.6 3062.8 1037.0 3063.1 1038.3 3063.3 1039.7 3063.6 1041.4 3063.9 1043.3 3064.2 1045.0 3064.4 1046.5 3064.7 1047.7 3065.0 1049.0 3065.3 1050.8 3065.5 1052.6 3065.8 1053.9 3066.1 1055.0 3066.4 1056.6 3066.7 1058.0 3067.0 1059.6 3067.3 1060.9 3067.6 1062.2 3067.6 1062.4 3068.0 1064.0 3068.3 1065.5 3068.6 1067.2 3068.9 1068.7 3069.2 1070.0 3069.6 1071.4 3069.9 1072.9 3070.2 1074.4 3070.5 1076.0 3070.9 1077.5 3071.2 1078.9 3071.5 1080.3 3071.9 1081.7 3072.2 1083.0 3072.6 1084.4 3073.0 1086.3 3073.4 1087.9 3073.8 1089.3 3074.2 1091.0 3074.7 1092.3 3075.2 1093.8 3075.4 1094.5 3075.7 1095.4 3076.3 1097.1 3077.0 1098.6 3077.7 1099.5 3078.4 1100.5 3079.2 1101.9 3080.1 1104.0 3080.9 1106.0 3081.8 1107.3 3082.7 1108.4 3083.5 1109.9 3084.4 1111.7 3085.1 1113.1 3085.6 1113.6 3085.8 1114.1 3086.5 1115.5 3087.1 1116.6 3087.7 1118.2 3088.3 1120.1 3088.9 1121.6 3089.4 1122.8 3090.0 1124.4 3090.5 1126.0 3091.1 1127.6 3091.7 1129.1 3092.3 1130.2 3093.0 1131.4 3093.7 1132.8 3094.4 1134.2 3095.4 1135.9 3095.8 1137.3 3096.6 1138.4 3097.9 1139.4 3099.3 1139.8 3100.9 1140.7 3102.5 1141.9 3104.3 1143.7 3106.2 1144.9 3108.2 1145.7 3110.2 1147.2 3112.1 1148.4 3113.8 1150.2 3114.0 1149.8 3115.9 1151.1 3117.7 1152.6 3119.5 1153.6 3121.3 1154.1 3123.1 1154.3 3125.0 1154.9 3127.0 1155.8 3129.0 1157.1 3131.3 1159.3 3133.7 1160.6 3134.2 1160.5 3136.4 1161.5 3139.1 1162.4 3141.8 1162.3 3144.5 1162.8 3147.3 1164.6 3150.2 1165.4 3153.0 1165.4 3155.9 1166.2 3158.8 1167.7 3161.7 1165.4 3164.6 1165.2 3167.5 1165.2 3170.5 1165.7 3172.6 1166.4 3173.4 1167.6 3176.3 1167.7 3179.3 1167.2 3182.2 1167.5 3185.2 1167.5 3188.2 1168.3 3191.1 1169.2 3194.1 1168.8 3197.1 1168.6 3200.1 1168.9 3203.0 1169.4 3206.0 1169.7 3209.0 1171.5 3212.0 1172.2 3214.9 1171.7 3217.9 1170.4 3220.9 1170.1 3223.8 1170.9 3223.8 1170.6 3226.8 1169.9 3229.7 1171.1 3232.7 1172.4 3235.6 1171.7 3238.5 1171.4 3241.5 1172.3 3244.4 1173.2 3247.3 1173.5 3250.2 1173.1 3253.2 1173.3 3256.1 1174.4 3259.0 1174.8 3262.0 1174.7 3264.9 1175.4 3267.9 1175.7 3270.8 1174.7 3273.8 1174.3 3276.8 1174.9 3279.7 1174.6 3280.0 1174.4 3282.7 1175.6 3285.7 1177.2 3288.7 1177.4 3291.7 1176.7 3294.7 1175.6 3297.7 1176.7 3300.7 1178.8 3303.6 1178.9 3306.6 1177.6 3309.6 1177.2 3312.6 1177.5 3315.6 1177.2 3318.6 1176.9 3321.6 1177.0 3324.6 1177.8 3327.6 1179.0 3330.6 1179.7 3333.6 1179.2 3336.6 1178.4 3339.6 1178.1 3342.5 1178.0 3345.5 1178.5 3348.5 1179.1 3351.5 1177.4 3354.5 1179.3 3357.5 1178.4 3360.5 1179.2 3363.5 1179.6 3366.5 1179.6 3369.5 1180.2 3372.5 1180.6 3375.5 1181.3 3378.5 1181.4 3381.5 1180.8 3384.5 1180.7 3387.5 1180.3 3390.5 1179.3 3393.5 1178.4 3396.5 1178.6 3399.5 1179.5 3400.0 1180.0 3402.5 1180.5 3405.5 1180.3 3408.5 1179.6 3411.5 1180.2 3414.5 1180.6 3417.5 1180.5 3420.5 1180.5 3423.5 1180.3 3426.5 1180.6 3429.5 1180.6 3432.5 1179.6 3435.5 1178.9 3438.5 1179.8 3441.5 1180.7 3444.5 1180.9 3447.5 1180.5 3450.5 1178.7 3453.5 1178.8 3456.5 1180.0 3459.5 1181.0 3462.5 1181.4 3465.5 1180.5 3468.5 1180.1 3471.5 1181.3 3474.5 1181.0 3477.5 1179.6 3480.5 1180.2 3483.5 1180.7 3486.5 1182.5 3489.5 1180.2 3492.5 1180.7 3495.5 1180.7 3498.5 1180.2 3501.5 1180.0 3504.5 1180.3 3507.5 1180.4 3510.5 1180.4 3513.5 1180.5 3516.5 1181.0 3519.5 1181.5 3522.5 1181.5 3525.5 1180.9 3528.5 1180.3 3531.5 1180.8 3534.5 1181.0 3537.5 1180.5 3540.5 1179.6 3543.5 1179.0 3546.5 1179.9 3549.5 1179.9 3552.5 1179.4 3555.5 1180.3 3558.5 1180.8 3561.5 1180.8 3564.5 1181.1 3567.5 1181.2 3570.5 1181.1 3573.5 1181.0 3576.5 1181.5 3579.5 1180.9 3582.5 1179.7 3585.5 1180.0 3588.5 1180.2 3591.5 1180.5 3594.5 1181.8 3597.5 1181.7 3600.0 1180.2 3600.5 1180.2 3603.5 1181.0 3606.5 1180.7 3609.5 1179.9 3612.5 1179.5 3615.5 1180.6 3618.5 1181.6 3621.5 1181.0 3624.5 1181.3 3627.5 1182.4 3630.5 1182.7 3633.5 1182.5 3636.5 1182.3 3639.5 1181.5 3642.5 1180.0 3645.5 1179.3 3648.5 1181.1 3651.5 1182.0 3654.5 1183.6 3657.5 1180.7 3660.5 1180.1 3663.5 1179.1 3666.5 1179.5 3669.5 1181.5 3672.5 1181.7 3675.5 1180.5 3678.5 1180.0 3681.5 1180.6 3684.5 1181.2 3687.5 1181.3 3690.5 1181.1 3693.5 1180.7 3696.5 1181.2 3699.5 1181.9 3702.5 1180.8 3705.5 1181.4 3708.5 1180.7 3711.5 1180.5 3714.5 1178.7 3717.5 1180.6 3720.5 1180.5 3723.5 1180.6 3726.5 1180.0 3729.5 1180.3 3732.5 1181.6 3735.5 1181.8 3738.5 1181.1 3741.5 1181.1 3744.5 1181.4 3747.5 1180.9 3750.5 1179.5 3753.5 1181.1 3756.5 1181.3 3759.5 1181.5 3762.5 1181.9 3765.5 1181.4 3768.5 1180.8 3771.5 1181.6 3774.5 1182.1 3777.5 1181.1 3780.5 1180.3 3783.5 1180.5 3786.5 1180.5 3789.5 1180.4 3792.5 1181.1 3795.5 1181.4 3798.5 1180.4 3801.5 1179.7 3804.5 1179.7 3807.5 1180.1 3810.5 1182.1 3813.5 1180.0 3816.5 1178.8 3819.5 1180.7 3822.5 1181.9 3825.5 1181.6 3828.5 1179.8 3831.5 1179.8 3834.5 1180.5 3837.5 1180.2 3840.5 1180.3 3843.5 1181.4 3846.5 1182.4 3849.5 1182.2 3852.5 1181.2 3855.5 1179.7 3858.5 1180.7 3861.5 1180.4 3864.5 1179.5 3867.5 1179.3 3870.5 1180.5 3873.5 1181.8 3876.5 1181.2 3879.5 1179.9 3882.5 1180.0 3885.5 1180.6 3888.5 1180.6 3891.5 1180.7 3894.5 1181.2 3897.5 1181.4 3900.5 1181.6 3903.5 1181.1 3906.5 1179.9 3909.5 1180.7 3912.5 1181.9 3915.5 1181.9 3918.5 1181.8 3921.5 1181.5 3924.5 1180.9 3927.5 1181.4 3930.5 1182.2 3933.5 1182.7 3936.5 1182.0 3939.5 1181.0 3942.5 1180.7 3945.5 1180.3 3948.5 1180.4 3951.5 1181.0 3954.5 1181.5 3957.5 1181.8 3960.5 1181.7 3963.5 1181.3 3966.5 1181.5 3969.5 1181.5 3972.5 1180.7 3975.5 1180.4 3978.5 1181.1 3981.5 1181.7 3984.5 1181.6 3987.5 1181.1 3990.5 1180.9 3993.5 1181.3 3996.5 1181.7 3999.5 1182.3 4000.0 1182.3 4002.5 1181.9 4005.5 1181.1 4008.5 1180.0 4011.5 1180.4 4014.5 1181.4 4017.5 1181.8 4020.5 1181.4 4023.5 1181.1 4026.5 1180.3 4029.5 1180.2 4032.5 1181.4 4035.5 1181.6 4038.5 1181.6 4041.5 1182.2 4044.5 1182.1 4047.5 1181.5 4050.5 1180.5 4053.5 1180.0 4056.5 1180.3 4059.5 1180.4 4062.5 1180.1 4065.5 1179.7 4068.5 1180.1 4071.5 1180.2 4074.5 1180.1 4077.5 1180.6 4080.5 1180.6 4083.5 1180.7 4086.5 1181.3 4089.5 1181.4 4092.5 1181.5 4095.5 1181.7 4098.5 1181.4 4101.5 1181.1 4104.5 1180.9 4107.5 1181.1 4110.5 1181.0 4113.5 1179.9 4116.5 1178.9 4119.5 1178.8 4122.5 1179.6 4125.5 1180.5 4128.5 1180.4 4131.5 1180.3 4134.5 1180.8 4137.5 1181.4 4140.5 1181.2 4143.5 1180.5 4146.5 1180.6 4149.5 1180.5 4152.5 1179.7 4155.5 1179.5 4158.0 1179.4 4158.5 1179.7 4161.4 1179.3 4164.1 1177.9 4166.8 1177.1 4169.3 1176.9 4171.9 1176.4 4173.0 1176.1" fill="none" stroke="#0000ff" stroke-width="5.8" stroke-linejoin="round" stroke-linecap="round"/>
<path transform="scale(0.50 1)" d="M304.0 1310.9L307.0 1313.1 310.0 1312.9 313.0 1313.2 316.0 1313.1 319.0 1312.9 322.0 1312.8 325.0 1312.6 328.0 1313.0 331.0 1313.1 334.0 1312.4 337.0 1312.1 340.0 1312.4 343.0 1313.3 346.0 1314.0 349.0 1314.2 352.0 1314.4 355.0 1314.3 358.0 1315.2 361.0 1313.0 364.0 1313.1 367.0 1313.5 370.0 1314.4 373.0 1314.2 376.0 1313.1 379.0 1312.7 382.0 1313.7 385.0 1313.6 388.0 1312.1 391.0 1311.9 394.0 1312.3 397.0 1312.9 400.0 1314.4 403.0 1314.6 406.0 1313.4 409.0 1313.3 412.0 1313.6 415.0 1313.0 418.0 1311.7 421.0 1312.3 424.0 1313.4 427.0 1313.3 430.0 1313.4 433.0 1313.4 436.0 1313.8 439.0 1313.6 442.0 1312.7 445.0 1312.3 448.0 1313.0 451.0 1313.7 454.0 1313.2 457.0 1313.7 460.0 1313.6 463.0 1313.0 466.0 1312.5 469.0 1312.9 472.0 1312.5 475.0 1312.5 478.0 1312.2 481.0 1312.0 484.0 1312.4 487.0 1312.1 490.0 1312.5 493.0 1313.2 496.0 1312.9 499.0 1313.4 502.0 1314.3 505.0 1314.2 508.0 1313.6 511.0 1312.5 514.0 1312.0 517.0 1312.8 520.0 1313.2 523.0 1312.5 526.0 1312.4 529.0 1312.9 532.0 1312.7 535.0 1312.8 538.0 1312.2 541.0 1312.2 544.0 1313.7 547.0 1316.3 550.0 1313.1 553.0 1312.2 556.0 1312.5 559.0 1312.9 562.0 1313.1 565.0 1313.2 568.0 1312.4 571.0 1312.1 574.0 1311.4 577.0 1310.8 580.0 1311.8 583.0 1312.7 586.0 1312.5 589.0 1312.0 592.0 1311.6 595.0 1311.4 598.0 1311.5 600.0 1311.9 601.0 1312.3 604.0 1311.8 607.0 1311.0 610.0 1312.1 613.0 1313.4 616.0 1313.0 619.0 1312.5 622.0 1312.2 625.0 1312.2 628.0 1312.2 631.0 1311.9 634.0 1311.8 637.0 1311.8 640.0 1312.0 643.0 1312.1 646.0 1313.1 649.0 1313.2 652.0 1312.3 655.0 1312.6 658.0 1313.1 661.0 1313.2 664.0 1312.7 667.0 1312.3 670.0 1312.8 673.0 1312.8 676.0 1312.1 679.0 1312.5 682.0 1312.8 685.0 1312.2 688.0 1312.6 691.0 1313.4 694.0 1314.0 697.0 1313.7 700.0 1312.0 703.0 1310.8 706.0 1311.3 709.0 1311.9 712.0 1312.4 715.0 1313.7 718.0 1314.3 721.0 1312.6 724.0 1311.4 727.0 1312.0 730.0 1312.0 733.0 1312.1 736.0 1312.6 739.0 1312.4 742.0 1312.0 745.0 1312.2 748.0 1312.5 751.0 1313.0 754.0 1312.2 757.0 1309.9 760.0 1309.7 763.0 1311.0 766.0 1311.7 769.0 1311.9 772.0 1311.3 774.9 1310.3 777.9 1310.5 780.9 1311.2 783.9 1310.8 786.9 1310.5 789.9 1311.2 792.9 1310.9 795.9 1310.0 798.9 1310.7 801.9 1310.6 804.9 1309.8 807.9 1310.1 809.2 1310.5 810.7 1310.0 812.6 1308.5 814.0 1307.1 815.3 1305.6 816.5 1304.4 817.6 1303.3 818.7 1301.8 819.8 1300.3 820.0 1300.0 820.8 1298.9 821.7 1297.2 822.5 1295.6 823.3 1294.3 824.0 1292.8 824.7 1291.4 825.5 1290.2 826.3 1288.8 827.2 1287.1 827.6 1285.9 828.2 1285.0 829.3 1283.9 830.4 1282.5 831.6 1281.5 832.8 1280.7 834.1 1279.8 835.4 1278.6 836.9 1276.7 838.5 1274.9 840.0 1273.9 840.2 1273.8 842.1 1272.4 844.0 1271.3 846.0 1270.8 848.1 1269.7 850.7 1268.0 852.8 1267.2 853.5 1269.3 854.7 1269.7 855.7 1271.1 856.5 1272.4 857.4 1273.9 858.0 1275.3 858.5 1275.9 859.6 1276.6 860.9 1278.0 862.1 1279.7 863.2 1280.9 864.0 1282.1 864.4 1283.0 865.4 1283.9 866.4 1285.1 867.4 1286.5 868.3 1287.5 869.3 1287.8 870.3 1290.7 871.4 1292.1 872.0 1292.8 872.6 1294.1 873.9 1295.1 875.1 1295.9 876.4 1297.4 877.8 1299.3 879.2 1300.5 880.8 1301.1 882.6 1301.7 882.7 1302.0 884.8 1303.8 886.9 1304.4 889.1 1304.6 891.4 1305.9 893.8 1308.4 896.3 1310.0 898.9 1309.1 901.6 1309.6 904.4 1310.2 905.6 1310.2 907.3 1310.1 910.3 1311.0 913.2 1310.0 916.2 1310.6 919.1 1310.8 922.1 1311.7 925.1 1311.8 928.0 1311.7 931.0 1312.3 934.0 1312.7 937.0 1313.5 940.0 1313.5 940.0 1313.0 943.0 1312.8 946.0 1312.6 949.0 1313.2 952.0 1313.8 955.0 1313.3 958.0 1312.9 961.0 1312.5 964.0 1312.9 967.0 1313.1 970.0 1312.5 973.0 1311.9 976.0 1311.1 979.0 1311.2 982.0 1312.5 985.0 1313.5 988.0 1313.3 991.0 1312.4 994.0 1312.5 997.0 1312.4 1000.0 1312.0 1003.0 1313.0 1006.0 1314.3 1009.0 1313.9 1012.0 1312.7 1015.0 1312.0 1018.0 1311.8 1021.0 1312.0 1024.0 1312.6 1027.0 1313.1 1030.0 1312.7 1033.0 1312.4 1036.0 1313.2 1039.0 1313.3 1042.0 1312.5 1045.0 1312.2 1048.0 1311.9 1051.0 1311.5 1054.0 1312.3 1057.0 1313.7 1060.0 1314.1 1063.0 1313.2 1066.0 1312.3 1069.0 1312.5 1072.0 1313.1 1075.0 1312.9 1078.0 1312.1 1080.0 1312.4 1081.0 1312.1 1083.5 1311.0 1085.6 1310.6 1087.5 1309.7 1089.5 1308.5 1090.0 1308.0 1091.5 1306.9 1093.3 1305.8 1095.2 1305.0 1097.6 1304.4 1098.0 1303.5 1100.1 1303.7 1101.8 1305.0 1103.3 1306.6 1104.9 1308.2 1106.0 1309.0 1107.1 1309.9 1109.4 1310.7 1111.9 1311.5 1114.6 1311.4 1116.6 1312.0 1117.6 1311.8 1120.6 1312.5 1123.6 1312.2 1126.6 1312.1 1129.5 1313.1 1132.5 1312.3 1135.5 1310.7 1138.5 1311.0 1141.5 1311.7 1144.5 1311.7 1147.5 1312.2 1150.4 1312.7 1153.4 1312.4 1156.4 1312.0 1159.3 1310.8 1160.0 1310.2 1162.3 1310.2 1165.2 1309.8 1168.2 1309.7 1171.1 1309.1 1173.9 1307.7 1176.8 1307.0 1179.6 1307.1 1182.4 1307.4 1185.2 1307.2 1188.0 1306.7 1190.8 1306.5 1193.6 1305.4 1196.3 1303.7 1199.0 1302.9 1199.1 1303.1 1201.9 1302.5 1204.6 1302.3 1207.4 1302.2 1210.1 1301.7 1212.8 1300.8 1215.4 1299.2 1217.9 1297.7 1219.2 1296.8 1220.4 1296.4 1222.7 1296.3 1225.0 1295.9 1227.1 1294.9 1229.1 1294.3 1231.0 1293.4 1232.8 1291.4 1234.6 1289.8 1236.2 1288.5 1237.7 1287.5 1238.4 1287.6 1239.2 1287.0 1240.5 1285.3 1241.6 1283.8 1242.7 1283.2 1243.7 1281.8 1244.6 1279.5 1245.5 1277.8 1246.3 1276.6 1247.1 1275.1 1247.9 1273.4 1248.7 1272.3 1249.4 1271.0 1250.1 1268.9 1250.8 1267.0 1251.5 1265.8 1252.2 1264.8 1252.9 1263.6 1253.5 1261.8 1254.2 1260.2 1254.4 1260.1 1254.8 1259.3 1255.4 1257.9 1256.0 1256.4 1256.6 1255.0 1257.1 1253.2 1257.6 1251.4 1258.1 1250.2 1258.6 1248.9 1259.1 1247.6 1259.5 1246.1 1260.0 1244.4 1260.4 1242.8 1260.8 1241.1 1261.2 1239.6 1261.6 1238.1 1262.0 1236.5 1262.3 1235.0 1262.7 1233.8 1263.0 1232.4 1263.4 1230.7 1263.7 1229.0 1264.0 1227.8 1264.0 1227.8 1264.3 1226.4 1264.6 1224.9 1264.9 1223.3 1265.1 1221.9 1265.4 1220.6 1265.6 1219.1 1265.8 1217.5 1266.1 1215.7 1266.3 1214.3 1266.5 1213.0 1266.7 1211.5 1266.9 1209.9 1267.1 1208.4 1267.3 1207.0 1267.5 1205.5 1267.7 1204.0 1267.9 1202.4 1268.0 1200.9 1268.2 1199.5 1268.4 1197.9 1268.6 1196.4 1268.8 1194.9 1268.9 1193.6 1269.1 1191.9 1269.3 1190.3 1269.4 1188.9 1269.6 1187.4 1269.8 1186.0 1269.9 1184.5 1270.1 1183.0 1270.2 1181.5 1270.4 1180.1 1270.4 1180.1 1270.6 1178.5 1270.7 1176.8 1270.9 1175.5 1271.0 1174.2 1271.1 1172.7 1271.3 1171.1 1271.4 1169.7 1271.5 1168.0 1271.7 1166.6 1271.8 1164.9 1271.9 1163.5 1272.0 1162.2 1272.2 1160.7 1272.3 1159.1 1272.4 1157.5 1272.5 1155.9 1272.6 1154.3 1272.8 1152.7 1272.9 1151.5 1273.0 1149.9 1273.1 1148.3 1273.2 1146.9 1273.3 1145.5 1273.4 1144.0 1273.5 1142.4 1273.7 1140.9 1273.8 1139.6 1273.9 1137.8 1274.0 1136.4 1274.1 1134.8 1274.2 1133.6 1274.3 1132.0 1274.4 1130.5 1274.5 1129.2 1274.7 1127.5 1274.8 1126.0 1274.9 1124.4 1275.0 1123.1 1275.1 1121.6 1275.2 1120.1 1275.3 1118.7 1275.4 1117.1 1275.6 1115.6 1275.7 1114.1 1275.8 1112.5 1275.9 1110.8 1276.0 1109.3 1276.2 1107.9 1276.3 1106.4 1276.4 1105.0 1276.4 1105.0 1276.5 1103.7 1276.6 1102.3 1276.8 1100.4 1276.9 1098.9 1277.0 1097.6 1277.2 1096.0 1277.3 1094.5 1277.4 1093.1 1277.5 1091.4 1277.7 1090.0 1277.8 1088.7 1277.9 1087.3 1278.0 1085.4 1278.2 1083.8 1278.3 1082.3 1278.4 1081.0 1278.5 1079.6 1278.7 1078.0 1278.8 1076.7 1278.9 1075.4 1279.1 1073.7 1279.2 1072.0 1279.3 1070.6 1279.4 1068.9 1279.6 1067.6 1279.7 1065.9 1279.8 1064.4 1280.0 1062.9 1280.1 1061.6 1280.2 1060.3 1280.3 1058.7 1280.5 1057.2 1280.6 1055.5 1280.7 1054.2 1280.9 1052.8 1281.0 1051.3 1281.1 1049.5 1281.2 1048.3 1281.4 1046.7 1281.5 1045.3 1281.6 1043.6 1281.8 1041.9 1281.9 1040.5 1282.0 1039.0 1282.2 1037.8 1282.3 1036.2 1282.4 1034.6 1282.6 1033.1 1282.7 1031.4 1282.8 1029.9 1283.0 1028.7 1283.1 1027.1 1283.2 1025.5 1283.4 1024.1 1283.5 1022.6 1283.6 1021.0 1283.8 1019.5 1283.9 1018.2 1284.0 1016.6 1284.2 1015.0 1284.3 1013.7 1284.4 1012.4 1284.6 1010.8 1284.7 1009.2 1284.9 1007.6 1285.0 1006.1 1285.1 1004.8 1285.3 1003.3 1285.4 1001.7 1285.6 1000.2 1285.7 998.7 1285.8 997.2 1286.0 995.8 1286.1 994.4 1286.3 992.7 1286.4 991.1 1286.5 989.6 1286.7 988.1 1286.8 987.0 1286.8 986.9 1287.0 985.3 1287.1 983.6 1287.3 982.2 1287.4 980.9 1287.5 979.5 1287.7 977.7 1287.8 976.1 1288.0 974.5 1288.1 972.9 1288.3 971.6 1288.4 970.2 1288.6 968.7 1288.7 967.3 1288.9 965.6 1289.0 964.1 1289.2 962.5 1289.3 961.3 1289.5 959.7 1289.6 958.2 1289.8 956.6 1289.9 955.3 1290.1 953.8 1290.2 952.2 1290.4 950.8 1290.5 949.3 1290.7 947.8 1290.8 946.4 1291.0 944.8 1291.2 943.2 1291.3 941.6 1291.5 940.2 1291.6 938.7 1291.8 937.1 1291.9 935.7 1292.1 934.4 1292.2 932.7 1292.4 931.0 1292.6 929.7 1292.7 928.3 1292.9 926.7 1293.0 925.1 1293.2 923.9 1293.3 922.4 1293.5 920.8 1293.7 919.3 1293.8 917.8 1294.0 916.4 1294.1 914.7 1294.3 913.2 1294.5 911.8 1294.6 910.3 1294.8 908.7 1294.9 907.3 1295.1 905.7 1295.2 904.2 1295.4 902.7 1295.6 901.1 1295.7 899.6 1295.9 898.4 1296.0 897.1 1296.2 895.4 1296.4 893.7 1296.5 892.2 1296.7 891.0 1296.8 889.8 1297.0 887.9 1297.1 886.4 1297.3 885.0 1297.5 883.3 1297.6 881.7 1297.8 880.4 1297.8 880.0 1297.9 878.8 1298.1 877.3 1298.2 875.8 1298.4 874.4 1298.5 872.8 1298.7 871.4 1298.8 869.7 1299.0 868.3 1299.1 866.9 1299.3 865.3 1299.4 863.7 1299.6 862.2 1299.7 860.8 1299.9 859.2 1300.0 857.7 1300.1 856.3 1300.3 854.9 1300.4 853.4 1300.6 851.8 1300.7 850.5 1300.9 849.0 1301.0 847.5 1301.2 845.8 1301.3 844.4 1301.5 842.9 1301.6 841.5 1301.7 840.0 1301.9 838.3 1302.1 836.7 1302.2 835.3 1302.4 833.8 1302.5 832.4 1302.7 830.8 1302.8 829.2 1303.0 827.7 1303.2 826.3 1303.3 824.8 1303.5 823.5 1303.7 821.9 1303.9 820.7 1304.0 819.1 1304.2 817.4 1304.4 815.4 1304.6 814.2 1304.9 812.9 1305.0 812.0 1305.1 811.5 1305.3 809.9 1305.5 808.3 1305.8 806.8 1306.0 805.3 1306.3 803.7 1306.5 802.3 1306.8 800.8 1307.0 799.4 1307.3 797.8 1307.6 796.5 1307.8 795.1 1308.1 793.6 1308.4 792.3 1308.7 790.7 1309.0 788.7 1309.3 787.4 1309.6 786.0 1310.0 784.8 1310.3 783.1 1310.6 781.3 1311.0 779.6 1311.3 778.2 1311.6 777.0 1312.0 775.6 1312.0 775.5 1312.3 774.0 1312.7 772.7 1313.0 771.2 1313.4 769.7 1313.7 768.3 1314.1 766.7 1314.5 765.2 1314.8 763.6 1315.2 762.1 1315.6 760.6 1316.0 759.0 1316.4 757.6 1316.8 756.5 1317.2 755.0 1317.7 752.9 1318.2 751.3 1318.7 750.2 1319.4 749.0 1319.6 748.4 1320.1 747.5 1320.8 745.7 1321.5 744.0 1322.7 742.6 1323.2 742.5 1323.5 744.3 1323.6 745.9 1323.7 747.3 1323.8 748.8 1323.9 750.3 1324.0 751.8 1324.1 753.3 1324.1 755.2 1324.2 756.5 1324.3 757.8 1324.3 759.2 1324.4 761.1 1324.5 762.5 1324.5 764.1 1324.6 765.5 1324.6 767.0 1324.7 768.4 1324.8 769.9 1324.8 771.5 1324.9 772.9 1324.9 774.3 1325.0 775.7 1325.0 776.1 1325.1 777.5 1325.1 779.0 1325.2 780.6 1325.2 781.6 1325.3 783.3 1325.4 785.1 1325.4 786.4 1325.5 788.2 1325.5 789.4 1325.5 790.7 1325.6 792.7 1325.6 794.0 1325.7 795.3 1325.7 797.3 1325.8 798.6 1325.8 799.9 1325.9 801.3 1325.9 802.7 1326.0 804.7 1326.0 806.1 1326.0 807.5 1326.1 808.8 1326.1 810.8 1326.2 812.1 1326.2 813.4 1326.3 814.8 1326.3 816.7 1326.4 817.9 1326.4 819.7 1326.5 820.9 1326.5 822.6 1326.6 823.8 1326.6 825.5 1326.7 827.1 1326.7 828.5 1326.8 830.0 1326.8 830.0 1326.9 831.4 1326.9 832.7 1327.0 834.5 1327.1 835.8 1327.1 837.4 1327.2 839.0 1327.3 840.2 1327.4 841.7 1327.4 843.3 1327.5 844.9 1327.6 846.3 1327.7 847.7 1327.8 849.2 1327.9 851.0 1327.9 852.3 1328.0 854.0 1328.1 855.3 1328.2 856.7 1328.3 858.4 1328.4 859.7 1328.4 860.0 1328.5 861.3 1328.6 862.9 1328.7 864.2 1328.8 865.8 1328.9 867.4 1328.9 868.7 1329.0 870.2 1329.1 871.7 1329.2 873.1 1329.3 874.7 1329.5 876.5 1329.6 878.0 1329.7 879.2 1329.8 880.9 1329.9 882.2 1330.0 883.6 1330.1 885.3 1330.2 887.0 1330.3 888.3 1330.4 889.9 1330.6 891.4 1330.7 892.8 1330.8 894.3 1330.9 895.7 1331.0 897.1 1331.2 898.6 1331.3 900.2 1331.4 901.8 1331.5 903.2 1331.7 904.8 1331.8 906.2 1331.9 907.6 1332.0 909.1 1332.2 910.7 1332.3 912.0 1332.4 913.6 1332.5 915.5 1332.7 916.9 1332.8 918.2 1332.9 919.8 1333.0 921.2 1333.2 922.7 1333.3 924.1 1333.4 925.5 1333.5 927.2 1333.7 928.7 1333.8 930.2 1333.9 931.8 1334.0 933.1 1334.1 934.7 1334.2 936.2 1334.4 937.9 1334.5 939.2 1334.6 940.7 1334.7 942.3 1334.8 943.7 1334.9 945.1 1335.0 946.8 1335.1 948.2 1335.2 949.8 1335.3 951.0 1335.4 952.5 1335.5 954.1 1335.6 955.6 1335.7 957.2 1335.8 958.8 1335.9 960.4 1336.0 961.6 1336.1 963.2 1336.2 964.5 1336.3 966.3 1336.4 967.6 1336.5 969.3 1336.5 970.8 1336.6 972.2 1336.7 973.5 1336.8 975.3 1336.9 977.0 1337.0 978.3 1337.0 979.9 1337.1 981.3 1337.2 982.8 1337.3 984.1 1337.3 985.8 1337.4 987.0 1337.4 987.4 1337.5 988.6 1337.6 990.3 1337.6 991.6 1337.7 993.1 1337.7 994.6 1337.8 996.1 1337.9 997.7 1337.9 999.4 1338.0 1001.0 1338.0 1002.1 1338.1 1003.9 1338.1 1005.6 1338.2 1006.8 1338.2 1008.5 1338.3 1009.7 1338.3 1011.6 1338.4 1012.9 1338.4 1014.1 1338.5 1016.0 1338.5 1017.4 1338.6 1018.6 1338.6 1020.6 1338.7 1021.9 1338.7 1023.3 1338.7 1024.7 1338.8 1026.6 1338.8 1028.0 1338.9 1029.5 1338.9 1030.8 1339.0 1032.2 1339.0 1033.5 1339.1 1035.6 1339.1 1037.0 1339.1 1038.4 1339.2 1039.9 1339.2 1041.2 1339.3 1042.6 1339.3 1044.7 1339.4 1046.1 1339.4 1047.5 1339.4 1048.9 1339.5 1050.3 1339.5 1051.7 1339.6 1053.7 1339.6 1055.1 1339.7 1056.4 1339.7 1057.8 1339.7 1059.2 1339.8 1060.5 1339.8 1062.5 1339.9 1063.9 1339.9 1065.2 1340.0 1066.6 1340.0 1068.5 1340.1 1069.8 1340.1 1071.1 1340.2 1073.0 1340.2 1074.2 1340.3 1076.0 1340.3 1077.3 1340.4 1079.1 1340.4 1080.3 1340.5 1082.0 1340.5 1083.2 1340.6 1084.9 1340.6 1086.6 1340.7 1087.7 1340.7 1089.2 1340.8 1090.7 1340.8 1092.1 1340.9 1093.6 1341.0 1095.5 1341.0 1096.8 1341.1 1098.5 1341.2 1099.7 1341.2 1100.0 1341.3 1101.1 1341.3 1102.6 1341.4 1104.2 1341.5 1105.7 1341.6 1107.1 1341.7 1108.8 1341.8 1110.2 1341.8 1111.7 1341.9 1113.1 1342.0 1114.9 1342.1 1116.5 1342.2 1117.5 1342.3 1119.1 1342.4 1120.5 1342.5 1122.3 1342.5 1123.5 1342.6 1125.2 1342.7 1126.8 1342.8 1128.1 1342.9 1129.5 1343.0 1131.0 1343.1 1132.6 1343.2 1134.2 1343.3 1135.7 1343.4 1137.1 1343.5 1138.7 1343.6 1140.4 1343.7 1141.7 1343.8 1143.0 1344.0 1144.7 1344.1 1146.0 1344.2 1147.6 1344.3 1149.2 1344.4 1150.5 1344.5 1152.1 1344.6 1153.6 1344.8 1155.0 1344.9 1156.7 1345.0 1158.2 1345.1 1159.6 1345.3 1161.2 1345.4 1162.5 1345.5 1164.0 1345.7 1165.6 1345.8 1167.1 1346.0 1168.8 1346.1 1170.3 1346.3 1171.7 1346.4 1172.9 1346.6 1174.4 1346.7 1175.8 1346.9 1177.5 1347.1 1179.1 1347.2 1180.3 1347.3 1180.8 1347.4 1182.1 1347.6 1183.7 1347.8 1185.1 1348.0 1186.6 1348.2 1188.2 1348.4 1189.6 1348.6 1191.1 1348.8 1192.5 1349.0 1193.7 1349.2 1195.2 1349.4 1197.0 1349.6 1198.8 1349.9 1200.3 1350.1 1201.7 1350.3 1203.1 1350.5 1204.6 1350.8 1206.0 1351.0 1207.5 1351.3 1208.8 1351.5 1210.6 1351.8 1212.2 1352.0 1213.5 1352.3 1215.1 1352.6 1216.7 1352.8 1218.3 1353.1 1219.8 1353.4 1221.3 1353.7 1222.8 1354.0 1224.1 1354.3 1226.1 1354.7 1227.0 1355.0 1228.5 1355.3 1229.8 1355.7 1231.2 1356.0 1232.9 1356.4 1234.3 1356.8 1235.6 1356.8 1235.8 1357.1 1237.2 1357.5 1238.7 1357.9 1240.6 1358.3 1241.5 1358.7 1243.3 1359.0 1245.0 1359.4 1246.6 1359.8 1247.9 1360.3 1249.5 1360.7 1251.1 1361.1 1252.4 1361.6 1253.9 1362.0 1255.3 1362.5 1256.9 1363.1 1258.4 1363.6 1259.4 1364.2 1260.5 1364.9 1261.9 1365.7 1263.8 1366.4 1265.1 1366.8 1265.6 1368.0 1266.8 1369.3 1268.2 1370.7 1269.7 1372.2 1270.8 1373.8 1272.1 1375.6 1273.8 1377.6 1274.8 1379.9 1275.6 1382.4 1276.5 1382.4 1276.5 1385.1 1276.6 1387.9 1276.7 1390.8 1277.7 1393.7 1278.6 1396.6 1278.8 1399.5 1279.3 1402.5 1279.9 1404.8 1279.4 1405.4 1279.2 1408.4 1279.4 1411.4 1278.7 1414.4 1278.9 1417.4 1280.2 1420.4 1280.7 1423.3 1279.9 1426.3 1279.2 1429.3 1279.8 1432.3 1280.9 1435.2 1281.7 1437.4 1282.2 1438.1 1282.2 1440.2 1283.3 1441.7 1284.1 1443.1 1284.6 1444.4 1286.2 1445.6 1287.8 1447.0 1289.2 1448.0 1290.0 1448.4 1289.8 1449.8 1291.2 1451.1 1293.0 1452.4 1294.6 1453.7 1296.0 1455.0 1297.5 1456.5 1299.2 1458.2 1300.5 1458.6 1300.6 1460.3 1301.0 1462.4 1302.2 1464.6 1303.2 1466.8 1303.2 1469.0 1304.1 1471.4 1305.4 1473.8 1307.8 1476.2 1308.7 1478.8 1309.3 1481.5 1309.4 1484.2 1309.1 1487.1 1309.9 1490.0 1311.0 1490.6 1310.5 1492.9 1309.8 1495.9 1309.6 1498.9 1309.9 1501.9 1310.3 1504.8 1311.6 1507.8 1312.7 1510.8 1312.5 1513.8 1312.0 1516.8 1312.0 1519.8 1309.2 1522.8 1311.6 1525.8 1312.5 1528.7 1315.0 1531.7 1312.3 1534.7 1311.5 1537.7 1312.1 1540.7 1313.1 1543.7 1312.7 1546.7 1311.7 1549.7 1312.2 1552.7 1313.6 1555.7 1314.2 1558.7 1313.9 1560.0 1313.7 1561.7 1314.2 1564.7 1314.6 1567.7 1313.6 1570.7 1311.8 1573.7 1311.0 1576.7 1311.8 1579.7 1312.6 1582.7 1312.2 1585.7 1312.2 1588.7 1312.8 1591.7 1312.5 1594.7 1312.7 1597.7 1313.9 1600.7 1314.4 1603.7 1314.5 1606.7 1314.9 1609.7 1314.8 1612.7 1314.0 1615.7 1312.9 1618.7 1312.4 1621.7 1312.8 1624.7 1313.6 1627.7 1314.4 1630.7 1315.0 1633.7 1315.3 1636.7 1315.4 1639.7 1315.1 1642.7 1314.6 1645.7 1314.0 1648.7 1313.7 1651.7 1313.5 1654.7 1313.4 1657.7 1313.8 1660.7 1313.4 1663.7 1311.8 1666.7 1311.3 1669.7 1312.5 1672.7 1313.4 1675.7 1314.1 1678.7 1314.6 1681.7 1313.7 1684.7 1313.2 1687.7 1314.4 1690.7 1315.4 1693.7 1315.2 1696.7 1313.9 1699.7 1311.8 1702.7 1314.3 1705.7 1315.2 1708.7 1315.1 1711.7 1314.7 1714.7 1314.6 1717.7 1314.2 1720.7 1314.0 1723.7 1314.0 1726.7 1313.8 1729.7 1314.0 1732.7 1314.5 1735.7 1315.0 1738.7 1315.6 1741.7 1315.3 1744.7 1313.8 1747.7 1312.4 1750.7 1312.5 1753.7 1313.4 1756.7 1311.2 1759.7 1313.2 1762.7 1313.7 1765.7 1314.1 1768.7 1313.9 1771.7 1314.0 1774.7 1314.0 1777.7 1313.6 1780.7 1313.5 1783.7 1314.1 1786.7 1314.2 1789.7 1313.1 1792.7 1312.4 1795.7 1313.3 1798.7 1313.9 1801.7 1313.8 1804.7 1314.3 1807.7 1314.3 1810.7 1314.0 1813.7 1314.1 1815.8 1314.5M1886.4 1314.9L1889.4 1314.7 1892.4 1314.8 1895.4 1314.9 1898.4 1314.5 1901.4 1314.6 1904.4 1315.0 1907.4 1314.7 1910.4 1314.7 1913.4 1314.4 1916.4 1314.0 1919.4 1315.0 1922.4 1315.1 1925.4 1314.2 1928.4 1314.7 1931.4 1315.6 1934.4 1314.8 1937.4 1313.3 1940.4 1313.4 1943.4 1315.0 1946.4 1316.2 1949.4 1315.7 1952.4 1314.9 1955.4 1315.0 1958.4 1314.7 1961.4 1314.5 1964.4 1314.0 1967.4 1313.6 1970.4 1314.7 1973.4 1315.1 1976.4 1314.2 1979.4 1313.4 1982.4 1313.6 1985.4 1314.4 1988.4 1314.8 1991.4 1315.3 1994.4 1315.0 1997.4 1317.5 2000.0 1313.0 2000.4 1314.1 2003.4 1314.8 2006.4 1314.3 2009.4 1313.8 2012.4 1314.4 2015.4 1315.2 2018.4 1315.6 2021.4 1314.8 2024.4 1313.8 2027.4 1313.6 2030.4 1313.5 2033.4 1314.2 2036.4 1314.4 2039.4 1313.8 2042.4 1313.9 2045.3 1314.3 2048.3 1314.0 2051.3 1313.1 2054.3 1312.2 2057.3 1311.3 2060.2 1310.6 2063.2 1310.9 2066.2 1312.3 2068.0 1312.8 2069.1 1311.7 2071.6 1310.3 2073.8 1310.0 2075.9 1309.5 2077.9 1308.3 2080.2 1307.3 2082.8 1306.0 2084.0 1304.9 2085.7 1304.9 2088.7 1308.9 2091.7 1307.6 2094.7 1307.1 2097.7 1306.1 2100.7 1306.2 2102.0 1306.1 2103.7 1305.9 2106.4 1306.5 2108.8 1307.8 2111.0 1309.5 2113.2 1311.1 2115.4 1311.8 2117.9 1311.9 2120.0 1312.0 2120.7 1311.5 2123.6 1311.5 2126.6 1312.6 2129.5 1313.4 2132.5 1313.7 2135.4 1314.3 2138.4 1314.7 2141.4 1314.6 2144.4 1313.8 2147.4 1313.8 2150.4 1314.9 2153.3 1314.9 2156.3 1315.0 2159.3 1315.0 2160.0 1315.0 2162.3 1315.8 2165.3 1315.6 2168.3 1314.6 2171.3 1314.0 2174.3 1313.4 2177.3 1313.6 2180.3 1314.4 2183.3 1314.4 2186.3 1314.3 2189.3 1314.7 2192.3 1314.8 2195.3 1315.3 2198.3 1314.3 2201.3 1314.4 2204.3 1314.9 2207.3 1314.8 2210.3 1315.1 2213.3 1315.3 2216.3 1314.4 2219.3 1313.2 2222.3 1313.0 2225.3 1313.2 2228.3 1313.8 2231.3 1314.6 2234.3 1314.1 2237.3 1313.5 2240.3 1314.0 2243.3 1314.0 2246.3 1313.9 2249.3 1314.9 2252.3 1315.3 2255.3 1315.0 2258.3 1314.7 2261.3 1313.9 2264.3 1313.9 2267.3 1314.6 2270.3 1315.3 2273.3 1315.6 2276.3 1314.7 2279.3 1314.3 2282.3 1314.8 2285.3 1315.2 2288.3 1315.2 2291.3 1314.9 2294.3 1314.7 2297.3 1314.8 2300.3 1314.9 2303.3 1314.5 2306.3 1314.7 2309.3 1315.3 2312.3 1314.8 2315.3 1314.9 2318.3 1315.2 2321.3 1315.2 2324.3 1315.3 2327.3 1315.2 2330.3 1314.9 2333.3 1313.8 2336.3 1313.6 2339.3 1315.0 2342.3 1316.5 2345.3 1316.2 2348.3 1314.9 2351.3 1314.5 2354.3 1313.9 2357.3 1313.6 2360.3 1314.6 2363.3 1315.4 2366.3 1315.9 2369.3 1315.5 2372.3 1314.5 2375.3 1314.3 2378.3 1314.8 2381.3 1315.1 2384.3 1315.8 2387.3 1316.8 2390.3 1315.7 2393.3 1314.3 2396.3 1315.1 2399.3 1315.9 2400.0 1315.6 2402.3 1315.5 2405.3 1314.2 2408.3 1313.9 2411.3 1313.8 2414.3 1314.3 2417.3 1314.8 2420.3 1315.2 2423.3 1316.0 2426.3 1315.6 2429.3 1314.8 2432.3 1315.3 2435.3 1315.4 2438.3 1314.4 2441.3 1315.4 2444.3 1317.2 2447.3 1316.2 2450.3 1314.7 2453.3 1314.7 2456.3 1315.8 2459.3 1316.5 2462.3 1315.3 2465.3 1314.4 2468.3 1314.1 2471.3 1312.8 2474.3 1312.2 2477.3 1313.8 2480.3 1315.0 2483.3 1314.9 2486.3 1315.3 2489.3 1315.8 2492.3 1315.0 2495.3 1314.5 2498.3 1314.4 2501.3 1316.2 2504.3 1315.7 2507.3 1315.1 2510.3 1314.6 2513.3 1314.6 2516.3 1315.2 2519.3 1315.4 2522.3 1315.0 2525.3 1315.0 2528.3 1314.9 2531.3 1314.9 2534.3 1315.1 2537.3 1315.9 2540.3 1316.4 2543.3 1315.3 2546.3 1314.3 2549.3 1314.5 2552.3 1314.8 2555.3 1314.9 2558.3 1315.2 2561.3 1315.5 2564.3 1315.2 2567.3 1314.2 2570.3 1313.6 2573.3 1313.9 2576.3 1314.3 2579.3 1314.4 2582.3 1314.1 2585.3 1313.2 2588.3 1313.4 2591.3 1313.6 2594.3 1313.1 2597.3 1313.0 2600.0 1313.3 2600.3 1313.9 2603.3 1314.5 2606.3 1314.6 2609.3 1313.6 2612.3 1311.9 2615.3 1313.6 2618.3 1314.4 2621.3 1314.6 2624.3 1314.9 2627.3 1315.1 2630.3 1314.5 2633.3 1313.8 2636.3 1313.5 2639.3 1314.0 2642.3 1314.9 2645.3 1314.0 2648.3 1313.0 2651.3 1313.5 2654.3 1313.2 2657.3 1313.6 2660.3 1314.7 2663.3 1314.7 2666.3 1314.8 2669.3 1315.0 2672.3 1314.1 2675.3 1313.4 2678.3 1313.6 2681.3 1312.9 2684.3 1312.0 2687.3 1315.6 2690.3 1314.2 2693.3 1314.2 2696.3 1314.5 2699.3 1315.1 2702.3 1314.9 2705.3 1314.6 2708.3 1314.8 2711.3 1314.8 2714.3 1314.4 2717.3 1314.9 2720.3 1315.1 2723.3 1314.3 2726.3 1313.7 2729.3 1313.1 2732.3 1313.5 2735.3 1313.8 2738.3 1312.5 2741.3 1311.9 2744.3 1312.7 2747.3 1313.2 2750.3 1313.4 2753.3 1313.7 2756.3 1314.3 2759.3 1314.6 2762.3 1313.4 2765.3 1312.4 2768.3 1313.1 2771.3 1313.5 2774.3 1313.7 2777.3 1314.1 2780.3 1313.4 2783.3 1312.8 2786.3 1312.4 2789.3 1312.1 2792.3 1312.8 2795.3 1313.5 2798.3 1313.9 2800.0 1313.7 2801.3 1313.0 2804.3 1312.3 2807.3 1311.7 2810.3 1312.0 2813.3 1312.8 2816.3 1313.1 2819.3 1313.0 2822.3 1312.9 2825.3 1312.6 2828.3 1312.0 2831.3 1311.9 2834.3 1311.4 2837.3 1310.4 2840.3 1310.5 2843.2 1312.1 2846.2 1313.1 2849.2 1312.5 2852.2 1311.6 2855.2 1312.3 2858.2 1312.3 2861.2 1311.1 2864.2 1311.4 2867.2 1311.9 2870.2 1311.5 2873.1 1310.9 2876.1 1310.0 2879.1 1309.8 2879.6 1310.4 2882.1 1310.0 2885.0 1309.6 2888.0 1309.0 2890.9 1308.7 2893.7 1308.9 2896.6 1308.2 2899.4 1307.1 2902.2 1306.6 2905.0 1306.0 2907.8 1305.5 2910.6 1305.3 2913.3 1304.9 2916.0 1304.1 2918.8 1302.8 2919.2 1302.1 2921.5 1301.9 2924.2 1301.5 2926.8 1300.6 2929.4 1299.1 2931.9 1300.1 2934.4 1299.2 2936.8 1298.3 2939.2 1297.2 2941.5 1295.5 2943.2 1294.7 2943.7 1295.0 2945.8 1294.2 2947.7 1293.1 2949.5 1291.7 2951.2 1290.3 2952.8 1288.6 2954.4 1287.3 2955.8 1286.8 2956.4 1286.4 2957.2 1285.6 2958.4 1283.8 2959.6 1281.9 2960.6 1281.1 2961.6 1280.3 2962.6 1279.2 2963.5 1277.6 2964.4 1275.8 2965.3 1274.0 2966.1 1272.3 2966.9 1270.8 2967.7 1269.8 2968.5 1268.5 2969.3 1266.8 2969.6 1266.0 2970.0 1265.3 2970.7 1263.9 2971.4 1262.5 2972.0 1260.8 2972.7 1259.1 2973.3 1257.6 2973.8 1256.0 2974.4 1254.6 2975.0 1253.0 2975.5 1251.6 2976.1 1250.8 2976.6 1249.5 2977.2 1247.6 2977.7 1246.0 2978.3 1244.6 2978.8 1243.2 2979.4 1241.5 2980.0 1239.8 2980.2 1239.1 2980.5 1238.2 2981.1 1236.9 2981.8 1235.5 2982.4 1234.0 2983.0 1232.9 2983.7 1231.8 2984.3 1230.4 2985.0 1228.5 2985.6 1226.9 2986.2 1225.6 2986.8 1223.8 2987.4 1222.3 2988.0 1220.9 2988.5 1219.6 2989.1 1218.5 2989.6 1217.1 2990.1 1215.5 2990.6 1213.9 2990.8 1213.3 2991.1 1212.3 2991.5 1210.8 2991.9 1209.4 2992.3 1208.0 2992.7 1206.5 2993.1 1204.7 2993.5 1203.0 2993.9 1201.4 2994.2 1199.8 2994.6 1198.5 2995.0 1197.3 2995.3 1195.7 2995.6 1194.2 2996.0 1193.0 2996.3 1191.4 2996.6 1189.7 2997.0 1188.4 2997.3 1187.1 2997.6 1185.8 2997.9 1184.3 2998.3 1182.6 2998.6 1181.2 2998.8 1180.0 2998.9 1179.5 2999.2 1178.1 2999.5 1176.6 2999.8 1175.0 3000.1 1173.6 3000.4 1172.2 3000.7 1170.6 3001.0 1168.9 3001.3 1167.4 3001.6 1166.1 3001.9 1164.7 3002.1 1163.3 3002.4 1161.5 3002.7 1160.0 3002.9 1158.5 3003.2 1157.1 3003.5 1155.9 3003.8 1154.4 3004.0 1152.6 3004.3 1151.2 3004.5 1149.6 3004.8 1147.8 3005.1 1146.4 3005.3 1145.2 3005.6 1143.7 3005.9 1142.2 3006.1 1140.7 3006.4 1139.2 3006.7 1137.7 3007.0 1136.0 3007.2 1134.6 3007.5 1133.2 3007.8 1131.6 3008.1 1130.4 3008.3 1129.1 3008.6 1127.6 3008.8 1126.6 3008.9 1125.6 3009.2 1123.9 3009.5 1122.5 3009.8 1121.3 3010.1 1120.0 3010.3 1118.4 3010.6 1116.8 3010.9 1115.5 3011.2 1114.1 3011.5 1112.4 3011.7 1110.8 3012.0 1109.4 3012.3 1108.0 3012.6 1106.5 3012.9 1105.1 3013.2 1103.5 3013.5 1101.8 3013.7 1100.6 3014.0 1099.2 3014.3 1097.6 3014.6 1096.1 3014.9 1094.6 3015.2 1093.0 3015.5 1091.5 3015.8 1090.1 3016.1 1088.6 3016.4 1087.0 3016.7 1085.5 3017.0 1083.8 3017.4 1082.1 3017.7 1080.7 3018.0 1079.3 3018.3 1077.9 3018.7 1076.4 3019.0 1075.1 3019.0 1074.9 3019.4 1073.4 3019.7 1072.3 3020.1 1070.9 3020.5 1069.3 3020.8 1067.9 3021.2 1066.3 3021.6 1064.5 3022.0 1062.9 3022.4 1061.4 3022.8 1060.0 3023.2 1058.5 3023.6 1057.0 3024.0 1055.6 3024.4 1054.2 3024.8 1052.6 3025.2 1051.2 3025.6 1049.4 3026.1 1047.8 3026.5 1046.5 3026.9 1045.1 3027.3 1043.5 3027.8 1042.0 3028.2 1040.4 3028.6 1038.8 3029.1 1037.4 3029.4 1036.3 3029.5 1036.1 3029.9 1035.1 3030.3 1034.0 3030.7 1031.9 3031.0 1030.1 3031.4 1028.8 3031.8 1027.1 3032.1 1025.6 3032.5 1024.3 3032.8 1022.9 3033.2 1021.5 3033.5 1020.0 3033.9 1018.6 3034.3 1017.3 3034.7 1015.8 3035.2 1013.9 3035.6 1012.3 3036.2 1010.8 3036.9 1009.6 3038.2 1009.3 3038.6 1009.4 3039.5 1010.5 3040.1 1011.8 3040.5 1012.9 3040.9 1014.1 3041.3 1015.8 3041.7 1017.7 3042.0 1019.2 3042.4 1020.6 3042.7 1022.1 3043.0 1023.5 3043.3 1024.9 3043.7 1026.6 3044.0 1028.4 3044.4 1029.7 3044.6 1030.2 3044.8 1030.7 3045.2 1032.4 3045.5 1034.2 3045.9 1035.7 3046.3 1036.9 3046.7 1038.2 3047.0 1039.7 3047.4 1041.3 3047.7 1042.9 3048.1 1044.4 3048.4 1046.0 3048.7 1047.4 3049.1 1048.6 3049.4 1050.0 3049.8 1051.4 3050.1 1053.0 3050.4 1055.0 3050.7 1056.5 3051.1 1057.7 3051.4 1059.3 3051.7 1061.0 3052.0 1062.3 3052.4 1063.8 3052.7 1065.3 3053.0 1066.7 3053.3 1068.2 3053.7 1069.7 3054.0 1071.1 3054.3 1072.5 3054.6 1074.1 3054.8 1075.0 3054.9 1075.6 3055.3 1077.1 3055.6 1078.3 3055.9 1079.4 3056.3 1081.1 3056.6 1083.1 3056.9 1084.7 3057.3 1086.0 3057.6 1087.3 3058.0 1089.0 3058.3 1090.8 3058.7 1092.1 3059.0 1093.4 3059.3 1095.5 3059.7 1096.6 3060.0 1098.0 3060.3 1099.6 3060.6 1101.2 3060.9 1102.5 3061.3 1103.9 3061.6 1105.4 3061.9 1107.1 3062.2 1108.7 3062.4 1109.9 3062.7 1111.3 3063.0 1112.9 3063.3 1114.4 3063.5 1115.7 3063.8 1117.0 3064.0 1118.9 3064.3 1120.3 3064.5 1121.6 3064.8 1123.1 3065.0 1124.6 3065.2 1126.0 3065.2 1126.3 3065.4 1128.0 3065.6 1129.9 3065.8 1131.0 3066.0 1132.4 3066.2 1134.1 3066.3 1135.4 3066.5 1137.0 3066.6 1138.5 3066.8 1140.1 3066.9 1141.7 3067.0 1143.1 3067.2 1144.6 3067.3 1146.3 3067.4 1147.6 3067.6 1148.8 3067.7 1150.3 3067.8 1151.8 3068.0 1153.5 3068.1 1155.2 3068.3 1156.7 3068.4 1158.0 3068.5 1159.5 3068.7 1161.0 3068.8 1162.4 3068.9 1163.9 3069.1 1165.6 3069.2 1166.9 3069.4 1168.3 3069.6 1170.3 3069.7 1171.5 3069.9 1173.1 3070.1 1174.5 3070.3 1175.8 3070.5 1177.5 3070.8 1179.0 3071.0 1180.2 3071.1 1180.5 3071.4 1181.9 3071.8 1183.4 3072.2 1185.1 3072.7 1186.7 3073.1 1188.2 3073.6 1189.6 3074.2 1191.0 3074.7 1192.1 3075.4 1193.0 3076.0 1194.5 3076.7 1196.7 3077.4 1198.4 3078.1 1199.3 3078.8 1200.7 3079.4 1202.1 3080.0 1203.5 3080.6 1205.2 3081.0 1206.5 3081.1 1206.6 3081.6 1208.1 3082.1 1209.8 3082.6 1211.3 3083.1 1212.5 3083.5 1214.8 3084.0 1215.5 3084.4 1216.7 3084.9 1218.7 3085.3 1220.5 3085.7 1221.7 3086.2 1223.3 3086.6 1224.8 3087.1 1226.5 3087.5 1227.5 3088.0 1228.6 3088.4 1230.3 3088.9 1232.3 3089.4 1233.5 3089.9 1235.0 3090.4 1236.8 3091.0 1238.2 3091.5 1239.3 3091.6 1239.0 3092.1 1240.3 3092.8 1241.7 3093.4 1243.2 3094.0 1245.3 3094.7 1247.0 3095.3 1248.1 3096.0 1249.4 3096.7 1251.3 3097.4 1252.8 3098.1 1254.1 3098.8 1255.9 3099.6 1257.9 3100.3 1258.4 3101.1 1259.6 3101.9 1261.7 3102.8 1263.4 3103.6 1264.8 3104.5 1266.0 3104.8 1266.5 3105.4 1267.3 3106.3 1268.6 3107.2 1270.0 3108.2 1271.6 3109.1 1273.2 3110.1 1274.3 3111.1 1275.7 3112.1 1277.1 3113.2 1278.2 3114.4 1279.5 3115.6 1280.7 3117.0 1281.6 3118.0 1283.1 3118.5 1284.4 3120.1 1285.3 3121.9 1285.4 3123.7 1286.4 3125.6 1288.6 3127.6 1290.4 3129.7 1291.0 3131.9 1291.6 3134.1 1292.8 3136.3 1293.7 3136.6 1293.7 3138.5 1294.9 3140.7 1296.5 3143.0 1297.3 3145.2 1297.9 3147.5 1299.6 3149.9 1301.2 3152.4 1301.7 3155.0 1301.2 3157.8 1301.0 3157.8 1302.5 3160.6 1304.3 3163.5 1304.2 3166.4 1304.1 3169.3 1308.3 3172.3 1305.7 3175.2 1304.4 3178.2 1304.2 3181.1 1305.2 3184.1 1304.6 3187.1 1303.8 3190.0 1304.8 3193.0 1305.5 3195.9 1305.4 3197.6 1305.9 3198.9 1305.7 3201.9 1305.4 3204.8 1307.0 3207.8 1308.9 3210.7 1308.5 3213.7 1306.7 3216.6 1306.3 3219.6 1307.5 3222.6 1307.8 3225.5 1307.2 3228.5 1308.0 3231.5 1309.4 3234.4 1309.8 3237.4 1309.8 3240.4 1309.9 3243.3 1310.0 3246.3 1309.5 3249.3 1309.0 3250.6 1308.5 3252.3 1308.3 3255.3 1308.8 3258.3 1309.1 3261.2 1309.7 3264.2 1310.6 3267.2 1311.0 3270.2 1311.1 3273.2 1310.9 3276.2 1311.4 3279.2 1312.0 3282.2 1311.7 3285.1 1310.7 3288.1 1309.7 3291.1 1310.6 3294.1 1312.0 3297.1 1311.5 3300.1 1311.4 3303.1 1312.1 3306.1 1312.1 3309.1 1312.6 3312.1 1312.4 3315.1 1311.3 3318.1 1311.3 3320.0 1312.1 3321.1 1311.3 3324.1 1311.3 3327.1 1312.2 3330.1 1312.1 3333.1 1312.5 3336.1 1312.6 3339.1 1312.0 3342.1 1311.6 3345.1 1311.9 3348.1 1312.3 3351.1 1312.3 3354.1 1312.8 3357.1 1313.2 3360.1 1313.2 3363.1 1313.2 3366.1 1313.3 3369.1 1313.4 3372.1 1313.5 3375.1 1313.4 3378.1 1312.8 3381.1 1311.7 3384.1 1311.3 3387.1 1312.6 3390.1 1313.2 3393.1 1312.0 3396.1 1311.3 3399.1 1312.1 3402.1 1313.2 3405.1 1313.4 3408.1 1312.5 3411.1 1312.0 3414.1 1312.7 3417.1 1313.3 3420.1 1313.4 3423.1 1313.4 3426.1 1313.2 3429.1 1313.9 3432.1 1314.0 3435.1 1312.5 3438.1 1314.8 3441.1 1314.2 3444.1 1315.5 3447.1 1314.4 3450.1 1313.6 3453.1 1313.8 3456.1 1312.8 3459.1 1311.6 3462.1 1312.3 3465.1 1313.1 3468.1 1311.9 3471.1 1311.8 3474.1 1313.2 3477.1 1313.8 3480.1 1313.6 3483.1 1312.5 3486.1 1312.1 3489.1 1312.2 3492.1 1312.1 3495.1 1312.5 3498.1 1313.2 3501.1 1313.6 3504.1 1313.2 3507.1 1313.0 3510.1 1313.7 3513.1 1314.4 3516.1 1314.3 3519.1 1313.5 3522.1 1312.8 3525.1 1312.2 3528.1 1312.1 3531.1 1312.7 3534.1 1313.7 3537.1 1314.3 3540.1 1314.1 3543.1 1314.2 3546.1 1313.7 3549.1 1312.1 3552.1 1312.0 3555.1 1312.8 3558.1 1312.8 3561.1 1312.7 3564.1 1313.7 3567.1 1314.2 3570.1 1314.0 3573.1 1313.4 3576.1 1313.0 3579.1 1313.4 3582.1 1312.5 3585.1 1311.7 3588.1 1312.8 3591.1 1313.3 3594.1 1312.3 3597.1 1311.4 3600.0 1311.8 3600.1 1311.8 3603.1 1311.8 3606.1 1313.3 3609.1 1314.1 3612.1 1313.7 3615.1 1313.8 3618.1 1313.0 3621.1 1312.6 3624.1 1313.4 3627.1 1313.4 3630.1 1312.3 3633.1 1311.6 3636.1 1312.4 3639.1 1313.5 3642.1 1314.3 3645.1 1314.7 3648.1 1313.9 3651.1 1313.5 3654.1 1313.5 3657.1 1313.4 3660.1 1313.4 3663.1 1312.9 3666.1 1312.4 3669.1 1311.6 3672.1 1311.3 3675.1 1312.0 3678.1 1312.0 3681.1 1312.1 3684.1 1313.1 3687.1 1315.3 3690.1 1314.0 3693.1 1314.5 3696.1 1314.0 3699.1 1313.1 3702.1 1312.8 3705.1 1313.6 3708.1 1313.7 3711.1 1313.0 3714.1 1313.4 3717.1 1313.5 3720.1 1313.2 3723.1 1314.0 3726.1 1314.6 3729.1 1313.4 3732.1 1312.8 3735.1 1313.1 3738.1 1312.5 3741.1 1307.9 3744.1 1313.3 3747.1 1314.6 3750.1 1314.5 3753.1 1313.0 3756.1 1312.4 3759.1 1312.8 3762.1 1312.7 3765.1 1312.7 3768.1 1313.0 3771.1 1313.0 3774.1 1313.2 3777.1 1313.2 3780.1 1313.6 3783.1 1314.7 3786.1 1314.3 3789.1 1312.7 3792.1 1312.3 3795.1 1312.6 3798.1 1312.5 3801.1 1312.9 3804.1 1314.4 3807.1 1313.9 3810.1 1313.0 3813.1 1313.2 3816.1 1313.6 3819.1 1313.5 3822.1 1313.7 3825.1 1314.4 3828.1 1314.6 3831.1 1314.4 3834.1 1314.0 3837.1 1313.9 3840.1 1314.1 3843.1 1314.2 3846.1 1313.3 3849.1 1312.0 3852.1 1311.9 3855.1 1312.6 3858.1 1313.5 3861.1 1313.7 3864.1 1313.7 3867.1 1314.5 3870.1 1314.3 3873.1 1313.4 3876.1 1314.3 3879.1 1314.9 3882.1 1313.4 3885.1 1312.7 3888.1 1313.3 3891.1 1313.3 3894.1 1312.9 3897.1 1313.5 3900.1 1314.6 3903.1 1314.1 3906.1 1312.4 3909.1 1311.4 3912.1 1311.9 3915.1 1312.7 3918.1 1312.4 3921.1 1312.6 3924.1 1313.3 3927.1 1313.1 3930.1 1312.9 3933.1 1313.7 3936.1 1314.3 3939.1 1314.1 3942.1 1313.8 3945.1 1314.0 3948.1 1313.9 3951.1 1312.5 3954.1 1311.9 3957.1 1313.2 3960.1 1314.9 3963.1 1314.5 3966.1 1312.8 3969.1 1312.7 3972.1 1313.4 3975.1 1313.7 3978.1 1313.7 3981.1 1312.6 3984.1 1312.1 3987.1 1313.5 3990.1 1313.7 3993.1 1311.9 3996.1 1311.3 3999.1 1311.6 4000.0 1311.9 4002.1 1312.5 4005.1 1312.8 4008.1 1313.2 4011.1 1313.3 4014.1 1313.4 4017.1 1313.6 4020.1 1312.9 4023.1 1312.7 4026.1 1313.0 4029.1 1313.0 4032.1 1313.4 4035.1 1313.1 4038.1 1312.7 4041.1 1313.4 4044.1 1313.7 4047.1 1313.1 4050.1 1312.0 4053.1 1312.2 4056.1 1313.2 4059.1 1313.4 4062.1 1313.6 4065.1 1313.9 4068.1 1313.7 4071.1 1314.0 4074.1 1314.2 4077.1 1313.5 4080.1 1313.2 4083.1 1313.6 4086.1 1313.7 4089.1 1313.2 4092.1 1312.7 4095.1 1312.6 4098.1 1314.0 4101.1 1313.2 4104.1 1312.7 4107.1 1313.0 4110.1 1312.6 4113.1 1314.6 4116.1 1313.2 4119.1 1313.4 4122.1 1312.7 4125.1 1313.0 4128.1 1313.5 4131.1 1313.3 4134.1 1313.4 4137.1 1313.5 4140.1 1313.1 4143.1 1313.3 4146.1 1313.7 4149.1 1312.8 4152.1 1312.2 4155.1 1313.1 4158.0 1315.8 4158.0 1312.6 4161.0 1312.0 4163.6 1311.6 4166.1 1310.6 4168.4 1309.2 4170.8 1308.7 4173.0 1308.6" fill="none" stroke="#ff00ff" stroke-width="5.8" stroke-linejoin="round" stroke-linecap="round"/>
<path transform="scale(0.50 1)" d="M304.0 1370.0L307.0 1370.5 310.0 1371.2 313.0 1371.0 316.0 1371.0 319.0 1370.7 322.0 1370.5 325.0 1371.3 328.0 1370.4 331.0 1368.4 334.0 1368.9 337.0 1370.9 340.0 1372.0 343.0 1370.8 346.0 1369.9 349.0 1371.1 352.0 1371.2 355.0 1371.0 358.0 1371.1 361.0 1370.6 364.0 1370.7 367.0 1371.3 370.0 1371.5 373.0 1371.2 376.0 1371.2 379.0 1371.1 382.0 1369.7 385.0 1369.3 388.0 1370.3 391.0 1370.6 394.0 1370.6 397.0 1370.6 400.0 1370.1 403.0 1369.9 406.0 1370.8 409.0 1371.3 412.0 1371.1 415.0 1372.1 418.0 1372.0 421.0 1370.8 424.0 1370.5 427.0 1370.1 430.0 1369.7 433.0 1369.6 436.0 1369.2 439.0 1369.1 442.0 1369.5 445.0 1369.5 448.0 1369.9 451.0 1368.9 454.0 1370.6 457.0 1371.7 460.0 1370.9 463.0 1370.0 466.0 1369.6 469.0 1369.6 472.0 1369.3 475.0 1369.1 478.0 1369.3 481.0 1370.0 484.0 1370.5 487.0 1370.5 490.0 1371.1 493.0 1371.8 496.0 1371.5 499.0 1370.0 502.0 1369.2 505.0 1369.9 508.0 1370.9 511.0 1371.3 514.0 1371.9 517.0 1372.4 520.0 1371.5 523.0 1370.6 526.0 1369.8 529.0 1369.5 532.0 1370.1 535.0 1370.8 538.0 1370.0 541.0 1369.0 544.0 1370.7 547.0 1372.4 550.0 1372.2 553.0 1371.5 556.0 1370.9 559.0 1371.3 562.0 1371.3 565.0 1370.5 568.0 1370.8 571.0 1371.0 574.0 1371.2 577.0 1371.5 580.0 1370.3 583.0 1369.6 586.0 1369.9 589.0 1370.5 592.0 1370.6 595.0 1367.9 598.0 1369.2 600.0 1370.5 601.0 1370.7 604.0 1370.4 607.0 1370.3 610.0 1370.0 613.0 1370.2 616.0 1370.1 619.0 1370.5 622.0 1371.5 625.0 1370.8 628.0 1370.1 631.0 1371.1 634.0 1371.9 637.0 1370.9 640.0 1370.0 643.0 1369.9 646.0 1369.5 649.0 1369.4 652.0 1370.0 655.0 1370.5 658.0 1370.5 661.0 1371.0 664.0 1371.9 667.0 1371.3 670.0 1369.8 673.0 1369.4 676.0 1369.8 679.0 1370.5 682.0 1370.7 685.0 1370.2 688.0 1369.6 691.0 1368.9 694.0 1369.2 697.0 1370.3 700.0 1370.5 703.0 1370.3 706.0 1370.7 709.0 1371.5 712.0 1371.7 715.0 1370.9 718.0 1370.0 721.0 1369.1 724.0 1369.0 727.0 1369.2 730.0 1369.8 733.0 1370.6 736.0 1370.5 739.0 1370.1 742.0 1369.2 745.0 1369.7 748.0 1369.4 751.0 1369.1 754.0 1369.1 757.0 1369.2 760.0 1368.8 763.0 1368.4 766.0 1369.0 769.0 1369.7 772.0 1369.4 775.0 1368.6 778.0 1368.7 781.0 1369.4 784.0 1369.3 787.0 1369.2 790.0 1368.1 793.0 1367.7 796.0 1367.6 799.0 1368.0 800.0 1368.1 801.9 1368.4 804.4 1368.4 806.5 1366.5 808.6 1365.7 810.0 1365.8 810.6 1365.3 812.5 1363.1 814.2 1361.6 815.8 1360.9 817.3 1359.7 818.8 1358.2 820.3 1357.3 821.8 1356.1 823.2 1354.8 824.8 1353.5 826.4 1352.3 827.6 1351.8 828.0 1351.3 829.7 1349.9 831.4 1348.7 833.1 1346.9 834.8 1345.8 836.7 1345.0 838.8 1344.0 840.0 1343.1 841.2 1342.0 843.6 1341.6 846.2 1341.5 848.8 1339.9 851.6 1339.1 854.5 1339.3 855.0 1339.3 857.4 1339.7 859.8 1341.0 861.8 1341.6 863.7 1342.4 865.5 1343.8 867.3 1345.1 868.8 1346.2 869.1 1346.5 870.9 1347.8 872.5 1349.3 874.1 1350.9 875.6 1352.0 877.2 1352.7 878.8 1354.0 880.0 1355.3 880.5 1355.1 882.2 1355.5 883.9 1357.0 885.6 1359.1 887.4 1360.7 889.4 1361.7 891.7 1363.0 891.8 1363.1 894.2 1363.2 896.8 1363.9 899.4 1365.6 902.0 1366.2 904.7 1366.0 907.4 1366.8 910.1 1368.1 912.9 1368.0 915.8 1368.2 918.7 1368.9 921.6 1368.5 924.6 1368.9 927.6 1369.0 928.4 1369.2 930.6 1369.1 933.6 1369.1 936.6 1368.6 939.6 1368.9 942.6 1369.2 945.6 1369.0 948.5 1369.4 951.5 1369.0 954.5 1368.3 957.5 1368.3 960.5 1368.4 963.5 1368.1 965.2 1368.5 966.5 1370.0 969.4 1368.6 972.4 1367.5 975.4 1367.6 978.3 1367.3 981.3 1366.9 984.2 1367.8 987.2 1366.3 990.1 1365.9 993.1 1365.5 996.0 1366.1 999.0 1365.2 1002.0 1365.1 1004.9 1365.8 1007.9 1365.9 1010.9 1365.5 1011.0 1365.2 1013.9 1365.1 1016.9 1364.8 1019.9 1364.8 1022.9 1365.7 1025.9 1363.7 1028.9 1362.5 1031.9 1362.9 1034.9 1364.7 1037.9 1365.6 1040.9 1365.4 1043.9 1364.9 1046.9 1364.8 1049.9 1364.9 1052.9 1364.7 1055.9 1365.1 1058.9 1365.3 1061.9 1364.2 1064.9 1363.8 1067.9 1363.8 1070.9 1363.0 1073.9 1363.7 1076.9 1365.3 1079.9 1365.4 1080.0 1365.3 1082.8 1364.9 1085.4 1364.0 1087.9 1363.6 1090.0 1362.4 1090.3 1361.9 1092.6 1361.5 1094.6 1360.4 1096.7 1359.0 1099.2 1357.5 1100.4 1355.9 1102.0 1356.7 1103.7 1359.2 1105.2 1361.0 1106.5 1362.0 1107.9 1363.0 1109.4 1363.6 1110.0 1363.9 1111.5 1365.6 1113.5 1367.4 1115.7 1368.8 1118.1 1369.5 1120.9 1369.2 1121.2 1369.2 1123.9 1369.5 1126.9 1368.8 1129.9 1367.8 1132.9 1369.0 1135.9 1369.2 1138.8 1369.4 1141.8 1368.9 1144.8 1367.4 1147.7 1366.7 1150.7 1367.9 1153.7 1368.6 1156.6 1368.0 1159.6 1367.5 1162.5 1367.5 1165.4 1367.2 1168.4 1366.2 1171.3 1365.3 1171.6 1365.1 1174.3 1364.9 1177.3 1364.5 1180.2 1363.7 1183.2 1363.2 1186.1 1364.1 1189.0 1363.8 1191.9 1362.6 1194.8 1363.2 1197.6 1363.0 1200.0 1362.1 1200.5 1362.2 1203.1 1361.6 1205.6 1361.1 1208.0 1360.6 1210.2 1359.4 1212.4 1358.0 1214.5 1356.7 1216.0 1355.6 1216.6 1355.2 1218.6 1354.1 1220.5 1353.3 1222.3 1352.5 1224.1 1351.4 1225.8 1350.4 1227.4 1349.5 1229.0 1347.8 1230.6 1346.3 1232.0 1345.0 1232.1 1344.5 1233.7 1343.1 1235.2 1341.1 1236.7 1339.9 1238.2 1339.6 1239.7 1337.4 1241.1 1335.5 1242.4 1334.5 1243.7 1333.6 1244.9 1332.3 1246.1 1331.5 1247.1 1330.8 1248.2 1329.4 1249.2 1327.5 1250.1 1325.7 1251.0 1324.7 1251.2 1325.1 1251.8 1323.8 1252.6 1321.8 1253.2 1320.3 1253.8 1318.6 1254.4 1316.8 1255.0 1315.5 1255.5 1313.8 1256.0 1312.1 1256.5 1311.0 1256.9 1309.6 1257.4 1308.1 1257.9 1306.5 1258.3 1305.1 1258.7 1304.0 1259.1 1302.5 1259.6 1300.7 1260.0 1299.0 1260.4 1297.7 1260.8 1296.3 1261.2 1294.7 1261.6 1293.1 1262.0 1291.8 1262.4 1290.3 1262.7 1288.6 1263.1 1287.1 1263.5 1285.8 1263.9 1284.6 1264.0 1284.2 1264.3 1283.2 1264.7 1282.0 1265.0 1280.3 1265.4 1278.5 1265.7 1277.1 1266.0 1275.6 1266.4 1274.1 1266.7 1272.5 1267.0 1271.2 1267.3 1269.5 1267.6 1267.8 1267.9 1266.3 1268.2 1265.0 1268.5 1263.8 1268.8 1262.1 1269.1 1260.3 1269.3 1258.9 1269.6 1257.6 1269.9 1256.1 1270.2 1254.5 1270.5 1253.2 1270.8 1251.9 1271.0 1250.3 1271.3 1248.5 1271.6 1247.0 1271.9 1245.6 1272.1 1244.2 1272.4 1242.9 1272.7 1241.5 1273.0 1239.8 1273.2 1238.1 1273.5 1236.5 1273.8 1235.5 1274.1 1233.5 1274.4 1232.0 1274.7 1230.5 1275.0 1229.1 1275.2 1227.6 1275.5 1226.2 1275.8 1224.9 1276.1 1223.4 1276.5 1221.8 1276.8 1220.6 1276.8 1220.4 1277.1 1219.1 1277.4 1217.5 1277.7 1215.6 1278.0 1214.2 1278.4 1213.0 1278.7 1211.6 1279.0 1210.1 1279.3 1208.4 1279.6 1206.5 1280.0 1205.0 1280.3 1203.6 1280.6 1201.9 1280.9 1200.5 1281.3 1199.2 1281.6 1198.0 1281.9 1196.5 1282.3 1194.8 1282.6 1193.1 1282.9 1191.6 1283.3 1190.4 1283.6 1189.0 1284.0 1187.5 1284.3 1185.9 1284.6 1184.3 1285.0 1182.6 1285.3 1181.4 1285.7 1180.0 1286.0 1178.3 1286.4 1177.0 1286.4 1177.2 1286.7 1176.0 1287.1 1174.2 1287.4 1172.3 1287.8 1170.6 1288.2 1169.0 1288.6 1167.4 1289.0 1166.1 1289.4 1165.0 1289.8 1163.7 1290.2 1162.0 1290.6 1160.1 1291.0 1158.3 1291.4 1157.2 1291.8 1156.4 1292.2 1154.9 1292.6 1153.0 1293.0 1151.6 1293.4 1150.1 1293.8 1148.5 1294.1 1147.1 1294.5 1145.9 1294.9 1144.5 1295.2 1143.0 1295.6 1141.4 1295.9 1139.8 1296.3 1138.3 1296.6 1136.9 1296.9 1135.5 1297.2 1134.0 1297.5 1132.4 1297.6 1131.8 1297.8 1130.7 1298.1 1129.2 1298.4 1127.5 1298.6 1126.2 1298.9 1125.0 1299.1 1123.7 1299.4 1122.0 1299.6 1120.3 1299.8 1118.6 1300.1 1117.2 1300.3 1115.9 1300.5 1114.3 1300.7 1112.7 1300.9 1111.3 1301.2 1109.9 1301.4 1108.5 1301.6 1107.0 1301.8 1105.5 1302.0 1104.0 1302.2 1102.1 1302.4 1100.8 1302.6 1099.4 1302.8 1097.9 1303.0 1096.5 1303.2 1094.9 1303.4 1093.3 1303.6 1091.8 1303.8 1090.6 1304.0 1089.2 1304.2 1087.6 1304.4 1086.1 1304.7 1084.4 1304.9 1082.9 1305.1 1081.4 1305.3 1079.9 1305.5 1078.3 1305.7 1076.6 1305.9 1075.4 1306.1 1074.0 1306.3 1072.5 1306.6 1071.0 1306.8 1069.6 1307.0 1068.2 1307.2 1066.5 1307.5 1065.1 1307.7 1063.7 1308.0 1062.1 1308.2 1060.4 1308.4 1059.3 1308.5 1059.1 1308.7 1057.6 1309.0 1055.9 1309.2 1054.4 1309.4 1053.1 1309.7 1051.8 1309.9 1050.3 1310.1 1048.4 1310.3 1046.6 1310.5 1045.1 1310.8 1044.0 1311.0 1042.8 1311.2 1041.2 1311.4 1039.6 1311.6 1038.1 1311.9 1036.5 1312.1 1035.2 1312.3 1033.9 1312.5 1032.3 1312.8 1030.8 1313.0 1029.1 1313.2 1026.9 1313.5 1026.1 1313.8 1024.9 1314.0 1023.5 1314.3 1021.7 1314.6 1020.2 1314.9 1018.7 1315.3 1017.1 1315.7 1015.8 1316.2 1014.5 1316.9 1013.0 1317.6 1011.6 1318.0 1012.4 1318.3 1014.2 1318.6 1015.7 1318.8 1017.4 1318.9 1019.1 1319.1 1020.7 1319.2 1022.1 1319.3 1023.4 1319.5 1025.1 1319.6 1026.6 1319.7 1028.1 1319.8 1029.6 1319.9 1031.2 1320.1 1032.8 1320.2 1034.2 1320.3 1035.4 1320.4 1037.1 1320.5 1038.6 1320.6 1040.2 1320.7 1041.6 1320.8 1043.0 1320.9 1044.4 1321.0 1046.2 1321.1 1047.6 1321.2 1049.1 1321.3 1050.5 1321.4 1051.8 1321.5 1053.5 1321.6 1054.9 1321.7 1056.5 1321.8 1058.0 1322.0 1059.5 1322.0 1059.9 1322.1 1061.0 1322.2 1062.6 1322.3 1064.1 1322.4 1065.6 1322.5 1067.2 1322.6 1068.5 1322.7 1069.9 1322.9 1071.6 1323.0 1073.2 1323.1 1074.7 1323.2 1076.2 1323.3 1077.6 1323.4 1079.1 1323.5 1080.6 1323.6 1082.2 1323.7 1083.6 1323.8 1085.1 1323.8 1086.3 1323.9 1087.9 1324.0 1089.5 1324.1 1091.0 1324.2 1092.6 1324.3 1093.9 1324.4 1095.6 1324.5 1097.1 1324.6 1098.7 1324.7 1100.1 1324.8 1101.7 1324.9 1103.1 1325.0 1104.6 1325.1 1105.9 1325.2 1107.5 1325.3 1108.9 1325.4 1110.6 1325.5 1112.1 1325.6 1113.6 1325.7 1114.8 1325.8 1116.3 1325.9 1117.9 1326.0 1119.5 1326.0 1120.0 1326.1 1120.9 1326.2 1122.4 1326.3 1124.0 1326.4 1125.6 1326.5 1127.1 1326.6 1128.7 1326.6 1129.9 1326.7 1131.4 1326.8 1133.1 1326.9 1134.5 1327.0 1136.0 1327.1 1137.6 1327.2 1139.0 1327.3 1140.5 1327.4 1142.0 1327.5 1143.6 1327.6 1144.9 1327.7 1146.5 1327.8 1147.9 1327.9 1149.4 1328.0 1150.9 1328.1 1152.5 1328.2 1154.3 1328.3 1155.6 1328.4 1157.1 1328.5 1158.4 1328.6 1159.9 1328.8 1161.5 1328.9 1162.7 1329.0 1163.7 1329.0 1164.3 1329.2 1165.8 1329.3 1167.4 1329.5 1169.0 1329.6 1170.5 1329.8 1172.1 1330.0 1173.5 1330.1 1175.1 1330.3 1176.3 1330.5 1177.8 1330.7 1179.2 1330.8 1180.7 1331.0 1182.4 1331.2 1184.1 1331.4 1185.6 1331.6 1187.2 1331.8 1188.7 1332.0 1189.9 1332.2 1191.3 1332.5 1192.9 1332.7 1194.5 1332.9 1195.9 1333.1 1197.5 1333.3 1198.8 1333.6 1200.1 1333.8 1201.7 1334.0 1203.2 1334.3 1204.6 1334.5 1206.3 1334.7 1208.1 1335.0 1209.5 1335.2 1210.7 1335.4 1212.3 1335.7 1213.8 1335.9 1215.3 1336.1 1216.8 1336.3 1218.0 1336.5 1219.6 1336.7 1221.2 1336.9 1222.6 1337.1 1224.2 1337.3 1225.9 1337.5 1227.3 1337.6 1227.7 1337.7 1228.7 1337.9 1230.3 1338.0 1231.7 1338.2 1233.1 1338.4 1234.5 1338.5 1236.0 1338.7 1237.7 1338.9 1239.3 1339.0 1240.9 1339.2 1242.3 1339.3 1243.4 1339.5 1244.9 1339.6 1246.5 1339.8 1248.2 1339.9 1249.7 1340.1 1251.3 1340.2 1252.5 1340.4 1254.0 1340.5 1255.6 1340.7 1257.1 1340.8 1258.3 1341.0 1260.0 1341.1 1261.6 1341.3 1263.1 1341.4 1264.5 1341.6 1266.1 1341.8 1267.8 1341.9 1269.2 1342.1 1270.7 1342.3 1272.3 1342.5 1273.9 1342.7 1275.4 1342.8 1276.2 1343.0 1278.2 1343.3 1279.6 1343.5 1281.3 1343.7 1282.9 1344.0 1284.2 1344.0 1284.2 1344.3 1285.7 1344.7 1287.5 1345.0 1289.0 1345.3 1290.2 1345.6 1291.8 1346.0 1293.3 1346.4 1294.5 1346.7 1295.7 1347.1 1297.2 1347.5 1298.7 1348.0 1299.9 1348.4 1301.6 1348.9 1303.3 1349.3 1304.8 1349.8 1306.8 1350.3 1308.4 1350.9 1309.8 1351.4 1310.7 1352.0 1312.2 1352.6 1313.6 1353.3 1315.1 1353.6 1316.3 1353.9 1317.3 1354.6 1318.5 1355.3 1319.7 1356.0 1321.0 1356.7 1322.5 1357.5 1324.0 1358.3 1325.2 1359.1 1326.6 1360.0 1328.0 1361.0 1329.0 1362.2 1330.4 1363.2 1331.7 1363.7 1331.9 1365.4 1332.6 1367.2 1334.0 1369.2 1335.8 1371.3 1337.3 1373.6 1338.1 1376.0 1338.5 1378.5 1339.2 1379.2 1339.0 1381.0 1339.1 1383.6 1341.1 1386.3 1342.7 1389.0 1342.6 1391.7 1343.1 1394.5 1344.1 1397.3 1344.8 1400.1 1345.4 1402.9 1345.5 1405.7 1345.4 1408.0 1345.8 1408.5 1346.0 1411.3 1346.8 1414.2 1347.6 1417.1 1347.7 1420.0 1347.8 1422.9 1348.6 1425.7 1349.3 1428.5 1349.9 1431.3 1350.7 1432.0 1351.0 1433.9 1351.5 1436.2 1352.4 1438.3 1353.5 1440.3 1354.8 1442.3 1355.9 1444.2 1356.9 1446.1 1357.3 1448.1 1357.8 1450.2 1359.2 1452.4 1360.7 1453.4 1361.3 1454.9 1362.1 1457.4 1362.9 1459.8 1362.5 1462.4 1362.7 1464.9 1364.1 1467.5 1365.2 1470.1 1366.4 1472.8 1368.3 1475.5 1369.1 1478.3 1367.9 1481.2 1367.6 1484.1 1368.2 1485.2 1367.9 1487.1 1368.7 1490.0 1370.0 1493.0 1370.0 1496.0 1370.1 1499.0 1370.1 1502.0 1369.4 1504.9 1369.7 1507.9 1370.5 1510.9 1370.3 1513.9 1369.9 1516.9 1370.1 1519.9 1370.9 1522.9 1371.2 1525.9 1372.1 1528.9 1370.6 1531.9 1370.2 1534.9 1371.1 1537.9 1371.7 1540.9 1371.0 1543.9 1371.0 1546.9 1371.5 1549.9 1372.2 1552.9 1372.6 1555.9 1373.3 1558.9 1371.5 1560.0 1371.6 1561.9 1372.1 1564.9 1372.4 1567.9 1372.0 1570.9 1371.4 1573.8 1371.2 1576.8 1371.0 1579.8 1370.9 1582.8 1371.1 1585.8 1371.7 1588.8 1371.9 1591.8 1371.5 1594.8 1371.3 1597.8 1371.6 1600.8 1372.3 1603.8 1373.0 1606.8 1373.2 1609.8 1372.6 1612.8 1371.7 1615.8 1371.7 1618.8 1371.7 1621.8 1371.4 1624.8 1371.3 1627.8 1371.8 1630.8 1372.4 1633.8 1373.3 1636.8 1374.0 1639.8 1373.1 1642.8 1372.4 1645.8 1372.3 1648.8 1372.2 1651.8 1372.2 1654.8 1372.4 1657.8 1372.6 1660.8 1373.1 1663.8 1372.8 1666.8 1372.1 1669.8 1372.4 1672.8 1372.7 1675.8 1372.5 1678.8 1372.4 1681.8 1372.7 1684.8 1373.1 1687.8 1372.8 1690.8 1372.4 1693.8 1375.1 1696.8 1373.2 1699.8 1372.7 1702.8 1372.8 1705.8 1374.0 1708.8 1375.3 1711.8 1374.4 1714.8 1373.0 1717.8 1372.3 1720.8 1371.6 1723.8 1372.7 1726.8 1374.1 1729.8 1373.6 1732.8 1372.8 1735.8 1372.8 1738.8 1372.6 1741.8 1372.3 1744.8 1372.8 1747.8 1372.8 1750.8 1372.1 1753.8 1371.4 1756.8 1370.5 1759.8 1371.2 1762.8 1373.3 1765.8 1374.6 1768.8 1374.1 1771.8 1372.7 1774.8 1372.4 1777.8 1373.1 1780.8 1373.7 1783.8 1373.6 1786.8 1373.3 1789.8 1373.3 1792.8 1373.2 1795.8 1373.4 1798.8 1373.5 1801.8 1373.7 1804.8 1373.6 1807.8 1372.8 1810.8 1371.9 1813.8 1371.1 1815.8 1371.5M1886.4 1371.4L1889.4 1372.8 1892.4 1372.9 1895.4 1370.9 1898.4 1371.0 1901.4 1371.9 1904.4 1370.9 1907.4 1370.4 1910.4 1371.4 1913.4 1371.8 1916.4 1371.4 1919.4 1372.0 1922.4 1372.8 1925.4 1372.9 1928.4 1372.0 1931.4 1371.0 1934.4 1370.4 1937.4 1369.8 1940.4 1370.3 1943.4 1371.7 1946.4 1372.2 1949.4 1371.9 1952.4 1371.1 1955.4 1370.0 1958.4 1369.8 1961.4 1370.3 1964.4 1370.8 1967.4 1371.9 1970.4 1373.4 1973.4 1372.8 1976.4 1371.2 1979.4 1370.8 1982.4 1371.0 1985.4 1371.0 1988.4 1370.5 1991.4 1370.6 1994.4 1372.1 1997.4 1373.2 2000.0 1372.4 2000.4 1372.2 2003.4 1372.0 2006.4 1371.0 2009.4 1370.3 2012.4 1371.1 2015.4 1371.2 2018.4 1369.9 2021.4 1370.0 2024.4 1371.1 2027.4 1371.0 2030.4 1370.6 2033.4 1371.2 2036.4 1371.5 2039.4 1369.7 2042.4 1370.2 2045.3 1369.7 2048.3 1370.2 2051.3 1369.7 2054.3 1368.6 2057.3 1366.6 2060.0 1369.4 2060.3 1369.0 2063.1 1369.2 2065.8 1369.1 2068.4 1367.9 2070.9 1366.4 2073.5 1365.3 2076.2 1365.0 2079.0 1365.0 2080.0 1364.7 2082.0 1364.9 2085.0 1365.6 2088.0 1365.6 2091.0 1366.0 2094.0 1365.8 2097.0 1364.2 2100.0 1363.6 2103.0 1364.7 2106.0 1365.9 2109.0 1366.1 2112.0 1365.7 2115.0 1366.0 2118.0 1364.4 2120.0 1365.3 2121.0 1367.2 2124.0 1366.3 2127.0 1364.5 2130.0 1364.9 2133.0 1364.8 2136.0 1363.9 2139.0 1364.5 2142.0 1366.0 2145.0 1367.1 2148.0 1366.9 2151.0 1365.7 2154.0 1365.1 2157.0 1365.4 2160.0 1366.1 2162.0 1366.2 2162.9 1365.6 2165.7 1366.0 2168.2 1366.8 2170.6 1367.6 2172.9 1369.3 2175.4 1371.5 2178.1 1372.9 2180.0 1372.0 2181.0 1370.4 2184.0 1371.4 2187.0 1372.9 2190.0 1371.9 2193.0 1371.0 2196.0 1371.2 2199.0 1371.1 2202.0 1370.9 2205.0 1371.4 2208.0 1371.6 2211.0 1371.3 2214.0 1370.9 2217.0 1370.6 2220.0 1371.2 2223.0 1371.9 2226.0 1371.7 2229.0 1370.9 2232.0 1370.8 2235.0 1371.4 2238.0 1370.6 2241.0 1371.5 2244.0 1371.8 2247.0 1372.3 2250.0 1372.5 2253.0 1370.7 2256.0 1368.8 2259.0 1368.9 2262.0 1370.0 2265.0 1370.8 2268.0 1372.2 2271.0 1373.4 2274.0 1372.8 2277.0 1372.3 2280.0 1372.6 2283.0 1372.4 2286.0 1372.4 2289.0 1371.7 2292.0 1370.9 2295.0 1372.4 2298.0 1373.2 2301.0 1372.5 2304.0 1372.4 2307.0 1372.4 2310.0 1372.7 2313.0 1371.9 2316.0 1372.2 2319.0 1371.6 2322.0 1371.6 2325.0 1372.6 2328.0 1373.4 2331.0 1373.1 2334.0 1371.6 2337.0 1371.2 2340.0 1371.7 2343.0 1371.1 2346.0 1371.1 2349.0 1372.2 2352.0 1373.0 2355.0 1372.1 2358.0 1371.1 2361.0 1372.0 2364.0 1372.2 2367.0 1370.7 2370.0 1370.8 2373.0 1372.3 2376.0 1372.0 2379.0 1371.2 2382.0 1371.5 2385.0 1371.6 2388.0 1371.0 2391.0 1371.7 2394.0 1372.9 2397.0 1373.1 2400.0 1372.8 2400.0 1372.1 2403.0 1371.7 2406.0 1371.7 2409.0 1371.6 2412.0 1371.8 2415.0 1371.8 2418.0 1371.6 2421.0 1371.4 2424.0 1371.7 2427.0 1372.0 2430.0 1371.5 2433.0 1371.2 2436.0 1370.5 2439.0 1372.0 2442.0 1372.1 2445.0 1372.1 2448.0 1372.4 2451.0 1372.4 2454.0 1372.3 2457.0 1372.3 2460.0 1372.1 2463.0 1371.6 2466.0 1371.4 2469.0 1371.4 2472.0 1371.1 2475.0 1371.7 2478.0 1372.1 2481.0 1371.9 2484.0 1372.3 2487.0 1372.3 2490.0 1372.1 2493.0 1372.0 2496.0 1371.9 2499.0 1372.7 2502.0 1370.8 2505.0 1372.3 2508.0 1371.5 2511.0 1372.1 2514.0 1373.3 2517.0 1373.6 2520.0 1372.9 2523.0 1371.5 2526.0 1370.6 2529.0 1370.8 2532.0 1370.4 2535.0 1371.0 2538.0 1371.9 2541.0 1371.4 2544.0 1370.3 2547.0 1370.2 2550.0 1371.5 2553.0 1372.0 2556.0 1371.5 2559.0 1371.1 2562.0 1370.3 2565.0 1370.5 2568.0 1371.7 2571.0 1372.2 2574.0 1371.4 2577.0 1370.5 2580.0 1371.2 2583.0 1371.9 2586.0 1371.6 2589.0 1371.6 2592.0 1371.7 2595.0 1371.3 2598.0 1370.7 2600.0 1370.1 2601.0 1370.5 2604.0 1371.5 2607.0 1372.3 2610.0 1372.4 2613.0 1371.7 2616.0 1371.5 2619.0 1371.2 2622.0 1370.6 2625.0 1370.6 2628.0 1371.1 2631.0 1371.1 2634.0 1371.8 2637.0 1373.0 2640.0 1372.5 2643.0 1371.7 2646.0 1372.3 2649.0 1372.4 2652.0 1370.7 2655.0 1370.4 2658.0 1371.7 2661.0 1372.2 2664.0 1371.3 2667.0 1371.2 2670.0 1372.3 2673.0 1372.2 2676.0 1371.3 2679.0 1370.9 2682.0 1371.1 2685.0 1370.7 2688.0 1370.2 2691.0 1370.6 2694.0 1371.0 2697.0 1371.5 2700.0 1371.3 2703.0 1371.1 2706.0 1372.0 2709.0 1371.9 2712.0 1370.5 2715.0 1370.0 2718.0 1370.5 2721.0 1371.6 2724.0 1371.8 2727.0 1370.7 2730.0 1370.5 2733.0 1371.2 2736.0 1371.2 2739.0 1371.0 2742.0 1370.9 2745.0 1371.4 2748.0 1371.1 2751.0 1372.2 2754.0 1371.6 2757.0 1372.4 2760.0 1372.9 2763.0 1372.0 2766.0 1371.2 2769.0 1370.8 2772.0 1370.9 2775.0 1371.5 2778.0 1371.5 2781.0 1370.1 2784.0 1369.3 2787.0 1370.1 2790.0 1370.2 2793.0 1369.5 2796.0 1369.7 2799.0 1369.8 2800.0 1369.8 2802.0 1370.4 2805.0 1371.0 2808.0 1370.1 2811.0 1370.0 2814.0 1370.4 2816.9 1370.4 2819.9 1369.8 2822.9 1369.4 2825.8 1369.7 2828.8 1369.2 2831.7 1367.5 2834.7 1366.6 2837.6 1367.1 2840.5 1368.0 2843.5 1367.9 2846.4 1367.0 2849.4 1366.0 2852.4 1365.3 2853.0 1365.9 2855.3 1366.3 2858.3 1366.0 2861.3 1365.6 2864.3 1365.0 2867.2 1365.0 2870.2 1365.0 2873.2 1364.5 2876.2 1365.2 2879.2 1365.7 2882.1 1364.8 2885.1 1363.9 2888.1 1363.4 2891.0 1363.0 2894.0 1361.8 2897.0 1362.7 2899.9 1362.8 2902.8 1362.4 2905.8 1362.0 2906.0 1362.8 2908.7 1363.3 2911.5 1362.7 2914.4 1361.6 2917.2 1360.6 2919.9 1359.7 2922.6 1359.4 2925.2 1359.5 2927.8 1359.2 2930.4 1358.0 2932.9 1356.6 2935.3 1356.3 2937.7 1355.9 2937.8 1355.7 2940.0 1354.6 2942.1 1353.4 2944.1 1351.7 2946.0 1350.1 2947.7 1349.1 2949.4 1347.9 2951.0 1346.8 2952.5 1345.9 2953.9 1344.7 2955.3 1343.5 2956.6 1341.7 2957.9 1339.9 2959.0 1338.9 2959.1 1338.7 2960.2 1337.2 2961.1 1335.6 2962.0 1334.2 2962.7 1333.0 2963.5 1331.3 2964.2 1330.0 2964.8 1328.7 2965.5 1326.6 2966.2 1325.1 2966.8 1324.3 2967.4 1323.0 2968.1 1321.5 2968.7 1319.9 2969.4 1318.4 2970.0 1317.0 2970.7 1315.3 2971.4 1313.8 2972.1 1312.4 2972.2 1311.9 2972.9 1310.3 2973.7 1309.1 2974.4 1308.6 2975.2 1307.8 2976.0 1306.0 2976.9 1303.8 2977.7 1302.0 2978.5 1300.6 2979.3 1299.4 2980.0 1298.4 2980.8 1296.8 2981.5 1294.7 2982.2 1292.8 2982.8 1292.3 2982.9 1291.9 2983.6 1290.6 2984.3 1289.5 2985.0 1288.1 2985.6 1286.9 2986.3 1285.2 2987.0 1282.9 2987.6 1281.5 2988.2 1280.9 2988.8 1279.4 2989.4 1277.5 2990.0 1276.0 2990.5 1274.9 2991.1 1273.5 2991.6 1271.8 2992.1 1270.1 2992.6 1268.7 2993.0 1267.6 2993.4 1266.3 2993.5 1265.7 2993.9 1264.0 2994.3 1262.8 2994.6 1261.8 2995.0 1260.6 2995.3 1258.9 2995.6 1257.0 2996.0 1255.2 2996.3 1253.8 2996.6 1252.4 2996.9 1250.9 2997.1 1249.5 2997.4 1248.1 2997.7 1246.5 2998.0 1245.0 2998.3 1243.6 2998.5 1241.9 2998.8 1240.3 2999.1 1238.9 2999.3 1237.6 2999.6 1236.1 2999.9 1234.7 3000.2 1233.5 3000.4 1232.0 3000.7 1230.3 3001.0 1228.5 3001.3 1226.8 3001.4 1226.5 3001.6 1225.8 3001.8 1224.2 3002.1 1222.6 3002.4 1221.2 3002.7 1219.6 3002.9 1218.0 3003.2 1216.2 3003.4 1214.6 3003.7 1213.4 3004.0 1212.1 3004.2 1210.6 3004.5 1209.3 3004.7 1207.7 3005.0 1206.0 3005.3 1204.3 3005.5 1203.0 3005.8 1201.7 3006.0 1200.3 3006.3 1198.6 3006.6 1196.9 3006.9 1195.6 3007.2 1194.4 3007.5 1192.8 3007.7 1191.4 3008.0 1189.9 3008.1 1189.4 3008.4 1188.3 3008.7 1187.2 3009.0 1185.5 3009.4 1183.6 3009.7 1182.0 3010.0 1181.1 3010.4 1179.8 3010.8 1177.9 3011.1 1175.9 3011.5 1174.8 3011.8 1173.4 3012.2 1171.6 3012.6 1170.1 3013.0 1168.9 3013.3 1167.7 3013.7 1165.9 3014.0 1164.6 3014.1 1164.4 3014.4 1162.8 3014.8 1161.1 3015.2 1159.9 3015.6 1158.6 3015.9 1157.1 3016.3 1155.6 3016.7 1154.4 3017.1 1152.8 3017.5 1150.7 3017.9 1149.0 3018.2 1147.7 3018.6 1146.4 3019.0 1145.1 3019.4 1143.6 3019.8 1142.2 3020.2 1140.6 3020.6 1138.7 3021.0 1137.0 3021.4 1136.1 3021.8 1135.0 3022.2 1133.3 3022.7 1131.7 3023.1 1130.2 3023.5 1128.6 3023.9 1126.9 3024.2 1126.1 3024.4 1125.9 3024.8 1124.5 3025.2 1122.9 3025.7 1121.3 3026.1 1120.0 3026.6 1118.7 3027.0 1116.9 3027.5 1115.4 3027.9 1114.1 3028.4 1112.4 3028.8 1110.6 3029.3 1109.3 3029.8 1108.3 3030.3 1106.9 3030.7 1105.6 3031.2 1103.9 3031.7 1102.3 3032.2 1100.8 3032.7 1099.2 3033.2 1097.8 3033.7 1096.2 3034.3 1094.6 3034.4 1094.3 3034.8 1092.9 3035.3 1091.2 3035.7 1089.9 3036.2 1088.8 3036.6 1087.4 3037.1 1085.9 3037.5 1084.4 3038.0 1082.6 3038.4 1081.3 3039.0 1080.1 3039.5 1078.5 3040.2 1077.1 3041.2 1075.8 3042.0 1075.4 3042.5 1076.0 3042.9 1077.5 3043.2 1079.0 3043.4 1080.6 3043.6 1081.9 3043.8 1083.3 3044.0 1085.0 3044.1 1086.4 3044.3 1088.0 3044.4 1089.3 3044.6 1090.8 3044.8 1092.3 3044.9 1093.8 3045.1 1095.4 3045.2 1096.7 3045.4 1098.4 3045.5 1100.0 3045.7 1101.6 3045.8 1103.1 3046.0 1104.5 3046.1 1105.9 3046.3 1107.4 3046.5 1108.9 3046.7 1110.4 3046.9 1111.9 3047.2 1113.2 3047.2 1113.3 3047.5 1114.8 3047.8 1116.2 3048.1 1117.8 3048.4 1119.7 3048.8 1121.1 3049.1 1122.4 3049.5 1123.8 3049.9 1125.3 3050.3 1126.8 3050.8 1128.3 3051.2 1129.8 3051.7 1131.2 3052.1 1132.8 3052.6 1134.5 3053.1 1135.9 3053.5 1137.6 3054.0 1139.4 3054.4 1140.7 3054.9 1141.7 3055.3 1143.0 3055.7 1144.8 3056.1 1146.3 3056.4 1147.7 3056.8 1149.2 3057.1 1150.6 3057.4 1151.8 3057.4 1151.9 3057.7 1153.5 3058.0 1155.2 3058.3 1156.5 3058.6 1157.8 3058.8 1159.6 3059.1 1161.4 3059.3 1162.8 3059.5 1164.0 3059.8 1165.6 3060.0 1167.2 3060.2 1168.4 3060.4 1170.0 3060.6 1171.5 3060.9 1173.0 3061.1 1174.6 3061.3 1176.0 3061.5 1177.6 3061.7 1179.0 3061.9 1180.6 3062.2 1181.9 3062.4 1183.3 3062.6 1184.9 3062.8 1186.4 3063.1 1187.8 3063.3 1189.4 3063.5 1191.0 3063.8 1192.4 3064.0 1193.9 3064.3 1195.6 3064.6 1197.3 3064.9 1198.4 3065.2 1199.7 3065.2 1199.7 3065.5 1201.0 3065.8 1202.5 3066.2 1204.3 3066.6 1205.9 3067.0 1207.2 3067.4 1208.6 3067.8 1210.1 3068.2 1211.9 3068.6 1213.9 3069.1 1215.4 3069.5 1216.3 3069.9 1217.4 3070.3 1218.9 3070.4 1219.5 3070.6 1220.2 3071.0 1221.7 3071.3 1223.4 3071.7 1225.0 3072.0 1226.4 3072.4 1227.9 3072.7 1229.5 3073.0 1230.8 3073.4 1232.1 3073.7 1233.8 3074.0 1235.7 3074.3 1237.3 3074.7 1238.5 3075.0 1240.1 3075.3 1241.8 3075.6 1243.3 3075.9 1244.6 3076.3 1246.0 3076.6 1247.3 3076.9 1248.8 3077.2 1250.5 3077.6 1252.2 3077.9 1253.6 3078.3 1255.0 3078.6 1256.3 3078.9 1257.8 3079.3 1259.4 3079.7 1260.9 3080.0 1262.9 3080.4 1264.3 3080.8 1265.3 3081.0 1266.0 3081.2 1267.0 3081.6 1268.5 3082.0 1270.0 3082.4 1271.4 3082.9 1273.1 3083.3 1274.6 3083.7 1276.2 3084.1 1277.4 3084.5 1278.5 3084.9 1280.0 3085.4 1281.7 3085.8 1283.0 3086.3 1284.6 3086.7 1286.5 3087.2 1287.9 3087.7 1289.0 3088.2 1290.3 3088.7 1292.0 3089.2 1293.8 3089.8 1295.6 3090.4 1297.1 3091.0 1298.0 3091.6 1299.2 3091.7 1299.9 3092.4 1301.5 3093.2 1302.8 3093.9 1304.0 3094.8 1304.5 3095.6 1306.6 3096.5 1307.8 3097.5 1309.0 3098.4 1311.0 3099.5 1312.6 3100.5 1313.5 3101.6 1314.9 3102.7 1316.7 3103.8 1318.3 3104.8 1319.2 3105.0 1319.3 3106.2 1320.8 3107.4 1322.1 3108.6 1323.0 3109.8 1324.4 3111.1 1326.1 3112.5 1327.5 3113.9 1328.3 3115.3 1329.5 3116.8 1331.1 3118.0 1332.9 3118.4 1333.8 3120.0 1334.7 3121.7 1335.9 3123.3 1337.4 3125.0 1338.9 3126.8 1340.2 3128.6 1340.6 3130.4 1338.5 3132.4 1342.5 3134.4 1344.8 3136.6 1346.5 3138.9 1347.5 3139.2 1347.6 3141.3 1347.3 3143.8 1347.1 3146.3 1348.0 3148.9 1349.3 3151.6 1350.4 3154.2 1350.8 3157.0 1351.0 3159.7 1351.8 3162.5 1352.9 3165.3 1352.8 3168.1 1353.8 3170.9 1354.4 3171.0 1354.0 3173.8 1353.9 3176.6 1354.6 3179.5 1355.4 3182.4 1355.0 3185.3 1354.2 3188.2 1354.3 3191.1 1355.5 3194.0 1356.4 3196.9 1356.6 3199.8 1356.8 3202.8 1357.2 3205.7 1358.2 3208.6 1358.8 3211.6 1358.3 3214.5 1358.2 3217.4 1359.5 3220.4 1360.1 3223.3 1360.0 3224.0 1360.3 3226.2 1360.8 3229.1 1360.5 3232.1 1360.2 3235.0 1360.9 3237.9 1361.8 3240.8 1362.0 3243.7 1362.1 3246.7 1361.9 3249.6 1361.8 3252.5 1363.2 3255.5 1364.7 3258.4 1364.7 3261.3 1364.6 3264.3 1365.4 3267.3 1365.7 3270.2 1364.7 3273.2 1363.8 3276.2 1364.1 3277.0 1364.7 3279.2 1365.7 3282.2 1366.1 3285.2 1365.3 3288.1 1365.3 3291.1 1366.6 3294.1 1366.9 3297.1 1366.3 3300.1 1366.5 3303.1 1366.3 3306.1 1366.0 3309.1 1366.0 3312.1 1365.4 3315.1 1364.8 3318.1 1365.0 3320.0 1365.9 3321.1 1366.9 3324.1 1367.6 3327.1 1367.4 3330.1 1366.8 3333.1 1366.4 3336.1 1366.0 3339.1 1366.6 3342.1 1367.8 3345.0 1368.4 3348.0 1369.1 3351.0 1368.7 3354.0 1367.5 3357.0 1366.6 3360.0 1366.9 3363.0 1368.6 3366.0 1370.5 3369.0 1371.7 3372.0 1371.0 3375.0 1369.0 3378.0 1367.4 3381.0 1367.0 3384.0 1367.8 3387.0 1368.1 3390.0 1368.1 3393.0 1369.2 3396.0 1369.5 3399.0 1368.6 3400.0 1368.0 3402.0 1368.3 3405.0 1369.0 3408.0 1368.5 3411.0 1367.4 3414.0 1368.7 3417.0 1367.3 3420.0 1368.1 3423.0 1369.7 3426.0 1369.7 3429.0 1368.5 3432.0 1368.4 3435.0 1369.2 3438.0 1369.2 3441.0 1369.3 3444.0 1370.4 3447.0 1371.2 3450.0 1370.3 3453.0 1368.0 3455.9 1368.0 3458.9 1369.8 3461.9 1370.1 3464.9 1369.4 3467.9 1369.2 3470.9 1369.7 3473.9 1370.2 3476.9 1371.1 3479.9 1371.5 3482.9 1370.4 3485.9 1369.3 3488.9 1370.3 3491.9 1372.1 3494.9 1372.4 3497.9 1372.1 3500.9 1371.2 3503.9 1370.7 3506.9 1371.7 3509.9 1372.3 3512.9 1371.5 3515.9 1370.8 3518.9 1370.6 3521.9 1370.4 3524.9 1370.5 3527.9 1370.7 3530.9 1370.1 3533.9 1369.3 3536.9 1369.8 3539.9 1370.7 3542.9 1371.4 3545.9 1372.0 3548.9 1372.2 3551.9 1371.8 3554.9 1371.4 3557.9 1371.2 3560.9 1370.4 3563.9 1370.3 3566.9 1371.2 3569.9 1370.9 3572.9 1369.1 3575.9 1371.6 3578.9 1372.3 3581.9 1372.2 3584.9 1372.2 3587.9 1372.2 3590.9 1371.5 3593.9 1369.9 3596.9 1369.1 3599.9 1368.8 3600.0 1368.3 3602.9 1368.9 3605.9 1369.9 3608.9 1370.2 3611.9 1370.3 3614.9 1370.2 3617.9 1370.1 3620.9 1370.8 3623.9 1369.9 3626.9 1368.7 3629.9 1369.7 3632.9 1371.4 3635.9 1371.8 3638.9 1370.9 3641.9 1370.6 3644.9 1370.7 3647.9 1371.0 3650.9 1371.2 3653.9 1370.7 3656.9 1370.4 3659.9 1370.7 3662.9 1370.6 3665.9 1370.5 3668.9 1370.0 3671.9 1370.1 3674.9 1370.9 3677.9 1370.7 3680.9 1371.2 3683.9 1371.1 3686.9 1370.2 3689.9 1369.7 3692.9 1370.5 3695.9 1370.4 3698.9 1369.5 3701.9 1370.4 3704.9 1370.8 3707.9 1370.0 3710.9 1369.3 3713.9 1369.5 3716.9 1370.3 3719.9 1370.7 3722.9 1371.3 3725.9 1372.1 3728.9 1371.5 3731.9 1370.3 3734.9 1369.9 3737.9 1370.8 3740.9 1371.2 3743.9 1371.2 3746.9 1371.7 3749.9 1371.1 3752.9 1370.6 3755.9 1370.4 3758.9 1369.4 3761.9 1369.0 3764.9 1369.7 3767.9 1370.0 3770.9 1370.5 3773.9 1370.3 3776.9 1370.9 3779.9 1372.0 3782.9 1370.9 3785.9 1369.9 3788.9 1369.8 3791.9 1370.4 3794.9 1371.5 3797.9 1370.7 3800.9 1369.5 3803.9 1370.0 3806.9 1371.5 3809.9 1371.3 3812.9 1370.6 3815.9 1371.2 3818.9 1372.2 3821.9 1372.4 3824.9 1371.9 3827.9 1370.4 3830.9 1369.9 3833.9 1370.2 3836.9 1370.3 3839.9 1370.5 3842.9 1370.3 3845.9 1370.1 3848.9 1369.6 3851.9 1369.8 3854.9 1370.9 3857.9 1370.9 3860.9 1369.8 3863.9 1369.6 3866.9 1370.3 3869.9 1370.4 3872.9 1371.1 3875.9 1372.0 3878.9 1371.1 3881.9 1370.4 3884.9 1371.5 3887.9 1371.8 3890.9 1370.6 3893.9 1370.8 3896.9 1371.7 3899.9 1371.6 3902.9 1371.5 3905.9 1371.9 3908.9 1372.5 3911.9 1373.4 3914.9 1372.7 3917.9 1371.4 3920.9 1370.8 3923.9 1371.0 3926.9 1371.1 3929.9 1370.7 3932.9 1370.8 3935.9 1370.1 3938.9 1369.7 3941.9 1371.0 3944.9 1371.5 3947.9 1371.0 3950.9 1370.7 3953.9 1370.5 3956.9 1370.8 3959.9 1372.0 3962.9 1372.2 3965.9 1371.3 3968.9 1370.9 3971.9 1371.3 3974.9 1371.6 3977.9 1371.1 3980.9 1370.5 3983.9 1370.6 3986.9 1370.9 3989.9 1370.7 3992.9 1370.9 3995.9 1371.6 3998.9 1371.8 4000.0 1371.3 4001.9 1370.8 4004.9 1371.1 4007.9 1371.0 4010.9 1370.4 4013.9 1370.1 4016.9 1370.0 4019.9 1370.3 4022.9 1370.7 4025.9 1371.5 4028.9 1372.3 4031.9 1371.9 4034.9 1371.1 4037.9 1370.5 4040.9 1369.9 4043.9 1370.1 4046.9 1370.2 4049.9 1370.4 4052.9 1371.8 4055.9 1371.8 4058.9 1370.6 4061.9 1371.4 4064.9 1372.2 4067.9 1372.0 4070.9 1372.0 4073.9 1371.7 4076.9 1370.4 4079.9 1370.2 4082.9 1370.8 4085.9 1370.2 4088.9 1369.8 4091.9 1368.3 4094.9 1371.3 4097.9 1370.7 4100.9 1370.8 4103.9 1370.3 4106.9 1368.9 4109.9 1368.8 4112.9 1369.3 4115.9 1369.2 4118.9 1368.7 4121.9 1368.7 4124.9 1370.2 4127.9 1370.7 4130.9 1370.1 4133.9 1370.7 4136.9 1370.9 4139.9 1371.0 4142.9 1370.5 4145.9 1369.9 4148.9 1369.4 4151.9 1368.3 4154.9 1368.2 4157.9 1368.9 4158.0 1369.2 4160.6 1367.4 4162.9 1366.3 4164.8 1366.2 4166.6 1365.6 4168.3 1364.3 4170.0 1362.5 4171.8 1361.1 4173.0 1361.0" fill="none" stroke="#007a12" stroke-width="5.8" stroke-linejoin="round" stroke-linecap="round"/>
<path transform="scale(0.50 1)" d="M304.0 1656.5L307.0 1655.9 310.0 1655.8 313.0 1657.2 316.0 1658.0 319.0 1657.5 322.0 1657.2 325.0 1656.4 328.0 1655.8 331.0 1656.2 334.0 1657.0 337.0 1657.0 340.0 1656.9 343.0 1657.5 346.0 1657.3 349.0 1656.4 352.0 1656.1 355.0 1656.5 358.0 1656.2 361.0 1656.0 364.0 1657.0 367.0 1656.2 370.0 1654.9 373.0 1655.5 376.0 1655.9 379.0 1656.1 382.0 1656.7 385.0 1656.4 388.0 1655.6 391.0 1656.3 394.0 1656.7 397.0 1656.0 400.0 1656.6 403.0 1656.9 406.0 1655.5 409.0 1654.8 412.0 1655.1 415.0 1656.5 418.0 1657.0 421.0 1656.8 424.0 1656.7 427.0 1656.7 430.0 1656.0 433.0 1655.2 436.0 1655.3 439.0 1656.0 442.0 1656.1 445.0 1656.3 448.0 1656.6 451.0 1656.7 454.0 1656.6 457.0 1656.5 460.0 1656.2 463.0 1655.4 466.0 1655.2 469.0 1656.4 472.0 1657.1 475.0 1656.5 478.0 1656.1 481.0 1656.5 484.0 1656.5 487.0 1655.9 490.0 1655.5 493.0 1655.2 496.0 1655.5 499.0 1655.8 500.0 1655.6 502.0 1655.5 505.0 1655.2 508.0 1654.9 511.0 1655.6 514.0 1656.1 517.0 1655.0 520.0 1654.3 523.0 1655.6 526.0 1655.9 529.0 1655.9 532.0 1656.8 535.0 1656.8 538.0 1656.4 541.0 1655.4 544.0 1654.7 547.0 1655.5 550.0 1654.8 553.0 1656.1 556.0 1655.8 559.0 1654.3 562.0 1653.7 565.0 1654.3 568.0 1654.9 571.0 1655.0 574.0 1655.2 577.0 1655.6 580.0 1655.4 583.0 1655.9 586.0 1657.1 589.0 1656.6 592.0 1655.6 595.0 1655.1 598.0 1654.4 601.0 1654.5 604.0 1654.9 607.0 1654.7 610.0 1654.8 613.0 1655.4 616.0 1655.0 619.0 1654.5 622.0 1654.6 625.0 1655.0 628.0 1655.8 631.0 1655.3 634.0 1654.9 637.0 1656.1 640.0 1656.0 643.0 1655.1 646.0 1654.5 649.0 1654.7 652.0 1655.0 655.0 1655.3 658.0 1655.7 661.0 1655.4 664.0 1654.3 667.0 1654.2 670.0 1654.9 673.0 1654.6 676.0 1654.2 679.0 1654.7 682.0 1655.7 685.0 1655.6 688.0 1655.0 691.0 1654.4 694.0 1654.2 697.0 1655.1 700.0 1656.2 703.0 1656.8 706.0 1657.0 709.0 1656.8 712.0 1656.0 712.8 1654.7 715.0 1654.4 718.0 1654.9 721.0 1654.6 724.0 1655.7 727.0 1653.8 730.0 1653.4 733.0 1653.6 736.0 1653.4 739.0 1653.8 742.0 1654.3 744.9 1654.3 747.9 1654.1 750.9 1653.7 753.9 1653.1 756.9 1653.1 759.9 1652.9 762.9 1652.1 765.8 1652.4 768.8 1652.1 771.8 1650.3 772.0 1649.9 774.7 1650.5 777.6 1651.0 780.4 1650.8 783.2 1650.4 785.9 1650.7 788.4 1650.2 790.9 1648.4 793.4 1647.3 795.4 1647.0 795.7 1646.5 797.8 1644.2 799.5 1642.7 801.0 1641.8 802.4 1640.9 803.8 1639.9 805.0 1638.2 806.2 1636.4 807.4 1635.0 808.6 1633.7 809.2 1633.3 809.8 1632.9 810.9 1631.8 811.9 1631.1 812.9 1630.1 813.8 1627.9 814.7 1626.0 815.6 1625.3 816.4 1624.2 817.2 1622.2 818.0 1620.7 818.8 1619.4 819.6 1617.9 820.4 1616.6 821.1 1614.9 821.9 1613.0 822.6 1611.4 823.0 1610.7 823.4 1610.2 824.0 1609.1 824.7 1607.6 825.3 1606.0 825.9 1604.6 826.5 1603.2 827.1 1602.0 827.7 1600.6 828.3 1598.7 829.0 1596.8 829.7 1595.4 830.0 1593.0 830.4 1594.4 831.2 1592.5 831.9 1591.0 832.6 1589.6 833.3 1588.6 834.0 1587.1 834.8 1585.1 835.7 1583.8 836.7 1583.1 838.3 1581.3 839.0 1579.5 840.8 1580.9 842.4 1582.9 843.7 1584.2 844.7 1585.6 845.7 1587.5 846.6 1589.0 847.5 1590.1 848.3 1591.0 849.2 1592.2 850.0 1593.9 850.4 1594.6 850.9 1595.5 851.6 1597.3 852.2 1599.0 852.8 1600.2 853.3 1601.5 853.9 1603.3 854.4 1605.2 854.9 1606.5 855.4 1607.3 855.9 1609.1 856.4 1611.1 857.0 1612.5 857.6 1614.0 858.2 1615.5 858.8 1616.9 859.6 1618.0 859.6 1617.9 860.5 1619.5 861.4 1620.8 862.4 1622.4 863.5 1624.0 864.6 1625.4 865.8 1626.7 867.1 1627.6 868.4 1628.9 868.8 1629.7 869.8 1630.9 871.2 1632.2 872.7 1633.2 874.2 1634.2 875.7 1635.0 877.3 1635.9 878.9 1637.8 880.7 1639.7 882.5 1640.8 884.5 1642.0 886.6 1643.2 887.2 1642.9 888.9 1643.5 891.2 1644.7 893.5 1645.6 896.0 1645.8 898.5 1646.5 901.0 1647.6 903.6 1648.3 906.3 1649.6 909.0 1650.9 911.9 1651.0 914.6 1650.4 914.7 1649.6 917.7 1649.8 920.6 1650.4 923.5 1651.2 926.4 1652.1 929.4 1652.3 932.3 1652.4 935.3 1652.6 938.2 1652.4 941.2 1652.3 944.2 1653.1 947.2 1653.9 950.1 1653.9 953.1 1654.2 956.1 1655.3 959.1 1655.5 962.1 1655.6 965.1 1655.5 965.2 1654.8 968.1 1655.0 971.1 1655.1 974.1 1654.3 977.1 1653.4 980.1 1653.5 983.1 1654.3 986.1 1655.0 989.1 1655.4 992.1 1654.9 995.1 1654.5 998.1 1654.0 1001.1 1653.5 1004.1 1653.9 1007.1 1655.1 1010.1 1656.1 1013.1 1655.8 1016.1 1654.3 1019.1 1653.8 1022.1 1654.1 1025.1 1655.0 1028.1 1656.3 1031.1 1655.9 1034.0 1654.6 1034.1 1653.9 1037.1 1653.7 1040.1 1653.3 1043.1 1652.7 1046.1 1653.2 1049.1 1654.4 1052.1 1654.5 1055.1 1653.7 1058.1 1653.9 1061.0 1654.1 1064.0 1653.7 1067.0 1653.3 1070.0 1653.5 1072.9 1654.4 1075.9 1654.3 1078.8 1652.7 1080.0 1651.9 1081.7 1651.7 1084.1 1650.8 1086.3 1649.9 1088.3 1648.9 1090.4 1647.3 1092.5 1645.9 1094.9 1645.2 1097.7 1644.5 1098.0 1647.1 1100.5 1646.0 1102.7 1646.4 1104.6 1647.7 1106.4 1649.2 1108.3 1650.3 1110.4 1651.2 1112.0 1652.1 1112.9 1652.3 1115.6 1652.5 1118.3 1653.3 1121.1 1654.3 1123.9 1654.1 1126.8 1654.4 1129.7 1655.8 1132.6 1656.6 1134.8 1656.5 1135.6 1655.8 1138.6 1655.7 1141.6 1656.7 1144.6 1657.0 1147.6 1655.8 1150.5 1654.8 1153.5 1654.2 1156.4 1653.4 1159.3 1653.0 1162.2 1653.3 1165.1 1653.5 1168.0 1653.2 1170.9 1653.2 1171.6 1653.3 1173.9 1652.4 1176.7 1652.0 1179.6 1651.6 1182.5 1650.9 1185.3 1650.7 1188.2 1651.2 1191.0 1650.3 1193.8 1648.6 1196.5 1648.5 1199.0 1648.3 1199.3 1648.6 1202.0 1647.1 1204.6 1645.7 1207.1 1644.4 1209.6 1643.9 1209.6 1643.9 1212.0 1642.5 1214.4 1641.8 1216.8 1641.7 1219.1 1641.0 1221.3 1640.1 1223.5 1639.3 1225.6 1638.0 1227.6 1637.1 1229.6 1636.1 1231.5 1634.5 1233.3 1633.5 1235.0 1631.9 1236.0 1631.0 1236.7 1631.6 1238.2 1630.3 1239.6 1628.5 1240.9 1627.2 1242.0 1625.9 1243.1 1624.5 1244.2 1623.2 1245.1 1621.3 1246.0 1619.5 1246.1 1619.5 1246.9 1618.1 1247.7 1616.6 1248.5 1615.0 1249.2 1613.5 1249.9 1612.2 1250.6 1610.8 1251.2 1609.7 1251.7 1608.2 1252.3 1606.4 1252.8 1604.8 1253.3 1603.3 1253.8 1602.2 1254.2 1601.0 1254.7 1599.3 1255.1 1597.7 1255.5 1596.4 1255.8 1595.0 1255.9 1594.7 1256.2 1593.5 1256.5 1592.0 1256.7 1590.3 1257.0 1588.8 1257.2 1587.3 1257.4 1585.7 1257.6 1584.3 1257.8 1582.8 1258.0 1581.0 1258.2 1579.2 1258.4 1577.9 1258.6 1576.4 1258.7 1575.0 1258.9 1573.5 1259.1 1572.1 1259.3 1570.7 1259.5 1569.1 1259.8 1567.6 1260.0 1566.2 1260.2 1564.6 1260.5 1563.1 1260.8 1561.0 1260.8 1561.6 1261.2 1560.2 1261.6 1558.7 1262.0 1557.3 1262.4 1555.9 1262.9 1554.1 1263.4 1552.7 1263.9 1551.5 1264.4 1550.2 1265.0 1548.8 1265.5 1547.1 1266.1 1545.4 1266.7 1543.7 1267.2 1542.4 1267.7 1541.0 1268.2 1539.2 1268.7 1537.8 1269.0 1536.7 1269.1 1536.1 1269.6 1534.7 1270.0 1533.4 1270.4 1531.9 1270.9 1530.3 1271.3 1528.6 1271.8 1527.2 1272.2 1526.4 1272.6 1525.4 1273.1 1524.0 1273.5 1521.6 1273.9 1520.0 1274.3 1518.7 1274.7 1517.3 1275.0 1515.6 1275.4 1514.2 1275.7 1512.9 1276.1 1511.4 1276.4 1509.8 1276.7 1508.2 1277.0 1506.7 1277.3 1505.3 1277.6 1503.7 1277.9 1502.2 1278.1 1500.8 1278.4 1499.5 1278.7 1497.8 1278.9 1496.0 1279.0 1495.4 1279.1 1494.9 1279.3 1493.5 1279.5 1491.8 1279.7 1490.2 1279.9 1488.7 1280.1 1487.4 1280.2 1485.8 1280.4 1484.3 1280.5 1482.8 1280.6 1481.4 1280.8 1480.0 1280.9 1478.3 1281.1 1476.6 1281.2 1475.2 1281.3 1473.9 1281.4 1472.2 1281.6 1470.8 1281.7 1469.3 1281.8 1467.8 1281.9 1466.3 1282.0 1464.8 1282.2 1463.1 1282.3 1461.8 1282.4 1460.4 1282.5 1458.8 1282.6 1457.2 1282.7 1456.0 1282.8 1454.5 1283.0 1452.9 1283.1 1451.3 1283.2 1450.0 1283.3 1448.4 1283.4 1446.9 1283.5 1445.3 1283.7 1443.8 1283.8 1442.6 1283.9 1440.8 1284.0 1439.2 1284.1 1437.8 1284.2 1436.4 1284.4 1434.7 1284.5 1433.4 1284.6 1432.0 1284.8 1430.3 1284.9 1428.8 1285.0 1427.2 1285.2 1425.8 1285.3 1424.3 1285.4 1423.0 1285.6 1421.4 1285.6 1421.4 1285.7 1420.0 1285.9 1418.3 1286.1 1416.9 1286.3 1415.3 1286.4 1413.9 1286.6 1412.2 1286.8 1410.8 1287.0 1409.4 1287.2 1408.0 1287.3 1406.7 1287.5 1405.2 1287.7 1403.5 1287.8 1401.8 1288.0 1400.4 1288.0 1400.1 1288.1 1398.9 1288.2 1397.3 1288.4 1395.9 1288.5 1394.1 1288.6 1392.7 1288.7 1391.5 1288.9 1390.1 1289.0 1388.6 1289.1 1387.0 1289.2 1385.4 1289.3 1383.9 1289.5 1382.3 1289.6 1380.9 1289.7 1379.3 1289.8 1377.9 1289.9 1376.5 1290.0 1374.8 1290.1 1373.4 1290.2 1371.9 1290.3 1370.3 1290.4 1368.8 1290.5 1367.3 1290.6 1366.0 1290.7 1364.4 1290.8 1362.7 1290.9 1361.5 1291.0 1359.8 1291.0 1358.4 1291.1 1356.8 1291.2 1355.3 1291.3 1353.9 1291.4 1352.5 1291.5 1350.7 1291.6 1349.2 1291.6 1347.7 1291.7 1346.2 1291.8 1344.7 1291.9 1343.2 1291.9 1342.0 1292.0 1340.4 1292.1 1338.7 1292.2 1337.2 1292.2 1336.0 1292.3 1334.4 1292.4 1332.8 1292.5 1331.5 1292.5 1329.8 1292.6 1328.5 1292.7 1326.6 1292.7 1325.3 1292.8 1324.1 1292.8 1324.0 1292.9 1322.0 1292.9 1320.5 1293.0 1319.6 1293.0 1317.9 1293.1 1316.0 1293.1 1314.9 1293.2 1313.0 1293.2 1311.7 1293.3 1310.3 1293.3 1308.9 1293.4 1306.8 1293.4 1305.4 1293.5 1304.0 1293.5 1302.6 1293.5 1301.0 1293.6 1299.4 1293.6 1297.8 1293.7 1296.2 1293.7 1295.4 1293.7 1293.8 1293.8 1292.2 1293.8 1290.6 1293.8 1288.9 1293.9 1287.2 1293.9 1286.4 1293.9 1284.7 1294.0 1283.0 1294.0 1281.3 1294.0 1280.4 1294.1 1278.7 1294.1 1277.0 1294.2 1275.3 1294.2 1274.4 1294.2 1272.7 1294.3 1270.9 1294.3 1269.2 1294.3 1268.4 1294.4 1266.7 1294.4 1265.0 1294.4 1264.0 1294.5 1262.3 1294.5 1260.6 1294.5 1258.9 1294.6 1258.0 1294.6 1256.3 1294.6 1254.6 1294.7 1253.0 1294.7 1251.3 1294.7 1250.5 1294.8 1248.8 1294.8 1247.2 1294.9 1245.6 1294.9 1244.0 1294.9 1242.4 1295.0 1240.8 1295.0 1239.3 1295.0 1238.6 1295.1 1237.1 1295.1 1234.9 1295.2 1233.4 1295.2 1232.0 1295.3 1230.7 1295.3 1229.3 1295.3 1228.0 1295.4 1226.1 1295.4 1224.8 1295.5 1223.1 1295.5 1222.0 1295.6 1220.3 1295.7 1218.8 1295.7 1217.3 1295.8 1215.9 1295.9 1214.3 1295.9 1212.8 1296.0 1211.9 1296.0 1211.5 1296.1 1210.1 1296.2 1208.6 1296.4 1206.8 1296.5 1205.4 1296.6 1204.1 1296.7 1202.3 1296.8 1201.0 1296.9 1199.5 1297.0 1198.1 1297.1 1196.3 1297.2 1194.8 1297.3 1193.5 1297.5 1191.9 1297.6 1190.5 1297.7 1189.1 1297.8 1187.6 1297.9 1186.2 1298.1 1184.5 1298.2 1183.1 1298.3 1181.6 1298.5 1180.1 1298.6 1178.3 1298.7 1176.8 1298.9 1175.5 1299.0 1174.0 1299.2 1172.5 1299.3 1171.1 1299.5 1169.6 1299.6 1168.0 1299.8 1166.6 1300.0 1165.0 1300.1 1163.5 1300.3 1161.9 1300.5 1160.5 1300.7 1159.0 1300.9 1157.5 1301.1 1156.1 1301.4 1154.9 1301.6 1153.4 1301.9 1151.5 1302.2 1150.1 1302.6 1148.6 1303.2 1147.0 1304.0 1146.9 1304.7 1147.6 1305.4 1148.5 1306.0 1149.7 1306.4 1151.3 1306.8 1153.0 1307.1 1154.5 1307.4 1155.9 1307.7 1157.3 1308.0 1158.9 1308.3 1160.2 1308.6 1161.6 1308.9 1163.4 1309.1 1164.9 1309.4 1166.2 1309.7 1167.6 1309.9 1169.3 1310.2 1171.0 1310.5 1172.1 1310.7 1173.4 1311.0 1174.9 1311.3 1176.8 1311.6 1178.1 1311.9 1179.4 1312.0 1180.0 1312.3 1180.9 1312.6 1181.9 1313.0 1183.8 1313.4 1185.7 1313.8 1186.8 1314.2 1188.0 1314.6 1190.1 1315.1 1192.1 1315.5 1193.6 1315.9 1195.1 1316.3 1196.3 1316.7 1197.4 1317.1 1199.0 1317.5 1200.6 1317.8 1201.8 1318.1 1203.2 1318.4 1204.9 1318.7 1206.5 1319.0 1207.9 1319.2 1209.1 1319.4 1210.8 1319.7 1212.6 1319.9 1214.1 1320.1 1215.5 1320.3 1217.0 1320.5 1218.5 1320.7 1220.0 1320.9 1221.6 1321.1 1223.2 1321.2 1224.8 1321.4 1226.0 1321.5 1227.4 1321.6 1228.0 1321.7 1228.9 1321.8 1230.5 1321.9 1232.1 1322.0 1233.6 1322.1 1235.2 1322.1 1236.5 1322.2 1238.3 1322.3 1239.7 1322.3 1241.3 1322.4 1242.9 1322.4 1244.0 1322.5 1245.6 1322.5 1247.4 1322.6 1248.5 1322.6 1250.4 1322.7 1251.6 1322.7 1252.9 1322.8 1254.9 1322.8 1256.2 1322.9 1257.5 1322.9 1259.5 1323.0 1260.9 1323.0 1262.3 1323.0 1263.7 1323.1 1265.1 1323.1 1266.5 1323.2 1267.9 1323.2 1270.0 1323.3 1271.5 1323.3 1272.9 1323.3 1274.4 1323.4 1275.9 1323.4 1277.3 1323.5 1278.8 1323.5 1280.3 1323.5 1281.7 1323.6 1283.1 1323.6 1284.6 1323.7 1286.1 1323.7 1287.6 1323.7 1289.1 1323.8 1290.5 1323.8 1292.0 1323.9 1293.4 1323.9 1294.9 1323.9 1296.4 1324.0 1298.5 1324.0 1299.9 1324.1 1301.4 1324.1 1302.8 1324.2 1304.2 1324.2 1305.5 1324.2 1306.9 1324.3 1308.9 1324.3 1310.3 1324.4 1311.4 1324.4 1313.4 1324.5 1314.6 1324.5 1315.9 1324.6 1317.7 1324.6 1319.0 1324.7 1320.7 1324.7 1322.5 1324.8 1323.6 1324.8 1324.0 1324.8 1325.1 1324.9 1326.7 1325.0 1328.3 1325.0 1329.4 1325.1 1331.0 1325.1 1332.7 1325.2 1334.3 1325.2 1335.4 1325.3 1337.1 1325.3 1338.7 1325.4 1340.1 1325.4 1341.6 1325.5 1343.3 1325.5 1344.5 1325.6 1346.2 1325.7 1347.9 1325.7 1349.0 1325.8 1350.6 1325.8 1352.2 1325.9 1353.3 1325.9 1354.9 1326.0 1356.6 1326.0 1358.3 1326.1 1359.4 1326.1 1361.1 1326.2 1362.7 1326.3 1364.3 1326.3 1365.4 1326.4 1367.0 1326.4 1368.6 1326.5 1370.1 1326.5 1371.6 1326.6 1373.1 1326.7 1374.6 1326.7 1376.1 1326.8 1377.5 1326.8 1379.0 1326.9 1380.4 1327.0 1382.2 1327.0 1383.5 1327.1 1385.2 1327.2 1386.5 1327.3 1388.0 1327.3 1389.2 1327.4 1390.8 1327.5 1392.7 1327.6 1394.1 1327.7 1395.3 1327.8 1396.8 1327.9 1398.5 1328.0 1400.0 1328.0 1400.1 1328.1 1401.5 1328.3 1402.9 1328.4 1404.5 1328.6 1406.1 1328.7 1407.5 1328.9 1408.8 1329.1 1410.3 1329.3 1411.8 1329.5 1413.2 1329.7 1414.7 1330.0 1416.1 1330.2 1417.7 1330.5 1419.3 1330.7 1420.6 1330.9 1422.1 1331.2 1423.9 1331.4 1425.5 1331.6 1426.8 1331.8 1428.3 1332.0 1429.6 1332.0 1429.8 1332.2 1431.5 1332.4 1432.9 1332.6 1434.2 1332.8 1435.8 1333.0 1437.0 1333.1 1438.8 1333.3 1440.2 1333.5 1441.8 1333.7 1443.3 1333.9 1444.8 1334.0 1446.5 1334.2 1448.0 1334.4 1449.5 1334.6 1450.8 1334.7 1452.2 1334.9 1453.5 1335.1 1454.9 1335.3 1456.7 1335.4 1458.2 1335.6 1460.0 1335.8 1461.4 1335.9 1462.8 1336.1 1464.4 1336.3 1465.8 1336.4 1467.3 1336.6 1468.7 1336.8 1470.2 1336.9 1471.7 1337.1 1473.0 1337.3 1474.7 1337.4 1476.3 1337.6 1477.7 1337.7 1479.1 1337.9 1480.8 1338.1 1482.4 1338.2 1483.8 1338.4 1485.2 1338.5 1486.8 1338.6 1487.4 1338.7 1488.1 1338.8 1489.7 1339.0 1491.3 1339.1 1492.4 1339.3 1494.0 1339.4 1495.6 1339.6 1497.2 1339.7 1498.7 1339.9 1500.2 1340.0 1501.7 1340.1 1503.3 1340.3 1504.8 1340.4 1506.3 1340.6 1507.9 1340.7 1509.2 1340.8 1510.7 1341.0 1512.2 1341.1 1513.6 1341.2 1515.1 1341.4 1516.7 1341.5 1518.3 1341.7 1519.9 1341.8 1521.4 1341.9 1522.9 1342.1 1524.5 1342.2 1526.0 1342.4 1527.5 1342.5 1528.8 1342.7 1530.4 1342.8 1531.7 1343.0 1533.1 1343.1 1534.7 1343.3 1536.1 1343.4 1537.0 1343.5 1537.8 1343.6 1539.2 1343.8 1540.5 1344.0 1541.9 1344.2 1543.5 1344.3 1545.2 1344.5 1546.7 1344.7 1548.3 1344.9 1550.0 1345.0 1551.2 1345.2 1552.5 1345.4 1554.3 1345.6 1556.0 1345.7 1557.5 1345.9 1558.8 1346.1 1560.2 1346.3 1561.7 1346.5 1563.2 1346.7 1564.7 1346.8 1566.1 1347.0 1567.9 1347.2 1569.4 1347.4 1570.7 1347.6 1572.0 1347.8 1573.3 1348.1 1574.8 1348.3 1576.3 1348.5 1578.0 1348.7 1579.4 1349.0 1581.0 1349.2 1582.4 1349.5 1583.8 1349.8 1585.2 1350.0 1586.2 1350.1 1586.8 1350.4 1588.6 1350.7 1590.1 1351.0 1591.5 1351.3 1592.8 1351.7 1594.5 1352.0 1596.3 1352.4 1597.9 1352.7 1599.2 1353.1 1600.6 1353.4 1601.9 1353.8 1603.2 1354.2 1604.6 1354.6 1606.2 1355.0 1607.7 1355.5 1609.5 1356.0 1611.3 1356.5 1612.6 1357.1 1613.6 1357.8 1614.9 1358.4 1616.4 1358.6 1616.7 1359.5 1617.7 1360.4 1619.4 1361.4 1621.3 1362.5 1622.5 1363.6 1623.5 1364.9 1624.5 1366.2 1626.2 1367.6 1628.2 1369.2 1629.3 1370.8 1629.8 1372.6 1631.2 1374.4 1632.4 1374.8 1632.8 1376.4 1634.6 1378.4 1635.4 1380.4 1635.4 1382.6 1636.3 1384.8 1637.5 1387.2 1638.2 1389.5 1639.5 1392.0 1640.6 1394.5 1641.1 1397.0 1642.3 1398.0 1642.9 1399.5 1643.1 1402.0 1644.2 1404.6 1645.4 1407.2 1645.8 1409.8 1646.2 1412.5 1647.1 1415.2 1647.7 1418.0 1648.2 1420.7 1648.8 1423.6 1648.6 1424.4 1648.4 1426.5 1649.8 1429.4 1650.7 1432.3 1650.8 1435.2 1651.0 1438.1 1651.0 1441.0 1651.3 1444.0 1651.3 1446.9 1650.5 1449.9 1650.8 1452.9 1651.7 1455.9 1652.0 1457.6 1652.9 1458.8 1652.1 1461.8 1653.0 1464.8 1653.7 1467.8 1653.9 1470.8 1654.1 1473.8 1654.4 1476.8 1655.0 1479.8 1654.8 1482.8 1653.5 1485.8 1653.7 1488.8 1653.0 1491.8 1653.6 1494.8 1654.4 1497.8 1654.6 1500.8 1654.1 1503.8 1653.6 1506.8 1653.6 1509.8 1654.0 1512.8 1653.3 1515.7 1652.5 1518.7 1653.7 1520.0 1654.5 1521.7 1654.5 1524.7 1655.3 1527.7 1655.6 1530.7 1654.6 1533.7 1653.9 1536.7 1654.5 1539.7 1655.0 1542.7 1654.0 1545.7 1652.7 1548.7 1652.8 1551.7 1653.5 1554.7 1654.1 1557.7 1654.8 1560.7 1654.7 1563.7 1655.0 1566.7 1656.2 1569.7 1656.8 1572.7 1656.3 1575.7 1655.7 1578.7 1654.7 1581.7 1654.1 1584.7 1655.2 1587.7 1655.7 1590.7 1657.0 1593.7 1655.7 1596.7 1655.1 1599.7 1655.3 1602.7 1655.3 1605.7 1655.1 1608.7 1654.8 1611.7 1655.2 1614.7 1655.3 1617.7 1654.0 1620.7 1653.5 1623.7 1657.2 1626.7 1655.2 1629.7 1655.2 1632.7 1655.1 1635.7 1655.2 1638.7 1655.2 1641.7 1655.1 1644.7 1655.4 1647.7 1655.1 1650.7 1654.8 1653.7 1656.0 1656.7 1656.7 1659.7 1655.5 1662.7 1654.8 1665.7 1655.5 1668.7 1656.4 1671.7 1656.5 1674.7 1655.7 1677.7 1655.6 1680.7 1655.5 1683.7 1654.4 1686.7 1654.6 1689.7 1654.6 1692.7 1653.8 1695.7 1654.4 1698.7 1655.6 1701.7 1656.5 1704.7 1657.2 1707.7 1656.5 1710.7 1655.4 1713.7 1656.0 1716.7 1656.3 1719.7 1655.3 1722.7 1655.7 1725.7 1657.2 1728.7 1657.7 1731.7 1656.3 1734.7 1655.0 1737.7 1654.5 1740.7 1655.0 1743.7 1655.5 1746.7 1655.4 1749.7 1656.0 1752.7 1657.7 1755.7 1656.3 1758.7 1657.3 1761.7 1658.0 1764.7 1657.1 1767.7 1656.2 1770.7 1656.2 1773.7 1656.2 1776.7 1656.0 1779.7 1655.7 1782.7 1655.4 1785.7 1655.4 1788.7 1655.5 1791.7 1656.1 1794.7 1655.7 1797.7 1655.3 1800.7 1656.2 1803.7 1659.9 1806.7 1655.8 1809.7 1654.6 1812.7 1654.8 1815.7 1656.6 1816.0 1657.6M1891.6 1656.8L1894.6 1657.1 1897.6 1657.2 1900.6 1657.2 1903.6 1657.3 1906.6 1657.1 1909.6 1657.3 1912.6 1657.3 1915.6 1656.1 1918.6 1655.9 1921.6 1656.0 1924.6 1656.0 1927.6 1656.6 1930.6 1656.5 1933.6 1655.8 1936.6 1655.4 1939.6 1656.0 1942.6 1656.5 1945.6 1656.5 1948.6 1657.3 1951.6 1657.7 1954.6 1656.6 1957.6 1655.5 1960.6 1656.0 1963.6 1657.0 1966.6 1656.5 1969.6 1656.6 1972.6 1656.0 1975.6 1655.9 1978.6 1655.7 1981.6 1656.6 1984.6 1656.5 1987.6 1655.9 1990.6 1655.4 1993.6 1654.2 1996.6 1654.5 1999.6 1656.4 2000.0 1656.8 2002.5 1655.1 2005.4 1654.1 2008.1 1654.3 2010.7 1653.8 2013.4 1652.6 2016.1 1652.4 2018.9 1652.6 2020.0 1651.4 2021.9 1650.4 2024.8 1651.3 2027.8 1652.4 2030.8 1652.1 2033.7 1650.8 2036.7 1649.9 2039.7 1651.1 2042.7 1652.5 2045.7 1652.0 2048.7 1650.6 2051.6 1649.3 2054.6 1649.1 2057.6 1648.1 2060.0 1650.9 2060.6 1650.4 2063.6 1649.7 2066.6 1648.8 2069.6 1648.4 2072.6 1649.4 2075.6 1649.2 2078.6 1648.8 2081.6 1649.0 2084.6 1649.5 2087.6 1650.0 2090.6 1650.7 2093.6 1651.3 2096.6 1650.6 2099.6 1650.7 2102.6 1651.4 2105.5 1651.1 2108.5 1651.7 2111.5 1653.0 2114.5 1652.7 2117.5 1651.7 2120.0 1651.6 2120.5 1651.7 2123.5 1651.7 2126.5 1651.8 2129.4 1652.7 2132.4 1653.3 2135.4 1653.1 2138.4 1653.2 2141.4 1653.0 2144.3 1652.9 2147.3 1653.5 2150.3 1654.3 2153.3 1654.1 2156.2 1653.8 2159.2 1654.0 2162.2 1653.7 2165.2 1653.5 2168.1 1653.9 2171.1 1654.3 2174.1 1655.1 2177.1 1656.1 2180.1 1656.6 2183.1 1656.0 2186.1 1655.6 2189.1 1656.4 2192.1 1656.6 2195.1 1655.4 2198.1 1654.9 2200.0 1656.2 2201.1 1657.2 2204.0 1656.4 2207.0 1656.1 2210.0 1656.1 2213.0 1655.2 2216.0 1654.9 2219.0 1656.0 2222.0 1656.6 2225.0 1656.0 2228.0 1655.0 2231.0 1655.4 2234.0 1656.3 2237.0 1656.3 2240.0 1655.9 2243.0 1656.6 2246.0 1657.3 2249.0 1657.5 2252.0 1656.4 2255.0 1656.6 2258.0 1657.4 2261.0 1657.3 2264.0 1656.9 2267.0 1657.1 2270.0 1656.5 2273.0 1656.0 2276.0 1657.1 2279.0 1657.5 2282.0 1656.7 2285.0 1656.5 2288.0 1657.4 2291.0 1657.4 2294.0 1656.5 2297.0 1657.4 2300.0 1657.8 2303.0 1656.7 2306.0 1656.5 2309.0 1656.8 2312.0 1657.1 2315.0 1656.9 2318.0 1655.6 2321.0 1655.1 2324.0 1655.2 2327.0 1656.4 2330.0 1657.3 2333.0 1656.2 2336.0 1655.6 2339.0 1656.0 2342.0 1656.4 2345.0 1656.1 2348.0 1655.6 2351.0 1655.6 2354.0 1655.7 2357.0 1654.8 2360.0 1654.8 2363.0 1656.5 2366.0 1656.8 2369.0 1656.1 2372.0 1656.4 2375.0 1656.6 2378.0 1656.2 2381.0 1656.0 2384.0 1656.6 2387.0 1656.3 2390.0 1654.8 2393.0 1655.2 2396.0 1656.6 2399.0 1655.9 2400.0 1655.1 2402.0 1654.6 2405.0 1654.5 2408.0 1655.9 2411.0 1657.0 2414.0 1656.5 2417.0 1655.6 2420.0 1656.3 2423.0 1657.4 2426.0 1656.6 2429.0 1656.1 2432.0 1656.7 2435.0 1656.0 2438.0 1654.8 2441.0 1655.6 2444.0 1656.8 2447.0 1656.7 2450.0 1656.6 2453.0 1656.6 2456.0 1655.7 2459.0 1655.2 2462.0 1655.7 2465.0 1656.0 2468.0 1658.3 2471.0 1655.7 2474.0 1655.2 2477.0 1655.4 2480.0 1656.9 2483.0 1657.5 2486.0 1656.7 2489.0 1657.1 2492.0 1657.1 2495.0 1655.9 2498.0 1655.8 2501.0 1656.4 2504.0 1656.3 2507.0 1656.0 2510.0 1656.7 2513.0 1657.1 2516.0 1656.2 2519.0 1656.9 2522.0 1658.0 2525.0 1658.0 2528.0 1658.0 2531.0 1657.3 2534.0 1656.9 2537.0 1656.8 2540.0 1656.3 2543.0 1656.5 2546.0 1656.7 2549.0 1656.4 2552.0 1657.0 2555.0 1658.6 2558.0 1656.1 2561.0 1656.2 2564.0 1656.5 2567.0 1656.5 2570.0 1657.4 2573.0 1657.5 2576.0 1656.6 2579.0 1656.3 2582.0 1656.1 2585.0 1656.4 2588.0 1656.8 2591.0 1656.6 2594.0 1656.4 2597.0 1656.7 2600.0 1657.5 2600.0 1657.4 2603.0 1656.6 2606.0 1657.6 2609.0 1658.4 2612.0 1657.6 2615.0 1658.2 2618.0 1658.8 2621.0 1657.6 2624.0 1656.3 2627.0 1655.8 2630.0 1657.0 2633.0 1657.7 2636.0 1657.4 2639.0 1657.3 2642.0 1657.6 2645.0 1657.9 2648.0 1657.3 2651.0 1656.5 2654.0 1656.3 2657.0 1656.4 2660.0 1656.1 2663.0 1655.4 2666.0 1655.3 2669.0 1655.7 2672.0 1655.7 2675.0 1655.5 2678.0 1655.0 2681.0 1655.0 2684.0 1655.6 2687.0 1656.9 2690.0 1657.8 2693.0 1657.5 2696.0 1657.3 2699.0 1657.2 2702.0 1656.7 2705.0 1656.5 2708.0 1656.9 2711.0 1656.5 2714.0 1655.8 2717.0 1656.3 2720.0 1655.9 2723.0 1654.9 2726.0 1655.5 2729.0 1656.8 2732.0 1657.1 2735.0 1656.9 2738.0 1657.3 2741.0 1656.7 2744.0 1655.1 2747.0 1655.1 2750.0 1655.8 2753.0 1655.5 2756.0 1655.6 2759.0 1656.1 2760.0 1655.8 2762.0 1655.1 2765.0 1655.6 2768.0 1656.4 2771.0 1655.4 2774.0 1655.3 2777.0 1656.0 2779.9 1655.2 2782.9 1654.0 2785.9 1654.1 2788.8 1655.1 2791.8 1654.5 2794.7 1652.5 2797.7 1652.4 2800.6 1654.0 2803.6 1654.3 2806.6 1653.5 2809.0 1652.8 2809.5 1651.5 2812.5 1650.6 2815.5 1651.2 2818.5 1652.2 2821.5 1652.6 2824.4 1651.9 2827.4 1651.4 2830.4 1652.0 2833.4 1652.6 2836.4 1653.0 2839.4 1651.5 2842.3 1649.8 2845.3 1649.8 2848.3 1651.0 2851.2 1651.0 2854.2 1651.0 2857.1 1650.2 2857.8 1649.2 2860.0 1648.6 2862.9 1648.7 2865.7 1648.1 2868.4 1647.2 2871.1 1647.3 2873.7 1647.0 2876.4 1645.5 2879.0 1644.2 2881.5 1643.7 2884.1 1643.4 2886.7 1642.7 2889.3 1642.3 2890.4 1642.1 2891.9 1641.1 2894.6 1639.9 2897.2 1639.8 2899.9 1639.6 2902.5 1638.5 2905.1 1637.3 2907.6 1636.7 2910.1 1636.3 2912.6 1635.0 2914.9 1633.7 2916.6 1633.5 2917.1 1633.8 2919.3 1632.8 2921.3 1631.3 2923.1 1629.5 2924.9 1628.1 2926.6 1627.7 2928.3 1626.5 2929.8 1624.5 2931.3 1623.2 2932.7 1622.2 2934.1 1620.8 2935.5 1619.4 2936.2 1618.4 2936.8 1617.9 2938.0 1616.6 2939.1 1614.9 2940.1 1613.6 2941.0 1612.2 2942.0 1610.7 2942.8 1609.3 2943.7 1607.9 2944.5 1606.5 2945.3 1604.9 2946.0 1603.3 2946.1 1603.1 2946.8 1602.2 2947.5 1600.9 2948.2 1600.2 2948.8 1598.3 2949.4 1596.7 2949.9 1594.8 2950.5 1593.0 2951.1 1591.4 2951.6 1590.4 2952.2 1588.4 2952.7 1586.9 2953.3 1585.6 2953.8 1584.5 2954.4 1583.4 2954.9 1581.9 2955.5 1580.0 2955.8 1579.1 2956.1 1579.2 2956.7 1578.0 2957.3 1575.5 2958.0 1573.7 2958.7 1572.7 2959.4 1571.5 2960.1 1569.6 2960.9 1567.7 2961.6 1566.4 2962.3 1565.6 2963.0 1564.2 2963.6 1562.7 2964.2 1561.4 2964.8 1559.8 2965.4 1558.1 2965.9 1556.9 2966.4 1555.8 2966.9 1554.3 2967.3 1552.7 2967.7 1551.1 2968.1 1549.5 2968.5 1548.1 2968.8 1547.2 2968.9 1546.5 2969.2 1544.6 2969.5 1543.1 2969.7 1541.6 2969.9 1540.1 2970.2 1538.5 2970.4 1537.1 2970.5 1535.7 2970.7 1534.2 2970.9 1532.8 2971.1 1531.4 2971.2 1530.0 2971.4 1528.5 2971.6 1527.0 2971.7 1525.4 2971.9 1523.8 2972.1 1522.4 2972.2 1521.0 2972.4 1519.5 2972.6 1518.0 2972.7 1516.7 2972.9 1515.0 2973.0 1513.4 2973.2 1511.8 2973.4 1510.3 2973.6 1509.1 2973.8 1507.3 2973.9 1505.8 2974.1 1504.5 2974.4 1502.7 2974.6 1501.3 2974.8 1500.1 2975.1 1498.6 2975.2 1497.8 2975.4 1497.0 2975.7 1495.9 2976.1 1494.5 2976.4 1492.8 2976.8 1491.2 2977.2 1489.7 2977.6 1488.4 2978.0 1488.0 2978.4 1485.4 2978.9 1483.6 2979.3 1482.3 2979.8 1481.0 2980.3 1480.3 2980.8 1477.3 2981.3 1476.1 2981.8 1474.9 2982.4 1473.2 2982.9 1471.5 2983.4 1470.3 2983.9 1469.0 2984.3 1467.4 2984.8 1465.5 2985.0 1464.7 2985.3 1464.0 2985.7 1463.0 2986.2 1461.5 2986.6 1459.9 2987.1 1458.3 2987.6 1456.4 2988.0 1454.8 2988.5 1453.8 2989.0 1452.8 2989.4 1451.2 2989.9 1449.5 2990.3 1448.2 2990.8 1447.1 2991.3 1445.2 2991.7 1443.2 2992.1 1442.0 2992.6 1440.7 2993.0 1439.4 2993.4 1437.8 2993.8 1436.3 2994.2 1434.9 2994.6 1433.2 2994.8 1432.6 2995.0 1431.8 2995.4 1430.5 2995.8 1428.8 2996.1 1427.5 2996.5 1426.3 2996.8 1424.7 2997.1 1422.8 2997.5 1421.1 2997.8 1419.7 2998.1 1418.2 2998.4 1416.9 2998.8 1415.4 2999.1 1413.7 2999.4 1412.2 2999.7 1410.8 3000.0 1409.1 3000.3 1407.6 3000.7 1406.3 3001.0 1404.7 3001.3 1403.2 3001.6 1401.9 3002.0 1400.5 3002.3 1398.9 3002.7 1397.5 3003.0 1395.9 3003.4 1393.7 3003.8 1392.3 3004.0 1391.6 3004.1 1391.2 3004.5 1390.0 3004.9 1388.8 3005.3 1387.2 3005.7 1385.5 3006.1 1384.1 3006.5 1382.6 3006.9 1381.1 3007.3 1379.7 3007.8 1378.0 3008.2 1376.6 3008.6 1375.2 3009.1 1373.6 3009.6 1371.7 3010.1 1370.2 3010.6 1369.3 3011.1 1369.4 3011.7 1366.5 3012.0 1365.8 3012.3 1364.9 3012.9 1363.2 3013.5 1361.9 3014.1 1360.9 3014.7 1359.6 3015.4 1357.6 3016.0 1355.9 3016.7 1354.9 3017.4 1353.6 3018.1 1351.8 3018.9 1349.8 3019.9 1348.7 3021.3 1347.6 3022.6 1347.0 3023.6 1347.5 3024.8 1348.9 3025.6 1350.4 3026.3 1351.7 3026.9 1353.3 3027.5 1355.1 3028.0 1356.4 3028.5 1357.9 3029.0 1359.3 3029.4 1360.4 3029.9 1362.0 3030.4 1363.3 3030.8 1364.8 3031.3 1366.3 3031.8 1368.1 3032.3 1369.4 3032.8 1371.1 3033.2 1372.1 3033.3 1372.1 3033.8 1373.5 3034.3 1375.3 3034.8 1376.8 3035.4 1378.3 3035.9 1380.0 3036.3 1381.5 3036.8 1383.0 3037.3 1384.6 3037.7 1386.0 3038.2 1387.6 3038.6 1389.0 3039.0 1390.3 3039.4 1391.1 3039.8 1393.0 3040.2 1395.0 3040.6 1396.2 3040.9 1397.5 3041.2 1398.4 3041.3 1398.8 3041.6 1400.7 3041.9 1402.6 3042.2 1404.0 3042.5 1405.1 3042.7 1406.4 3043.0 1408.0 3043.2 1409.6 3043.5 1411.1 3043.7 1412.7 3043.9 1414.2 3044.2 1415.4 3044.4 1416.9 3044.6 1418.7 3044.9 1420.3 3045.1 1421.8 3045.3 1423.2 3045.6 1424.6 3045.8 1426.0 3046.1 1427.5 3046.3 1428.9 3046.6 1430.2 3046.9 1431.9 3047.0 1432.6 3047.2 1433.3 3047.5 1434.9 3047.8 1436.6 3048.1 1438.0 3048.5 1439.5 3048.8 1441.0 3049.1 1442.5 3049.5 1444.2 3049.8 1445.5 3050.2 1446.6 3050.5 1448.0 3050.9 1449.6 3051.3 1451.1 3051.6 1452.6 3052.0 1453.8 3052.4 1455.4 3052.8 1457.4 3053.1 1459.2 3053.5 1460.6 3053.9 1462.0 3054.3 1463.4 3054.7 1465.0 3055.0 1466.7 3055.4 1467.8 3055.8 1469.1 3056.2 1471.0 3056.5 1472.4 3056.8 1473.3 3056.9 1473.5 3057.2 1475.1 3057.6 1476.8 3058.0 1478.1 3058.4 1479.6 3058.8 1481.1 3059.2 1482.4 3059.6 1483.8 3060.0 1485.7 3060.4 1487.2 3060.8 1488.5 3061.2 1490.0 3061.5 1491.6 3061.9 1493.0 3062.3 1494.4 3062.7 1496.1 3063.1 1497.5 3063.4 1498.9 3063.8 1500.5 3064.1 1501.7 3064.5 1503.2 3064.8 1505.0 3065.1 1506.6 3065.4 1508.1 3065.7 1509.4 3066.0 1510.8 3066.3 1512.4 3066.6 1514.0 3066.6 1514.0 3066.8 1515.2 3067.0 1517.0 3067.3 1518.5 3067.5 1519.7 3067.6 1521.4 3067.8 1523.0 3068.0 1524.6 3068.2 1526.2 3068.4 1527.5 3068.5 1529.0 3068.7 1530.6 3068.9 1532.1 3069.1 1533.7 3069.2 1535.1 3069.4 1536.5 3069.6 1537.9 3069.8 1539.3 3070.0 1540.8 3070.2 1542.2 3070.4 1543.7 3070.7 1545.3 3071.0 1546.8 3071.0 1546.5 3071.4 1547.9 3071.7 1549.6 3072.1 1551.3 3072.5 1552.7 3072.9 1554.0 3073.4 1555.2 3073.8 1556.7 3074.3 1558.5 3074.8 1560.1 3075.3 1562.2 3075.8 1563.0 3076.4 1564.8 3077.0 1566.2 3077.6 1567.5 3078.2 1569.1 3078.9 1570.8 3079.5 1572.0 3080.2 1572.9 3080.9 1574.5 3081.6 1576.4 3082.3 1578.0 3082.9 1579.3 3083.0 1579.2 3083.6 1580.7 3084.3 1583.2 3084.9 1583.8 3085.6 1585.4 3086.3 1586.8 3087.0 1588.3 3087.7 1590.1 3088.5 1591.3 3089.2 1592.0 3090.0 1593.0 3090.8 1594.6 3091.6 1596.7 3092.4 1598.2 3093.3 1599.4 3094.1 1600.7 3095.0 1602.1 3096.0 1603.7 3096.0 1603.8 3097.0 1605.5 3097.9 1607.0 3098.9 1608.2 3099.9 1609.7 3101.0 1611.0 3102.0 1612.5 3103.1 1614.5 3104.2 1616.1 3105.4 1617.4 3106.6 1618.3 3107.8 1618.9 3109.1 1620.3 3110.6 1621.9 3112.1 1623.1 3112.4 1624.1 3113.7 1625.6 3115.4 1626.7 3117.1 1628.0 3118.8 1629.4 3120.7 1630.4 3122.6 1630.8 3124.6 1631.7 3126.6 1633.4 3128.7 1634.5 3130.9 1635.3 3133.3 1636.3 3135.2 1636.2 3135.7 1635.8 3138.1 1636.8 3140.7 1637.6 3143.2 1638.7 3145.8 1639.7 3148.5 1640.3 3151.1 1640.8 3153.8 1640.6 3156.6 1641.1 3159.3 1643.2 3162.1 1644.6 3164.9 1644.9 3167.8 1644.9 3167.8 1644.8 3170.6 1645.5 3173.4 1646.0 3176.3 1645.9 3179.1 1645.9 3182.0 1647.2 3184.8 1647.9 3187.7 1647.7 3190.6 1647.3 3193.5 1647.8 3196.4 1648.6 3199.3 1649.8 3202.2 1650.2 3205.2 1649.9 3208.1 1650.1 3211.0 1650.1 3214.0 1650.5 3216.6 1651.6 3217.0 1652.3 3219.9 1652.4 3222.9 1652.1 3225.9 1651.8 3228.8 1652.1 3231.8 1652.8 3234.8 1655.8 3237.8 1653.0 3240.7 1653.8 3243.7 1654.8 3246.7 1655.2 3249.7 1654.8 3252.7 1654.1 3255.6 1653.0 3258.6 1653.0 3261.6 1653.4 3264.6 1652.9 3267.6 1652.6 3270.6 1654.2 3273.6 1655.8 3276.6 1655.2 3279.6 1654.6 3282.0 1654.5 3282.6 1654.1 3285.6 1653.7 3288.6 1654.5 3291.6 1655.2 3294.6 1655.0 3297.6 1654.1 3300.6 1654.9 3303.6 1654.6 3306.6 1653.3 3309.6 1652.6 3312.6 1653.5 3315.6 1654.5 3318.6 1654.6 3321.6 1654.3 3324.6 1654.3 3327.6 1654.8 3330.6 1654.8 3333.6 1654.6 3336.6 1655.0 3339.6 1655.1 3342.6 1654.5 3345.6 1654.1 3348.6 1653.9 3351.6 1653.7 3354.6 1653.5 3357.6 1653.8 3360.6 1654.7 3363.6 1654.9 3366.6 1654.6 3369.6 1654.5 3372.6 1655.0 3375.6 1655.8 3378.6 1655.4 3381.6 1654.8 3384.6 1654.3 3387.6 1653.5 3390.6 1653.3 3393.6 1653.9 3396.6 1654.2 3399.6 1654.0 3400.0 1653.5 3402.6 1653.3 3405.6 1652.8 3408.6 1652.8 3411.6 1653.5 3414.6 1654.5 3417.6 1655.0 3420.6 1655.6 3423.6 1656.1 3426.6 1655.0 3429.6 1653.4 3432.6 1653.9 3435.6 1655.3 3438.6 1655.2 3441.6 1654.8 3444.6 1654.3 3447.6 1653.8 3450.6 1654.2 3453.6 1654.2 3456.6 1653.9 3459.6 1655.0 3462.6 1655.7 3465.6 1654.5 3468.6 1653.5 3471.6 1655.2 3474.6 1653.0 3477.6 1652.4 3480.6 1653.5 3483.6 1654.2 3486.6 1653.9 3489.6 1654.0 3492.6 1654.2 3495.6 1654.0 3498.6 1654.0 3501.6 1654.0 3504.6 1654.1 3507.6 1654.5 3510.6 1654.6 3513.6 1654.0 3516.6 1653.9 3519.6 1654.3 3522.6 1654.9 3525.6 1655.6 3528.6 1655.7 3531.6 1655.8 3534.6 1655.4 3537.6 1655.1 3540.6 1655.3 3543.6 1655.0 3546.6 1654.4 3549.6 1653.9 3552.6 1653.5 3555.6 1653.9 3558.6 1654.0 3561.6 1653.8 3564.6 1655.1 3567.6 1655.6 3570.6 1655.2 3573.6 1656.2 3576.6 1656.7 3579.6 1655.1 3582.6 1652.6 3585.6 1652.6 3588.6 1653.9 3591.6 1654.1 3594.6 1654.2 3597.6 1654.5 3600.0 1654.5 3600.6 1654.4 3603.6 1653.8 3606.6 1651.8 3609.6 1653.6 3612.6 1654.2 3615.6 1654.6 3618.6 1654.5 3621.6 1654.7 3624.6 1654.9 3627.6 1654.3 3630.6 1653.9 3633.6 1654.2 3636.6 1654.7 3639.6 1654.6 3642.6 1653.7 3645.6 1653.6 3648.6 1654.6 3651.6 1655.2 3654.6 1655.7 3657.6 1655.1 3660.6 1653.7 3663.6 1654.0 3666.6 1654.6 3669.6 1654.8 3672.6 1655.7 3675.6 1655.9 3678.6 1654.9 3681.6 1654.5 3684.6 1655.0 3687.6 1655.1 3690.6 1654.9 3693.6 1652.4 3696.6 1655.4 3699.6 1654.9 3702.6 1654.8 3705.6 1654.7 3708.6 1654.7 3711.6 1654.0 3714.6 1653.1 3717.6 1653.1 3720.6 1653.7 3723.6 1654.2 3726.6 1654.1 3729.6 1654.0 3732.6 1653.9 3735.6 1653.8 3738.6 1654.0 3741.6 1654.1 3744.6 1654.1 3747.6 1653.9 3750.6 1653.4 3753.6 1653.4 3756.6 1654.2 3759.6 1654.1 3762.6 1653.8 3765.6 1653.2 3768.6 1652.6 3771.6 1652.7 3774.6 1653.7 3777.6 1654.7 3780.6 1654.4 3783.6 1654.1 3786.6 1654.2 3789.6 1653.9 3792.6 1653.9 3795.6 1654.7 3798.6 1654.7 3801.6 1654.4 3804.6 1654.2 3807.6 1653.3 3810.6 1653.5 3813.6 1654.8 3816.6 1655.3 3819.6 1655.1 3822.6 1655.8 3825.6 1655.4 3828.6 1654.3 3831.6 1654.8 3834.6 1654.9 3837.6 1654.6 3840.6 1654.5 3843.6 1654.3 3846.6 1655.1 3849.6 1656.1 3852.6 1656.1 3855.6 1655.6 3858.6 1654.3 3861.6 1654.0 3864.6 1655.2 3867.6 1655.7 3870.6 1655.0 3873.6 1653.5 3876.6 1652.9 3879.6 1653.7 3882.6 1653.9 3885.6 1654.2 3888.6 1654.3 3891.6 1653.9 3894.6 1654.0 3897.6 1653.8 3900.6 1654.0 3903.6 1654.2 3906.6 1653.5 3909.6 1653.4 3912.6 1653.7 3915.6 1654.9 3918.6 1654.9 3921.6 1654.4 3924.6 1653.4 3927.6 1653.0 3930.6 1654.3 3933.6 1655.5 3936.6 1655.1 3939.6 1654.0 3942.6 1654.2 3945.6 1655.3 3948.6 1654.8 3951.6 1653.0 3954.6 1653.2 3957.6 1655.0 3960.6 1655.1 3963.6 1654.5 3966.6 1654.6 3969.6 1653.3 3972.6 1654.2 3975.6 1653.6 3978.6 1652.9 3981.6 1653.3 3984.6 1654.3 3987.6 1655.2 3990.6 1655.2 3993.6 1654.4 3996.6 1654.2 3999.6 1655.0 4000.0 1656.1 4002.6 1655.5 4005.6 1654.8 4008.6 1654.8 4011.6 1654.6 4014.6 1654.8 4017.6 1654.4 4020.6 1653.5 4023.6 1653.6 4026.6 1654.4 4029.6 1655.4 4032.6 1655.0 4035.6 1653.4 4038.6 1653.7 4041.6 1655.0 4044.6 1654.1 4047.6 1655.0 4050.6 1655.1 4053.6 1655.4 4056.6 1654.4 4059.6 1653.6 4062.6 1652.7 4065.6 1653.5 4068.6 1653.3 4071.6 1652.8 4074.6 1653.2 4077.6 1653.5 4080.6 1653.0 4083.6 1652.7 4086.6 1653.5 4089.6 1654.0 4092.6 1653.6 4095.6 1653.0 4098.6 1653.2 4101.6 1654.1 4104.6 1654.2 4107.6 1653.1 4110.6 1652.7 4113.6 1653.1 4116.6 1653.3 4119.6 1653.3 4122.6 1653.0 4125.5 1653.0 4128.5 1653.0 4131.5 1652.7 4134.5 1652.4 4137.5 1652.3 4140.5 1652.8 4143.5 1652.4 4146.5 1651.8 4149.5 1651.8 4152.5 1651.6 4155.5 1651.4 4158.0 1651.5 4158.5 1651.4 4160.9 1650.7 4162.8 1649.8 4164.3 1648.3 4165.7 1647.0 4167.0 1646.5 4168.3 1645.4 4169.6 1643.5 4170.9 1641.9 4172.3 1640.3 4173.0 1639.7" fill="none" stroke="#000080" stroke-width="5.8" stroke-linejoin="round" stroke-linecap="round"/>
<line x1="416.3" y1="573.5" x2="416.3" y2="1671" stroke="#1a1a1a" stroke-width="4.8" stroke-dasharray="12 8"/>
<line x1="431.0" y1="726.4" x2="431.0" y2="1671" stroke="#1a1a1a" stroke-width="4.8" stroke-dasharray="12 8"/>
<line x1="550.8" y1="546.1" x2="550.8" y2="1671" stroke="#1a1a1a" stroke-width="4.8" stroke-dasharray="12 8"/>
<line x1="650.6" y1="121.7" x2="650.6" y2="1671" stroke="#1a1a1a" stroke-width="4.8" stroke-dasharray="12 8"/>
<line x1="661.5" y1="82.0" x2="661.5" y2="1671" stroke="#1a1a1a" stroke-width="4.8" stroke-dasharray="12 8"/>
<line x1="713.5" y1="1021.4" x2="713.5" y2="1671" stroke="#5c5c5c" stroke-width="3.6" stroke-dasharray="11 9"/>
<line x1="1012.8" y1="546.4" x2="1012.8" y2="1671" stroke="#1a1a1a" stroke-width="4.8" stroke-dasharray="12 8"/>
<line x1="1052.0" y1="636.0" x2="1052.0" y2="1671" stroke="#1a1a1a" stroke-width="4.8" stroke-dasharray="12 8"/>
<line x1="1496.8" y1="552.7" x2="1496.8" y2="1671" stroke="#5c5c5c" stroke-width="3.6" stroke-dasharray="11 9"/>
<line x1="1533.8" y1="635.8" x2="1533.8" y2="1671" stroke="#1a1a1a" stroke-width="4.8" stroke-dasharray="12 8"/>
<line x1="1637.3" y1="559.0" x2="1637.3" y2="1671" stroke="#5c5c5c" stroke-width="3.6" stroke-dasharray="11 9"/>
<line x1="1689.7" y1="635.8" x2="1689.7" y2="1671" stroke="#1a1a1a" stroke-width="4.8" stroke-dasharray="12 8"/>
<g stroke="#000" stroke-width="6.8" fill="none" stroke-linecap="butt">
<line x1="149.4" y1="73.5" x2="911" y2="73.5"/>
<line x1="944.5" y1="73.5" x2="2092.8" y2="73.5"/>
<line x1="149.4" y1="1681.5" x2="911" y2="1681.5"/>
<line x1="944.5" y1="1681.5" x2="2092.8" y2="1681.5"/>
<line x1="152.2" y1="70.7" x2="152.2" y2="138.4"/>
<line x1="152.2" y1="167.5" x2="152.2" y2="202.4"/>
<line x1="152.2" y1="231.7" x2="152.2" y2="1684.3"/>
<line x1="2090" y1="70.7" x2="2090" y2="139.6"/>
<line x1="2090" y1="167.1" x2="2090" y2="202.6"/>
<line x1="2090" y1="231.7" x2="2090" y2="1712.0"/>
</g>
<g stroke="#000" stroke-width="5.6" fill="none" stroke-linecap="round">
<line x1="122.9" y1="152.6" x2="180.9" y2="124.5"/>
<line x1="122.9" y1="182.0" x2="180.9" y2="153.2"/>
<line x1="122.9" y1="216.0" x2="180.9" y2="189.0"/>
<line x1="122.9" y1="245.3" x2="180.9" y2="218.3"/>
<line x1="2061.3" y1="154.2" x2="2118.4" y2="125.1"/>
<line x1="2061.3" y1="181.2" x2="2118.4" y2="153.1"/>
<line x1="2061.3" y1="216.7" x2="2118.4" y2="188.7"/>
<line x1="2061.3" y1="245.8" x2="2118.4" y2="217.8"/>
<line x1="893.8" y1="102.6" x2="927.7" y2="44.3"/>
<line x1="927.3" y1="102.6" x2="961.1" y2="44.3"/>
<line x1="893.8" y1="1711" x2="928.5" y2="1651"/>
<line x1="927.5" y1="1711" x2="961" y2="1651"/>
</g>
<g stroke="#000" stroke-width="5.2">
<line x1="190.0" y1="1681" x2="190.0" y2="1698"/>
<line x1="227.8" y1="1681" x2="227.8" y2="1698"/>
<line x1="265.6" y1="1681" x2="265.6" y2="1698"/>
<line x1="303.4" y1="1681" x2="303.4" y2="1698"/>
<line x1="341.2" y1="1681" x2="341.2" y2="1712"/>
<line x1="379.0" y1="1681" x2="379.0" y2="1698"/>
<line x1="416.8" y1="1681" x2="416.8" y2="1698"/>
<line x1="454.6" y1="1681" x2="454.6" y2="1698"/>
<line x1="492.4" y1="1681" x2="492.4" y2="1698"/>
<line x1="530.2" y1="1681" x2="530.2" y2="1712"/>
<line x1="568.0" y1="1681" x2="568.0" y2="1698"/>
<line x1="605.8" y1="1681" x2="605.8" y2="1698"/>
<line x1="643.6" y1="1681" x2="643.6" y2="1698"/>
<line x1="681.4" y1="1681" x2="681.4" y2="1698"/>
<line x1="719.2" y1="1681" x2="719.2" y2="1712"/>
<line x1="757.0" y1="1681" x2="757.0" y2="1698"/>
<line x1="794.8" y1="1681" x2="794.8" y2="1698"/>
<line x1="832.6" y1="1681" x2="832.6" y2="1698"/>
<line x1="870.4" y1="1681" x2="870.4" y2="1698"/>
<line x1="942.8" y1="1681" x2="942.8" y2="1712"/>
<line x1="981.0" y1="1681" x2="981.0" y2="1698"/>
<line x1="1019.2" y1="1681" x2="1019.2" y2="1698"/>
<line x1="1057.4" y1="1681" x2="1057.4" y2="1698"/>
<line x1="1095.6" y1="1681" x2="1095.6" y2="1698"/>
<line x1="1133.8" y1="1681" x2="1133.8" y2="1712"/>
<line x1="1172.0" y1="1681" x2="1172.0" y2="1698"/>
<line x1="1210.2" y1="1681" x2="1210.2" y2="1698"/>
<line x1="1248.4" y1="1681" x2="1248.4" y2="1698"/>
<line x1="1286.6" y1="1681" x2="1286.6" y2="1698"/>
<line x1="1324.8" y1="1681" x2="1324.8" y2="1712"/>
<line x1="1363.0" y1="1681" x2="1363.0" y2="1698"/>
<line x1="1401.2" y1="1681" x2="1401.2" y2="1698"/>
<line x1="1439.4" y1="1681" x2="1439.4" y2="1698"/>
<line x1="1477.6" y1="1681" x2="1477.6" y2="1698"/>
<line x1="1515.8" y1="1681" x2="1515.8" y2="1712"/>
<line x1="1554.0" y1="1681" x2="1554.0" y2="1698"/>
<line x1="1592.2" y1="1681" x2="1592.2" y2="1698"/>
<line x1="1630.4" y1="1681" x2="1630.4" y2="1698"/>
<line x1="1668.6" y1="1681" x2="1668.6" y2="1698"/>
<line x1="1706.8" y1="1681" x2="1706.8" y2="1712"/>
<line x1="1745.0" y1="1681" x2="1745.0" y2="1698"/>
<line x1="1783.2" y1="1681" x2="1783.2" y2="1698"/>
<line x1="1821.4" y1="1681" x2="1821.4" y2="1698"/>
<line x1="1859.6" y1="1681" x2="1859.6" y2="1698"/>
<line x1="1897.8" y1="1681" x2="1897.8" y2="1712"/>
<line x1="1936.0" y1="1681" x2="1936.0" y2="1698"/>
<line x1="1974.2" y1="1681" x2="1974.2" y2="1698"/>
<line x1="2012.4" y1="1681" x2="2012.4" y2="1698"/>
<line x1="2050.6" y1="1681" x2="2050.6" y2="1698"/>
</g>
<line x1="152.2" y1="1681" x2="152.2" y2="1712" stroke="#000" stroke-width="5.6"/>
<text transform="translate(117.54 1781.50) scale(0.9150 1)" font-family='"Liberation Sans", Arial, sans-serif' font-weight="normal" font-size="68.17" fill="#000">30</text>
<text transform="translate(306.63 1781.50) scale(0.9150 1)" font-family='"Liberation Sans", Arial, sans-serif' font-weight="normal" font-size="68.17" fill="#000">35</text>
<text transform="translate(496.01 1781.50) scale(0.9150 1)" font-family='"Liberation Sans", Arial, sans-serif' font-weight="normal" font-size="68.17" fill="#000">40</text>
<text transform="translate(684.59 1781.50) scale(0.9150 1)" font-family='"Liberation Sans", Arial, sans-serif' font-weight="normal" font-size="69.19" fill="#000">45</text>
<text transform="translate(907.74 1781.50) scale(0.9150 1)" font-family='"Liberation Sans", Arial, sans-serif' font-weight="normal" font-size="68.17" fill="#000">60</text>
<text transform="translate(1098.83 1781.50) scale(0.9150 1)" font-family='"Liberation Sans", Arial, sans-serif' font-weight="normal" font-size="68.17" fill="#000">65</text>
<text transform="translate(1289.73 1781.50) scale(0.9150 1)" font-family='"Liberation Sans", Arial, sans-serif' font-weight="normal" font-size="68.17" fill="#000">70</text>
<text transform="translate(1480.30 1781.50) scale(0.9150 1)" font-family='"Liberation Sans", Arial, sans-serif' font-weight="normal" font-size="69.19" fill="#000">75</text>
<text transform="translate(1671.97 1781.50) scale(0.9150 1)" font-family='"Liberation Sans", Arial, sans-serif' font-weight="normal" font-size="68.17" fill="#000">80</text>
<text transform="translate(1863.06 1781.50) scale(0.9150 1)" font-family='"Liberation Sans", Arial, sans-serif' font-weight="normal" font-size="68.17" fill="#000">85</text>
<text transform="translate(2053.87 1781.50) scale(0.9150 1)" font-family='"Liberation Sans", Arial, sans-serif' font-weight="normal" font-size="68.17" fill="#000">90</text>
<text transform="translate(1053.10 1879.40) scale(0.9846 1)" font-family='"Liberation Sans", Arial, sans-serif' font-weight="normal" font-size="62.59" fill="#000">2θ, deg.</text>
<text transform="translate(88.80 1113.46) rotate(-90) scale(1.0222 1)" font-family='"Liberation Sans", Arial, sans-serif' font-weight="normal" font-size="61.05" fill="#000">Intensity, a.u.</text>
<text transform="translate(1042.44 2021.00) scale(0.9249 1)" font-family='"Liberation Serif", "Times New Roman", serif' font-weight="normal" font-size="85.03" fill="#000">(</text>
<text transform="translate(1070.03 2022.00) scale(0.9097 1)" font-family='"Liberation Serif", "Times New Roman", serif' font-weight="bold" font-size="89.14" fill="#000">c</text>
<text transform="translate(1106.37 2021.00) scale(0.9249 1)" font-family='"Liberation Serif", "Times New Roman", serif' font-weight="normal" font-size="85.03" fill="#000">)</text>
<polygon points="1801.1,146.7 1818.0,175.8 1784.2,175.8" fill="#000"/>
<rect x="1784.2" y="236.1" width="30.2" height="28.1" fill="#000"/>
<circle cx="1800.0" cy="344.5" r="15.6" fill="#000"/>
<circle cx="1800.0" cy="423.7" r="13.4" fill="none" stroke="#111" stroke-width="3.6"/>
<circle cx="1800.0" cy="423.7" r="1.8" fill="#555"/>
<text transform="translate(1850.47 176.80) scale(0.9529 1)" font-family='"Liberation Sans", Arial, sans-serif' font-weight="normal" font-size="56.40" fill="#000">CrN</text>
<text transform="translate(1853.70 261.00) scale(1.0459 1)" font-family='"Liberation Sans", Arial, sans-serif' font-weight="normal" font-size="55.96" fill="#000">γ-Mo</text>
<text transform="translate(1983.29 281.90) scale(1.0066 1)" font-family='"Liberation Sans", Arial, sans-serif' font-weight="normal" font-size="33.80" fill="#000">2</text>
<text transform="translate(2001.99 261.00) scale(0.9597 1)" font-family='"Liberation Sans", Arial, sans-serif' font-weight="normal" font-size="55.96" fill="#000">N</text>
<text transform="translate(1851.30 355.80) scale(1.1308 1)" font-family='"Liberation Sans", Arial, sans-serif' font-weight="normal" font-size="54.94" fill="#000">Mo</text>
<text transform="translate(1850.38 441.00) scale(0.9291 1)" font-family='"Liberation Sans", Arial, sans-serif' font-weight="normal" font-size="55.57" fill="#000">Cr</text>
<rect x="403.9" y="538.0" width="27.8" height="27.4" fill="#000"/>
<polygon points="446.3,689.0 463.0,717.3 429.6,717.3" fill="#000"/>
<circle cx="551.7" cy="520.3" r="14.9" fill="#000"/>
<rect x="494.7" y="224.5" width="26.9" height="28.9" fill="#000"/>
<polygon points="732.6,201.0 749.7,231.0 715.5,231.0" fill="#000"/>
<circle cx="713.4" cy="995.0" r="14.2" fill="none" stroke="#111" stroke-width="3.6"/>
<circle cx="713.4" cy="995.0" r="1.8" fill="#555"/>
<rect x="999.2" y="512.0" width="27.2" height="26.4" fill="#000"/>
<polygon points="1052.4,598.4 1069.6,628.8 1035.2,628.8" fill="#000"/>
<rect x="1482.4" y="511.1" width="28.0" height="27.2" fill="#000"/>
<polygon points="1533.5,599.0 1550.3,628.6 1516.8,628.6" fill="#000"/>
<rect x="1624.7" y="511.0" width="28.0" height="27.3" fill="#000"/>
<polygon points="1688.2,599.9 1705.4,628.6 1671.0,628.6" fill="#000"/>
<text transform="translate(529.52 251.80) scale(1.0250 1)" font-family='"Liberation Sans", Arial, sans-serif' font-weight="normal" font-size="42.11" fill="#000">(200)</text>
<text transform="translate(763.10 231.00) scale(1.0489 1)" font-family='"Liberation Sans", Arial, sans-serif' font-weight="normal" font-size="41.53" fill="#000">(200)</text>
<text transform="translate(742.88 1007.00) scale(1.0339 1)" font-family='"Liberation Sans", Arial, sans-serif' font-weight="normal" font-size="42.44" fill="#000">(110)</text>
<text transform="translate(431.70 522.53) rotate(-90) scale(1.0301 1)" font-family='"Liberation Sans", Arial, sans-serif' font-weight="normal" font-size="42.73" fill="#000">(111)</text>
<text transform="translate(462.30 674.34) rotate(-90) scale(0.9973 1)" font-family='"Liberation Sans", Arial, sans-serif' font-weight="normal" font-size="42.73" fill="#000">(111)</text>
<text transform="translate(563.50 487.91) rotate(-90) scale(0.9856 1)" font-family='"Liberation Sans", Arial, sans-serif' font-weight="normal" font-size="42.73" fill="#000">(110)</text>
<text transform="translate(1024.80 493.09) rotate(-90) scale(1.0163 1)" font-family='"Liberation Sans", Arial, sans-serif' font-weight="normal" font-size="42.73" fill="#000">(220)</text>
<text transform="translate(1070.40 578.69) rotate(-90) scale(1.0163 1)" font-family='"Liberation Sans", Arial, sans-serif' font-weight="normal" font-size="42.73" fill="#000">(220)</text>
<text transform="translate(1508.60 494.57) rotate(-90) scale(1.0068 1)" font-family='"Liberation Sans", Arial, sans-serif' font-weight="normal" font-size="42.73" fill="#000">(311)</text>
<text transform="translate(1553.40 586.62) rotate(-90) scale(1.0248 1)" font-family='"Liberation Sans", Arial, sans-serif' font-weight="normal" font-size="42.73" fill="#000">(311)</text>
<text transform="translate(1648.50 493.01) rotate(-90) scale(1.0237 1)" font-family='"Liberation Sans", Arial, sans-serif' font-weight="normal" font-size="42.73" fill="#000">(222)</text>
<text transform="translate(1704.50 586.62) rotate(-90) scale(1.0248 1)" font-family='"Liberation Sans", Arial, sans-serif' font-weight="normal" font-size="42.73" fill="#000">(222)</text>
<line x1="571.0" y1="208.4" x2="626.3" y2="160.6" stroke="#000" stroke-width="3"/>
<polygon points="642.7,146.4 625.5,173.9 628.2,159.0 613.0,159.5" fill="#000"/>
<line x1="777.6" y1="186.0" x2="687.4" y2="113.0" stroke="#000" stroke-width="3"/>
<polygon points="670.5,99.3 700.6,111.4 685.4,111.4 688.6,126.2" fill="#000"/>
<text transform="translate(1798.27 919.00) scale(0.9262 1)" font-family='"Liberation Sans", Arial, sans-serif' font-weight="bold" font-size="52.29" fill="#111111">Λ = 3.5 µm</text>
<text transform="translate(1767.77 1049.50) scale(0.9455 1)" font-family='"Liberation Sans", Arial, sans-serif' font-weight="bold" font-size="51.56" fill="#ff0000">Λ = 1.55 µm</text>
<text transform="translate(1767.77 1158.80) scale(0.9645 1)" font-family='"Liberation Sans", Arial, sans-serif' font-weight="bold" font-size="50.55" fill="#0000ff">Λ = 0.74 µm</text>
<text transform="translate(1770.77 1283.00) scale(0.9478 1)" font-family='"Liberation Sans", Arial, sans-serif' font-weight="bold" font-size="51.42" fill="#ff00ff">Λ = 0.36 µm</text>
<text transform="translate(1773.57 1433.50) scale(0.9538 1)" font-family='"Liberation Sans", Arial, sans-serif' font-weight="bold" font-size="51.27" fill="#00701a">Λ = 0.15 µm</text>
<text transform="translate(1750.67 1617.60) scale(0.9534 1)" font-family='"Liberation Sans", Arial, sans-serif' font-weight="bold" font-size="51.27" fill="#000080">Λ = 0.075 µm</text>
</svg></body></html>
